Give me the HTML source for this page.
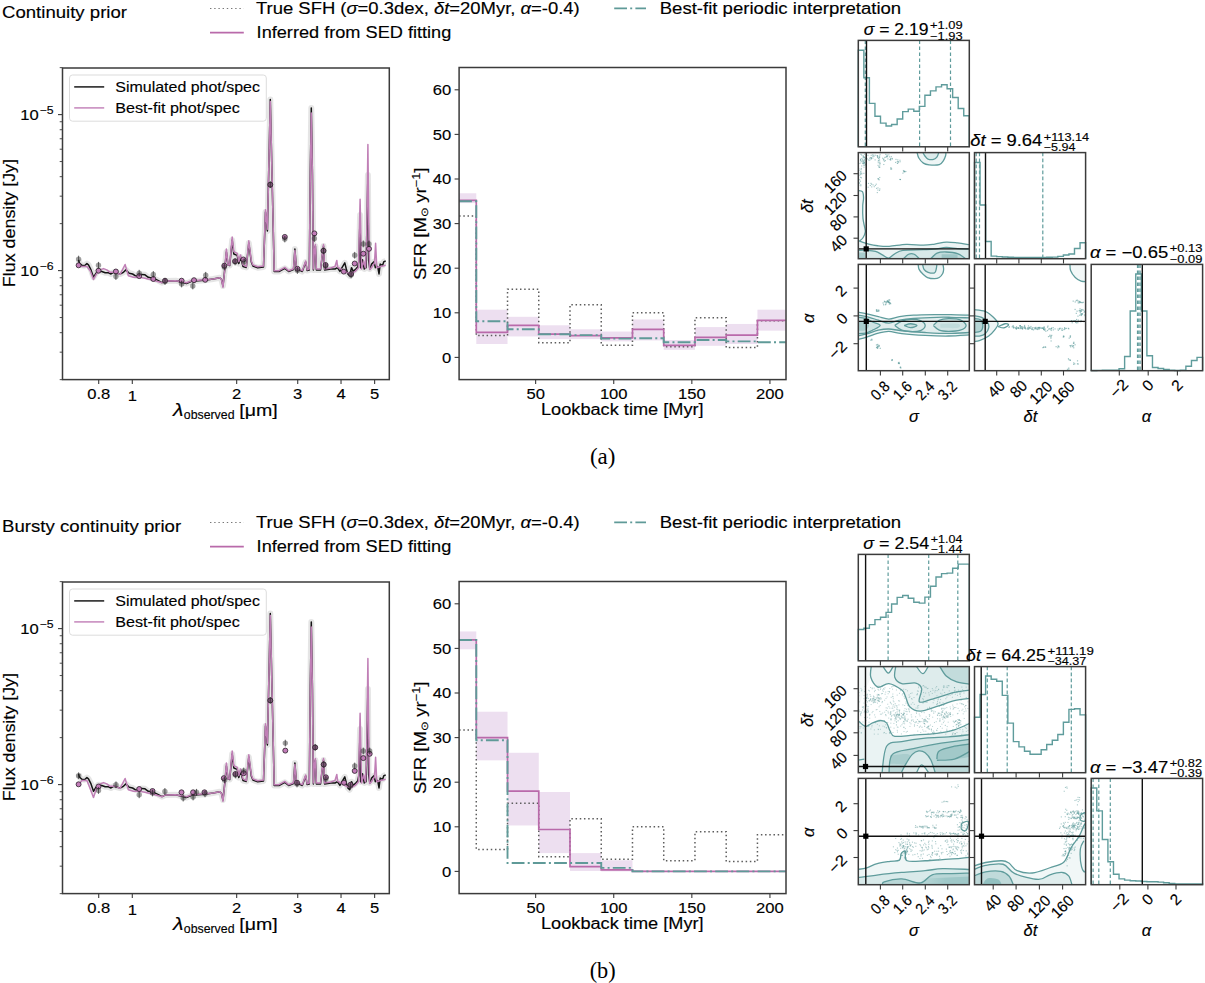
<!DOCTYPE html><html><head><meta charset="utf-8"><style>html,body{margin:0;padding:0;background:#fff}svg{display:block} text{stroke:#000;stroke-width:0.15px;paint-order:stroke}</style></head><body>
<svg width="1205" height="983" viewBox="0 0 1205 983">
<rect width="1205" height="983" fill="#fff"/>
<text x="2" y="17.9" font-size="17.2" font-family='"Liberation Sans", sans-serif' fill="#000" textLength="125" lengthAdjust="spacingAndGlyphs" >Continuity prior</text>
<line x1="210" y1="8.5" x2="243.7" y2="8.5" stroke="#777" stroke-width="1.2" stroke-dasharray="1.4,2.8"/>
<text x="256" y="13.7" font-size="16" font-family='"Liberation Sans", sans-serif' fill="#000" textLength="323.7" lengthAdjust="spacingAndGlyphs" >True SFH (<tspan font-style="italic">σ</tspan>=0.3dex, <tspan font-style="italic">δt</tspan>=20Myr, <tspan font-style="italic">α</tspan>=-0.4)</text>
<line x1="614.2" y1="8.3" x2="646" y2="8.3" stroke="#5f9a98" stroke-width="1.7" stroke-dasharray="12.8,3.2,2,3.2"/>
<text x="659.7" y="13.7" font-size="16" font-family='"Liberation Sans", sans-serif' fill="#000" textLength="241.5" lengthAdjust="spacingAndGlyphs" >Best-fit periodic interpretation</text>
<line x1="210" y1="32.7" x2="243.8" y2="32.7" stroke="#b96aaa" stroke-width="1.7" />
<text x="256.6" y="38.2" font-size="16" font-family='"Liberation Sans", sans-serif' fill="#000" textLength="194.7" lengthAdjust="spacingAndGlyphs" >Inferred from SED fitting</text>
<line x1="98.7" y1="379.6" x2="98.7" y2="384.1" stroke="#3b3b3b" stroke-width="1.1" />
<text x="98.7" y="398.8" font-size="15.0" font-family='"Liberation Sans", sans-serif' fill="#000" text-anchor="middle" textLength="23.06" lengthAdjust="spacingAndGlyphs" >0.8</text>
<line x1="132.3" y1="379.6" x2="132.3" y2="384.1" stroke="#3b3b3b" stroke-width="1.1" />
<text x="132.3" y="400.6" font-size="15.0" font-family='"Liberation Sans", sans-serif' fill="#000" text-anchor="middle" textLength="9.23" lengthAdjust="spacingAndGlyphs" >1</text>
<line x1="236.67" y1="379.6" x2="236.67" y2="384.1" stroke="#3b3b3b" stroke-width="1.1" />
<text x="236.67" y="398.8" font-size="15.0" font-family='"Liberation Sans", sans-serif' fill="#000" text-anchor="middle" textLength="9.23" lengthAdjust="spacingAndGlyphs" >2</text>
<line x1="297.72" y1="379.6" x2="297.72" y2="384.1" stroke="#3b3b3b" stroke-width="1.1" />
<text x="297.72" y="398.8" font-size="15.0" font-family='"Liberation Sans", sans-serif' fill="#000" text-anchor="middle" textLength="9.23" lengthAdjust="spacingAndGlyphs" >3</text>
<line x1="341.03" y1="379.6" x2="341.03" y2="384.1" stroke="#3b3b3b" stroke-width="1.1" />
<text x="341.03" y="398.8" font-size="15.0" font-family='"Liberation Sans", sans-serif' fill="#000" text-anchor="middle" textLength="9.23" lengthAdjust="spacingAndGlyphs" >4</text>
<line x1="374.63" y1="379.6" x2="374.63" y2="384.1" stroke="#3b3b3b" stroke-width="1.1" />
<text x="374.63" y="398.8" font-size="15.0" font-family='"Liberation Sans", sans-serif' fill="#000" text-anchor="middle" textLength="9.23" lengthAdjust="spacingAndGlyphs" >5</text>
<line x1="59.7" y1="379.64" x2="62.5" y2="379.64" stroke="#3b3b3b" stroke-width="0.9" />
<line x1="59.7" y1="352.17" x2="62.5" y2="352.17" stroke="#3b3b3b" stroke-width="0.9" />
<line x1="59.7" y1="332.68" x2="62.5" y2="332.68" stroke="#3b3b3b" stroke-width="0.9" />
<line x1="59.7" y1="317.56" x2="62.5" y2="317.56" stroke="#3b3b3b" stroke-width="0.9" />
<line x1="59.7" y1="305.21" x2="62.5" y2="305.21" stroke="#3b3b3b" stroke-width="0.9" />
<line x1="59.7" y1="294.76" x2="62.5" y2="294.76" stroke="#3b3b3b" stroke-width="0.9" />
<line x1="59.7" y1="285.72" x2="62.5" y2="285.72" stroke="#3b3b3b" stroke-width="0.9" />
<line x1="59.7" y1="277.74" x2="62.5" y2="277.74" stroke="#3b3b3b" stroke-width="0.9" />
<line x1="58" y1="270.6" x2="62.5" y2="270.6" stroke="#3b3b3b" stroke-width="1.1" />
<line x1="59.7" y1="223.64" x2="62.5" y2="223.64" stroke="#3b3b3b" stroke-width="0.9" />
<line x1="59.7" y1="196.17" x2="62.5" y2="196.17" stroke="#3b3b3b" stroke-width="0.9" />
<line x1="59.7" y1="176.68" x2="62.5" y2="176.68" stroke="#3b3b3b" stroke-width="0.9" />
<line x1="59.7" y1="161.56" x2="62.5" y2="161.56" stroke="#3b3b3b" stroke-width="0.9" />
<line x1="59.7" y1="149.21" x2="62.5" y2="149.21" stroke="#3b3b3b" stroke-width="0.9" />
<line x1="59.7" y1="138.76" x2="62.5" y2="138.76" stroke="#3b3b3b" stroke-width="0.9" />
<line x1="59.7" y1="129.72" x2="62.5" y2="129.72" stroke="#3b3b3b" stroke-width="0.9" />
<line x1="59.7" y1="121.74" x2="62.5" y2="121.74" stroke="#3b3b3b" stroke-width="0.9" />
<line x1="58" y1="114.6" x2="62.5" y2="114.6" stroke="#3b3b3b" stroke-width="1.1" />
<line x1="59.7" y1="67.64" x2="62.5" y2="67.64" stroke="#3b3b3b" stroke-width="0.9" />
<text x="38.7" y="119.7" font-size="15.0" font-family='"Liberation Sans", sans-serif' fill="#000" text-anchor="end" textLength="18.45" lengthAdjust="spacingAndGlyphs" >10</text>
<text x="39.7" y="113.6" font-size="11" font-family='"Liberation Sans", sans-serif' fill="#000" textLength="14" lengthAdjust="spacingAndGlyphs" >−5</text>
<text x="38.7" y="275.7" font-size="15.0" font-family='"Liberation Sans", sans-serif' fill="#000" text-anchor="end" textLength="18.45" lengthAdjust="spacingAndGlyphs" >10</text>
<text x="39.7" y="269.6" font-size="11" font-family='"Liberation Sans", sans-serif' fill="#000" textLength="14" lengthAdjust="spacingAndGlyphs" >−6</text>
<text x="172.9" y="415.8" font-size="17.5" font-family='"Liberation Sans", sans-serif' fill="#000" textLength="10.5" lengthAdjust="spacingAndGlyphs" font-style="italic">λ</text>
<text x="183.8" y="418.8" font-size="12.2" font-family='"Liberation Sans", sans-serif' fill="#000" textLength="50.7" lengthAdjust="spacingAndGlyphs" >observed</text>
<text x="239.3" y="415.8" font-size="16" font-family='"Liberation Sans", sans-serif' fill="#000" textLength="38.5" lengthAdjust="spacingAndGlyphs" >[μm]</text>
<text x="15.3" y="223.1" font-size="16" font-family='"Liberation Sans", sans-serif' fill="#000" text-anchor="middle" textLength="128.2" lengthAdjust="spacingAndGlyphs" transform="rotate(-90 15.3 223.1)" >Flux density [Jy]</text>
<rect x="62.5" y="68" width="326.8" height="311.6" fill="none" stroke="#3b3b3b" stroke-width="1.5" />
<line x1="535.64" y1="379.6" x2="535.64" y2="384.1" stroke="#3b3b3b" stroke-width="1.1" />
<text x="535.64" y="398.8" font-size="15.0" font-family='"Liberation Sans", sans-serif' fill="#000" text-anchor="middle" textLength="18.45" lengthAdjust="spacingAndGlyphs" >50</text>
<line x1="613.74" y1="379.6" x2="613.74" y2="384.1" stroke="#3b3b3b" stroke-width="1.1" />
<text x="613.74" y="398.8" font-size="15.0" font-family='"Liberation Sans", sans-serif' fill="#000" text-anchor="middle" textLength="27.68" lengthAdjust="spacingAndGlyphs" >100</text>
<line x1="691.84" y1="379.6" x2="691.84" y2="384.1" stroke="#3b3b3b" stroke-width="1.1" />
<text x="691.84" y="398.8" font-size="15.0" font-family='"Liberation Sans", sans-serif' fill="#000" text-anchor="middle" textLength="27.68" lengthAdjust="spacingAndGlyphs" >150</text>
<line x1="769.94" y1="379.6" x2="769.94" y2="384.1" stroke="#3b3b3b" stroke-width="1.1" />
<text x="769.94" y="398.8" font-size="15.0" font-family='"Liberation Sans", sans-serif' fill="#000" text-anchor="middle" textLength="27.68" lengthAdjust="spacingAndGlyphs" >200</text>
<line x1="454.6" y1="357.4" x2="459.1" y2="357.4" stroke="#3b3b3b" stroke-width="1.1" />
<text x="451.2" y="362.8" font-size="15.0" font-family='"Liberation Sans", sans-serif' fill="#000" text-anchor="end" textLength="9.23" lengthAdjust="spacingAndGlyphs" >0</text>
<line x1="454.6" y1="312.8" x2="459.1" y2="312.8" stroke="#3b3b3b" stroke-width="1.1" />
<text x="451.2" y="318.2" font-size="15.0" font-family='"Liberation Sans", sans-serif' fill="#000" text-anchor="end" textLength="18.45" lengthAdjust="spacingAndGlyphs" >10</text>
<line x1="454.6" y1="268.2" x2="459.1" y2="268.2" stroke="#3b3b3b" stroke-width="1.1" />
<text x="451.2" y="273.6" font-size="15.0" font-family='"Liberation Sans", sans-serif' fill="#000" text-anchor="end" textLength="18.45" lengthAdjust="spacingAndGlyphs" >20</text>
<line x1="454.6" y1="223.6" x2="459.1" y2="223.6" stroke="#3b3b3b" stroke-width="1.1" />
<text x="451.2" y="229" font-size="15.0" font-family='"Liberation Sans", sans-serif' fill="#000" text-anchor="end" textLength="18.45" lengthAdjust="spacingAndGlyphs" >30</text>
<line x1="454.6" y1="179" x2="459.1" y2="179" stroke="#3b3b3b" stroke-width="1.1" />
<text x="451.2" y="184.4" font-size="15.0" font-family='"Liberation Sans", sans-serif' fill="#000" text-anchor="end" textLength="18.45" lengthAdjust="spacingAndGlyphs" >40</text>
<line x1="454.6" y1="134.4" x2="459.1" y2="134.4" stroke="#3b3b3b" stroke-width="1.1" />
<text x="451.2" y="139.8" font-size="15.0" font-family='"Liberation Sans", sans-serif' fill="#000" text-anchor="end" textLength="18.45" lengthAdjust="spacingAndGlyphs" >50</text>
<line x1="454.6" y1="89.8" x2="459.1" y2="89.8" stroke="#3b3b3b" stroke-width="1.1" />
<text x="451.2" y="95.2" font-size="15.0" font-family='"Liberation Sans", sans-serif' fill="#000" text-anchor="end" textLength="18.45" lengthAdjust="spacingAndGlyphs" >60</text>
<text x="622.3" y="415.4" font-size="16" font-family='"Liberation Sans", sans-serif' fill="#000" text-anchor="middle" textLength="162.6" lengthAdjust="spacingAndGlyphs" >Lookback time [Myr]</text>
<text x="426" y="223.8" font-size="16" font-family='"Liberation Sans", sans-serif' fill="#000" text-anchor="middle" textLength="112.4" lengthAdjust="spacingAndGlyphs" transform="rotate(-90 426 223.8)" >SFR [M<tspan font-size="10" dy="2.5">⊙</tspan><tspan dy="-2.5"> yr</tspan><tspan font-size="11" dy="-6">−1</tspan><tspan dy="6">]</tspan></text>
<g clip-path="url(#sfrclip0)">
<clipPath id="sfrclip0"><rect x="459.1" y="67.5" width="326.9" height="312.1"/></clipPath>
<rect x="459.1" y="193.27" width="17.18" height="9.81" fill="#eddff0" stroke="none" stroke-width="1" />
<rect x="476.28" y="309.68" width="31.24" height="34.34" fill="#eddff0" stroke="none" stroke-width="1" />
<rect x="507.52" y="316.81" width="31.24" height="19.62" fill="#eddff0" stroke="none" stroke-width="1" />
<rect x="538.76" y="325.29" width="31.24" height="13.83" fill="#eddff0" stroke="none" stroke-width="1" />
<rect x="570" y="329.3" width="31.24" height="9.81" fill="#eddff0" stroke="none" stroke-width="1" />
<rect x="601.24" y="331.53" width="31.24" height="9.81" fill="#eddff0" stroke="none" stroke-width="1" />
<rect x="632.48" y="319.49" width="31.24" height="20.96" fill="#eddff0" stroke="none" stroke-width="1" />
<rect x="663.72" y="340.01" width="31.24" height="9.81" fill="#eddff0" stroke="none" stroke-width="1" />
<rect x="694.96" y="327.07" width="31.24" height="18.73" fill="#eddff0" stroke="none" stroke-width="1" />
<rect x="726.2" y="323.95" width="31.24" height="20.07" fill="#eddff0" stroke="none" stroke-width="1" />
<rect x="757.44" y="309.68" width="28.12" height="20.96" fill="#eddff0" stroke="none" stroke-width="1" />
<polyline points="459.1,216.02 476.28,216.02 476.28,335.55 507.52,335.55 507.52,289.16 538.76,289.16 538.76,342.68 570,342.68 570,304.77 601.24,304.77 601.24,345.36 632.48,345.36 632.48,312.8 663.72,312.8 663.72,346.7 694.96,346.7 694.96,317.71 726.2,317.71 726.2,347.59 757.44,347.59 757.44,320.83 785.56,320.83" fill="none" stroke="#5c5c5c" stroke-width="1.5" stroke-dasharray="1.5,2.7"/>
<polyline points="459.1,200.41 476.28,200.41 476.28,332.42 507.52,332.42 507.52,325.29 538.76,325.29 538.76,334.21 570,334.21 570,335.55 601.24,335.55 601.24,337.78 632.48,337.78 632.48,329.3 663.72,329.3 663.72,345.36 694.96,345.36 694.96,337.33 726.2,337.33 726.2,335.1 757.44,335.1 757.44,320.38 785.56,320.38" fill="none" stroke="#b96aaa" stroke-width="1.7" />
<polyline points="459.1,201.3 476.28,201.3 476.28,321.27 507.52,321.27 507.52,329.3 538.76,329.3 538.76,334.21 570,334.21 570,335.1 601.24,335.1 601.24,338.67 632.48,338.67 632.48,338.22 663.72,338.22 663.72,342.24 694.96,342.24 694.96,340.01 726.2,340.01 726.2,341.34 757.44,341.34 757.44,342.24 785.56,342.24" fill="none" stroke="#5f9a98" stroke-width="1.9" stroke-dasharray="12.8,3.2,2,3.2"/>
</g>
<rect x="459.1" y="67.5" width="326.9" height="312.1" fill="none" stroke="#3b3b3b" stroke-width="1.5" />
<text x="2" y="531.9" font-size="17.2" font-family='"Liberation Sans", sans-serif' fill="#000" textLength="179.2" lengthAdjust="spacingAndGlyphs" >Bursty continuity prior</text>
<line x1="210" y1="522.5" x2="243.7" y2="522.5" stroke="#777" stroke-width="1.2" stroke-dasharray="1.4,2.8"/>
<text x="256" y="527.7" font-size="16" font-family='"Liberation Sans", sans-serif' fill="#000" textLength="323.7" lengthAdjust="spacingAndGlyphs" >True SFH (<tspan font-style="italic">σ</tspan>=0.3dex, <tspan font-style="italic">δt</tspan>=20Myr, <tspan font-style="italic">α</tspan>=-0.4)</text>
<line x1="614.2" y1="522.3" x2="646" y2="522.3" stroke="#5f9a98" stroke-width="1.7" stroke-dasharray="12.8,3.2,2,3.2"/>
<text x="659.7" y="527.7" font-size="16" font-family='"Liberation Sans", sans-serif' fill="#000" textLength="241.5" lengthAdjust="spacingAndGlyphs" >Best-fit periodic interpretation</text>
<line x1="210" y1="546.7" x2="243.8" y2="546.7" stroke="#b96aaa" stroke-width="1.7" />
<text x="256.6" y="552.2" font-size="16" font-family='"Liberation Sans", sans-serif' fill="#000" textLength="194.7" lengthAdjust="spacingAndGlyphs" >Inferred from SED fitting</text>
<line x1="98.7" y1="893.6" x2="98.7" y2="898.1" stroke="#3b3b3b" stroke-width="1.1" />
<text x="98.7" y="912.8" font-size="15.0" font-family='"Liberation Sans", sans-serif' fill="#000" text-anchor="middle" textLength="23.06" lengthAdjust="spacingAndGlyphs" >0.8</text>
<line x1="132.3" y1="893.6" x2="132.3" y2="898.1" stroke="#3b3b3b" stroke-width="1.1" />
<text x="132.3" y="914.6" font-size="15.0" font-family='"Liberation Sans", sans-serif' fill="#000" text-anchor="middle" textLength="9.23" lengthAdjust="spacingAndGlyphs" >1</text>
<line x1="236.67" y1="893.6" x2="236.67" y2="898.1" stroke="#3b3b3b" stroke-width="1.1" />
<text x="236.67" y="912.8" font-size="15.0" font-family='"Liberation Sans", sans-serif' fill="#000" text-anchor="middle" textLength="9.23" lengthAdjust="spacingAndGlyphs" >2</text>
<line x1="297.72" y1="893.6" x2="297.72" y2="898.1" stroke="#3b3b3b" stroke-width="1.1" />
<text x="297.72" y="912.8" font-size="15.0" font-family='"Liberation Sans", sans-serif' fill="#000" text-anchor="middle" textLength="9.23" lengthAdjust="spacingAndGlyphs" >3</text>
<line x1="341.03" y1="893.6" x2="341.03" y2="898.1" stroke="#3b3b3b" stroke-width="1.1" />
<text x="341.03" y="912.8" font-size="15.0" font-family='"Liberation Sans", sans-serif' fill="#000" text-anchor="middle" textLength="9.23" lengthAdjust="spacingAndGlyphs" >4</text>
<line x1="374.63" y1="893.6" x2="374.63" y2="898.1" stroke="#3b3b3b" stroke-width="1.1" />
<text x="374.63" y="912.8" font-size="15.0" font-family='"Liberation Sans", sans-serif' fill="#000" text-anchor="middle" textLength="9.23" lengthAdjust="spacingAndGlyphs" >5</text>
<line x1="59.7" y1="893.64" x2="62.5" y2="893.64" stroke="#3b3b3b" stroke-width="0.9" />
<line x1="59.7" y1="866.17" x2="62.5" y2="866.17" stroke="#3b3b3b" stroke-width="0.9" />
<line x1="59.7" y1="846.68" x2="62.5" y2="846.68" stroke="#3b3b3b" stroke-width="0.9" />
<line x1="59.7" y1="831.56" x2="62.5" y2="831.56" stroke="#3b3b3b" stroke-width="0.9" />
<line x1="59.7" y1="819.21" x2="62.5" y2="819.21" stroke="#3b3b3b" stroke-width="0.9" />
<line x1="59.7" y1="808.76" x2="62.5" y2="808.76" stroke="#3b3b3b" stroke-width="0.9" />
<line x1="59.7" y1="799.72" x2="62.5" y2="799.72" stroke="#3b3b3b" stroke-width="0.9" />
<line x1="59.7" y1="791.74" x2="62.5" y2="791.74" stroke="#3b3b3b" stroke-width="0.9" />
<line x1="58" y1="784.6" x2="62.5" y2="784.6" stroke="#3b3b3b" stroke-width="1.1" />
<line x1="59.7" y1="737.64" x2="62.5" y2="737.64" stroke="#3b3b3b" stroke-width="0.9" />
<line x1="59.7" y1="710.17" x2="62.5" y2="710.17" stroke="#3b3b3b" stroke-width="0.9" />
<line x1="59.7" y1="690.68" x2="62.5" y2="690.68" stroke="#3b3b3b" stroke-width="0.9" />
<line x1="59.7" y1="675.56" x2="62.5" y2="675.56" stroke="#3b3b3b" stroke-width="0.9" />
<line x1="59.7" y1="663.21" x2="62.5" y2="663.21" stroke="#3b3b3b" stroke-width="0.9" />
<line x1="59.7" y1="652.76" x2="62.5" y2="652.76" stroke="#3b3b3b" stroke-width="0.9" />
<line x1="59.7" y1="643.72" x2="62.5" y2="643.72" stroke="#3b3b3b" stroke-width="0.9" />
<line x1="59.7" y1="635.74" x2="62.5" y2="635.74" stroke="#3b3b3b" stroke-width="0.9" />
<line x1="58" y1="628.6" x2="62.5" y2="628.6" stroke="#3b3b3b" stroke-width="1.1" />
<line x1="59.7" y1="581.64" x2="62.5" y2="581.64" stroke="#3b3b3b" stroke-width="0.9" />
<text x="38.7" y="633.7" font-size="15.0" font-family='"Liberation Sans", sans-serif' fill="#000" text-anchor="end" textLength="18.45" lengthAdjust="spacingAndGlyphs" >10</text>
<text x="39.7" y="627.6" font-size="11" font-family='"Liberation Sans", sans-serif' fill="#000" textLength="14" lengthAdjust="spacingAndGlyphs" >−5</text>
<text x="38.7" y="789.7" font-size="15.0" font-family='"Liberation Sans", sans-serif' fill="#000" text-anchor="end" textLength="18.45" lengthAdjust="spacingAndGlyphs" >10</text>
<text x="39.7" y="783.6" font-size="11" font-family='"Liberation Sans", sans-serif' fill="#000" textLength="14" lengthAdjust="spacingAndGlyphs" >−6</text>
<text x="172.9" y="929.8" font-size="17.5" font-family='"Liberation Sans", sans-serif' fill="#000" textLength="10.5" lengthAdjust="spacingAndGlyphs" font-style="italic">λ</text>
<text x="183.8" y="932.8" font-size="12.2" font-family='"Liberation Sans", sans-serif' fill="#000" textLength="50.7" lengthAdjust="spacingAndGlyphs" >observed</text>
<text x="239.3" y="929.8" font-size="16" font-family='"Liberation Sans", sans-serif' fill="#000" textLength="38.5" lengthAdjust="spacingAndGlyphs" >[μm]</text>
<text x="15.3" y="737.1" font-size="16" font-family='"Liberation Sans", sans-serif' fill="#000" text-anchor="middle" textLength="128.2" lengthAdjust="spacingAndGlyphs" transform="rotate(-90 15.3 737.1)" >Flux density [Jy]</text>
<rect x="62.5" y="582" width="326.8" height="311.6" fill="none" stroke="#3b3b3b" stroke-width="1.5" />
<line x1="535.64" y1="893.6" x2="535.64" y2="898.1" stroke="#3b3b3b" stroke-width="1.1" />
<text x="535.64" y="912.8" font-size="15.0" font-family='"Liberation Sans", sans-serif' fill="#000" text-anchor="middle" textLength="18.45" lengthAdjust="spacingAndGlyphs" >50</text>
<line x1="613.74" y1="893.6" x2="613.74" y2="898.1" stroke="#3b3b3b" stroke-width="1.1" />
<text x="613.74" y="912.8" font-size="15.0" font-family='"Liberation Sans", sans-serif' fill="#000" text-anchor="middle" textLength="27.68" lengthAdjust="spacingAndGlyphs" >100</text>
<line x1="691.84" y1="893.6" x2="691.84" y2="898.1" stroke="#3b3b3b" stroke-width="1.1" />
<text x="691.84" y="912.8" font-size="15.0" font-family='"Liberation Sans", sans-serif' fill="#000" text-anchor="middle" textLength="27.68" lengthAdjust="spacingAndGlyphs" >150</text>
<line x1="769.94" y1="893.6" x2="769.94" y2="898.1" stroke="#3b3b3b" stroke-width="1.1" />
<text x="769.94" y="912.8" font-size="15.0" font-family='"Liberation Sans", sans-serif' fill="#000" text-anchor="middle" textLength="27.68" lengthAdjust="spacingAndGlyphs" >200</text>
<line x1="454.6" y1="871.4" x2="459.1" y2="871.4" stroke="#3b3b3b" stroke-width="1.1" />
<text x="451.2" y="876.8" font-size="15.0" font-family='"Liberation Sans", sans-serif' fill="#000" text-anchor="end" textLength="9.23" lengthAdjust="spacingAndGlyphs" >0</text>
<line x1="454.6" y1="826.8" x2="459.1" y2="826.8" stroke="#3b3b3b" stroke-width="1.1" />
<text x="451.2" y="832.2" font-size="15.0" font-family='"Liberation Sans", sans-serif' fill="#000" text-anchor="end" textLength="18.45" lengthAdjust="spacingAndGlyphs" >10</text>
<line x1="454.6" y1="782.2" x2="459.1" y2="782.2" stroke="#3b3b3b" stroke-width="1.1" />
<text x="451.2" y="787.6" font-size="15.0" font-family='"Liberation Sans", sans-serif' fill="#000" text-anchor="end" textLength="18.45" lengthAdjust="spacingAndGlyphs" >20</text>
<line x1="454.6" y1="737.6" x2="459.1" y2="737.6" stroke="#3b3b3b" stroke-width="1.1" />
<text x="451.2" y="743" font-size="15.0" font-family='"Liberation Sans", sans-serif' fill="#000" text-anchor="end" textLength="18.45" lengthAdjust="spacingAndGlyphs" >30</text>
<line x1="454.6" y1="693" x2="459.1" y2="693" stroke="#3b3b3b" stroke-width="1.1" />
<text x="451.2" y="698.4" font-size="15.0" font-family='"Liberation Sans", sans-serif' fill="#000" text-anchor="end" textLength="18.45" lengthAdjust="spacingAndGlyphs" >40</text>
<line x1="454.6" y1="648.4" x2="459.1" y2="648.4" stroke="#3b3b3b" stroke-width="1.1" />
<text x="451.2" y="653.8" font-size="15.0" font-family='"Liberation Sans", sans-serif' fill="#000" text-anchor="end" textLength="18.45" lengthAdjust="spacingAndGlyphs" >50</text>
<line x1="454.6" y1="603.8" x2="459.1" y2="603.8" stroke="#3b3b3b" stroke-width="1.1" />
<text x="451.2" y="609.2" font-size="15.0" font-family='"Liberation Sans", sans-serif' fill="#000" text-anchor="end" textLength="18.45" lengthAdjust="spacingAndGlyphs" >60</text>
<text x="622.3" y="929.4" font-size="16" font-family='"Liberation Sans", sans-serif' fill="#000" text-anchor="middle" textLength="162.6" lengthAdjust="spacingAndGlyphs" >Lookback time [Myr]</text>
<text x="426" y="737.8" font-size="16" font-family='"Liberation Sans", sans-serif' fill="#000" text-anchor="middle" textLength="112.4" lengthAdjust="spacingAndGlyphs" transform="rotate(-90 426 737.8)" >SFR [M<tspan font-size="10" dy="2.5">⊙</tspan><tspan dy="-2.5"> yr</tspan><tspan font-size="11" dy="-6">−1</tspan><tspan dy="6">]</tspan></text>
<g clip-path="url(#sfrclip514)">
<clipPath id="sfrclip514"><rect x="459.1" y="581.5" width="326.9" height="312.1"/></clipPath>
<rect x="459.1" y="631.45" width="17.18" height="17.84" fill="#eddff0" stroke="none" stroke-width="1" />
<rect x="476.28" y="711.73" width="31.24" height="48.61" fill="#eddff0" stroke="none" stroke-width="1" />
<rect x="507.52" y="752.76" width="31.24" height="72.7" fill="#eddff0" stroke="none" stroke-width="1" />
<rect x="538.76" y="792.01" width="31.24" height="61.1" fill="#eddff0" stroke="none" stroke-width="1" />
<rect x="570" y="853.11" width="31.24" height="17.84" fill="#eddff0" stroke="none" stroke-width="1" />
<rect x="601.24" y="860.25" width="31.24" height="11.15" fill="#eddff0" stroke="none" stroke-width="1" />
<rect x="632.48" y="870.06" width="31.24" height="1.34" fill="#eddff0" stroke="none" stroke-width="1" />
<rect x="663.72" y="870.95" width="31.24" height="0.45" fill="#eddff0" stroke="none" stroke-width="1" />
<rect x="694.96" y="870.95" width="31.24" height="0.45" fill="#eddff0" stroke="none" stroke-width="1" />
<rect x="726.2" y="870.95" width="31.24" height="0.45" fill="#eddff0" stroke="none" stroke-width="1" />
<rect x="757.44" y="870.95" width="28.12" height="0.45" fill="#eddff0" stroke="none" stroke-width="1" />
<polyline points="459.1,730.02 476.28,730.02 476.28,849.55 507.52,849.55 507.52,803.16 538.76,803.16 538.76,856.68 570,856.68 570,818.77 601.24,818.77 601.24,859.36 632.48,859.36 632.48,826.8 663.72,826.8 663.72,860.7 694.96,860.7 694.96,831.71 726.2,831.71 726.2,861.59 757.44,861.59 757.44,834.83 785.56,834.83" fill="none" stroke="#5c5c5c" stroke-width="1.5" stroke-dasharray="1.5,2.7"/>
<polyline points="459.1,639.93 476.28,639.93 476.28,737.6 507.52,737.6 507.52,791.12 538.76,791.12 538.76,829.48 570,829.48 570,866.72 601.24,866.72 601.24,869.79 632.48,869.79 632.48,871.4 663.72,871.4 663.72,871.4 694.96,871.4 694.96,871.4 726.2,871.4 726.2,871.4 757.44,871.4 757.44,871.4 785.56,871.4" fill="none" stroke="#b96aaa" stroke-width="1.7" />
<polyline points="459.1,639.93 476.28,639.93 476.28,740.28 507.52,740.28 507.52,862.93 538.76,862.93 538.76,862.93 570,862.93 570,862.93 601.24,862.93 601.24,867.83 632.48,867.83 632.48,871.4 663.72,871.4 663.72,871.4 694.96,871.4 694.96,871.4 726.2,871.4 726.2,871.4 757.44,871.4 757.44,871.4 785.56,871.4" fill="none" stroke="#5f9a98" stroke-width="1.9" stroke-dasharray="12.8,3.2,2,3.2"/>
</g>
<rect x="459.1" y="581.5" width="326.9" height="312.1" fill="none" stroke="#3b3b3b" stroke-width="1.5" />
<polyline points="858.3,146.8 858.3,50.26 863.85,50.26 863.85,77.72 869.4,77.72 869.4,103.36 874.95,103.36 874.95,116.18 880.5,116.18 880.5,123.13 886.05,123.13 886.05,125.94 891.6,125.94 891.6,124.48 897.15,124.48 897.15,118.98 902.7,118.98 902.7,111.66 908.25,111.66 908.25,109.1 913.8,109.1 913.8,111.29 919.35,111.29 919.35,106.41 924.9,106.41 924.9,95.18 930.45,95.18 930.45,90.91 936,90.91 936,86.88 941.55,86.88 941.55,84.8 947.1,84.8 947.1,88.71 952.65,88.71 952.65,97.5 958.2,97.5 958.2,108.49 963.75,108.49 963.75,115.81 969.3,115.81 969.3,146.8" fill="none" stroke="#5f9c9c" stroke-width="1.4" />
<line x1="865.3" y1="40.4" x2="865.3" y2="146.8" stroke="#5f9c9c" stroke-width="1.2" stroke-dasharray="3.6,2.4"/>
<line x1="919.6" y1="40.4" x2="919.6" y2="146.8" stroke="#5f9c9c" stroke-width="1.2" stroke-dasharray="3.6,2.4"/>
<line x1="950.5" y1="40.4" x2="950.5" y2="146.8" stroke="#5f9c9c" stroke-width="1.2" stroke-dasharray="3.6,2.4"/>
<line x1="866.5" y1="40.4" x2="866.5" y2="146.8" stroke="#111" stroke-width="1.4" />
<polyline points="974.5,258.7 974.5,162.48 980.05,162.48 980.05,205.06 985.61,205.06 985.61,241.56 991.16,241.56 991.16,256.11 996.72,256.11 996.72,256.64 1002.27,256.64 1002.27,257.03 1007.83,257.03 1007.83,257.3 1013.38,257.3 1013.38,257.43 1018.94,257.43 1018.94,257.43 1024.49,257.43 1024.49,257.43 1030.05,257.43 1030.05,257.43 1035.61,257.43 1035.61,257.43 1041.16,257.43 1041.16,257.43 1046.71,257.43 1046.71,257.3 1052.27,257.3 1052.27,257.16 1057.82,257.16 1057.82,256.37 1063.38,256.37 1063.38,255.05 1068.93,255.05 1068.93,253.99 1074.49,253.99 1074.49,248.44 1080.04,248.44 1080.04,242.75 1085.6,242.75 1085.6,258.7" fill="none" stroke="#5f9c9c" stroke-width="1.4" />
<line x1="976.2" y1="152.6" x2="976.2" y2="258.7" stroke="#5f9c9c" stroke-width="1.2" stroke-dasharray="3.6,2.4"/>
<line x1="979.5" y1="152.6" x2="979.5" y2="258.7" stroke="#5f9c9c" stroke-width="1.2" stroke-dasharray="3.6,2.4"/>
<line x1="1042.8" y1="152.6" x2="1042.8" y2="258.7" stroke="#5f9c9c" stroke-width="1.2" stroke-dasharray="3.6,2.4"/>
<line x1="985.5" y1="152.6" x2="985.5" y2="258.7" stroke="#111" stroke-width="1.4" />
<polyline points="1091.2,370.7 1091.2,370.46 1096.77,370.46 1096.77,370.34 1102.34,370.34 1102.34,370.21 1107.91,370.21 1107.91,370.08 1113.48,370.08 1113.48,370.08 1119.05,370.08 1119.05,368.81 1124.62,368.81 1124.62,356.48 1130.19,356.48 1130.19,310.95 1135.76,310.95 1135.76,274.07 1141.33,274.07 1141.33,310.95 1146.9,310.95 1146.9,355.71 1152.47,355.71 1152.47,367.54 1158.04,367.54 1158.04,368.56 1163.61,368.56 1163.61,369.45 1169.18,369.45 1169.18,370.08 1174.75,370.08 1174.75,370.46 1180.32,370.46 1180.32,370.08 1185.89,370.08 1185.89,366.27 1191.46,366.27 1191.46,360.54 1197.03,360.54 1197.03,357.37 1202.6,357.37 1202.6,370.7" fill="none" stroke="#5f9c9c" stroke-width="1.4" />
<line x1="1137.5" y1="264.4" x2="1137.5" y2="370.7" stroke="#5f9c9c" stroke-width="1.2" stroke-dasharray="3.6,2.4"/>
<line x1="1138.8" y1="264.4" x2="1138.8" y2="370.7" stroke="#5f9c9c" stroke-width="1.2" stroke-dasharray="3.6,2.4"/>
<line x1="1140.1" y1="264.4" x2="1140.1" y2="370.7" stroke="#5f9c9c" stroke-width="1.2" stroke-dasharray="3.6,2.4"/>
<line x1="1142.3" y1="264.4" x2="1142.3" y2="370.7" stroke="#111" stroke-width="1.4" />
<clipPath id="ct10"><rect x="858.3" y="152.6" width="111" height="106.1"/></clipPath><g clip-path="url(#ct10)">
<path d="M917.11,152.51 C917.39,153.42 917.77,156.21 918.82,157.98 C919.86,159.74 921.67,161.97 923.38,163.11 C925.09,164.25 926.42,164.57 929.07,164.81 C931.73,165.06 936.96,165.25 939.33,164.59 C941.7,163.92 942.27,162.31 943.32,160.83 C944.36,159.34 945.16,157.08 945.6,155.7 C946.04,154.31 945.88,153.04 945.94,152.51 Z" fill="#eef5f5" />
<path d="M922.81,152.51 C923.19,153.13 924.23,155.17 925.09,156.27 C925.94,157.37 926.51,158.6 927.93,159.12 C929.36,159.63 932.11,159.72 933.63,159.34 C935.15,158.96 936.2,157.98 937.05,156.84 C937.91,155.7 938.48,153.23 938.76,152.51 Z" fill="#dcebeb" />
<path d="M858.19,190.46 C858.89,190.65 861.51,190.36 862.41,191.6 C863.3,192.83 863.49,195.49 863.55,197.86 C863.6,200.24 862.84,202.42 862.75,205.84 C862.65,209.26 862.65,214.77 862.98,218.38 C863.3,221.98 864.31,225.21 864.69,227.49 C865.07,229.77 865.54,230.34 865.26,232.05 C864.97,233.76 863.93,236.23 862.98,237.75 C862.03,239.27 860.13,240.6 859.56,241.17 L858.19,241.17 Z" fill="#f1f7f7" />
<path d="M858.19,240.6 C859.94,241.17 865.41,243.16 868.68,244.02 C871.94,244.87 874.37,245.35 877.79,245.73 C881.21,246.11 884.44,246.52 889.19,246.3 C893.94,246.07 900.58,244.55 906.28,244.36 C911.98,244.17 918.63,245.21 923.38,245.16 C928.12,245.1 930.97,244.53 934.77,244.02 C938.57,243.5 942.37,242.27 946.17,242.08 C949.97,241.89 953.77,242.46 957.56,242.88 C961.36,243.3 967.06,244.3 968.96,244.59 L968.96,259.4 L858.19,259.4 Z" fill="#ecf4f4" />
<path d="M858.19,250.28 C859.75,250.28 864.65,250.09 867.54,250.28 C870.42,250.47 873.04,250.66 875.51,251.42 C877.98,252.18 880.17,253.74 882.35,254.84 C884.53,255.94 886.53,258.22 888.62,258.03 C890.71,257.84 892.51,255 894.89,253.7 C897.26,252.41 898.11,250.95 902.86,250.28 C907.61,249.62 918.06,249.91 923.38,249.72 C928.69,249.53 930.97,249.53 934.77,249.15 C938.57,248.77 942.37,247.53 946.17,247.44 C949.97,247.34 953.77,248.29 957.56,248.58 C961.36,248.86 967.06,249.05 968.96,249.15 L968.96,259.4 L858.19,259.4 Z" fill="#d8e9e9" />
<path d="M902.86,259.4 C903.81,258.55 906.66,255.13 908.56,254.27 C910.46,253.42 912.36,253.42 914.26,254.27 C916.16,255.13 919.01,258.55 919.96,259.4 Z" fill="#c6dfdf" />
<path d="M930.21,259.4 C931.35,258.36 934.39,254.37 937.05,253.13 C939.71,251.9 942.75,251.9 946.17,251.99 C949.59,252.09 954.15,252.47 957.56,253.7 C960.98,254.94 965.16,258.45 966.68,259.4 Z" fill="#c1dcdc" />
<path d="M941.61,254.27 L957.56,254.27 L957.56,258.83 L941.61,258.83 Z" fill="#9ec7c7" />
<path d="M858.19,252.56 L865.26,252.56 L865.26,258.83 L858.19,258.83 Z" fill="#a9cdcd" />
<path d="M917.11,152.51 C917.39,153.42 917.77,156.21 918.82,157.98 C919.86,159.74 921.67,161.97 923.38,163.11 C925.09,164.25 926.42,164.57 929.07,164.81 C931.73,165.06 936.96,165.25 939.33,164.59 C941.7,163.92 942.27,162.31 943.32,160.83 C944.36,159.34 945.16,157.08 945.6,155.7 C946.04,154.31 945.88,153.04 945.94,152.51" fill="none" stroke="#5f9c9c" stroke-width="1.3" />
<path d="M922.81,152.51 C923.19,153.13 924.23,155.17 925.09,156.27 C925.94,157.37 926.51,158.6 927.93,159.12 C929.36,159.63 932.11,159.72 933.63,159.34 C935.15,158.96 936.2,157.98 937.05,156.84 C937.91,155.7 938.48,153.23 938.76,152.51" fill="none" stroke="#5f9c9c" stroke-width="1.3" />
<path d="M858.19,190.46 C858.89,190.65 861.51,190.36 862.41,191.6 C863.3,192.83 863.49,195.49 863.55,197.86 C863.6,200.24 862.84,202.42 862.75,205.84 C862.65,209.26 862.65,214.77 862.98,218.38 C863.3,221.98 864.31,225.21 864.69,227.49 C865.07,229.77 865.54,230.34 865.26,232.05 C864.97,233.76 863.93,236.23 862.98,237.75 C862.03,239.27 860.13,240.6 859.56,241.17" fill="none" stroke="#5f9c9c" stroke-width="1.3" />
<path d="M858.19,240.6 C859.94,241.17 865.41,243.16 868.68,244.02 C871.94,244.87 874.37,245.35 877.79,245.73 C881.21,246.11 884.44,246.52 889.19,246.3 C893.94,246.07 900.58,244.55 906.28,244.36 C911.98,244.17 918.63,245.21 923.38,245.16 C928.12,245.1 930.97,244.53 934.77,244.02 C938.57,243.5 942.37,242.27 946.17,242.08 C949.97,241.89 953.77,242.46 957.56,242.88 C961.36,243.3 967.06,244.3 968.96,244.59" fill="none" stroke="#5f9c9c" stroke-width="1.3" />
<path d="M858.19,250.28 C859.75,250.28 864.65,250.09 867.54,250.28 C870.42,250.47 873.04,250.66 875.51,251.42 C877.98,252.18 880.17,253.74 882.35,254.84 C884.53,255.94 886.53,258.22 888.62,258.03 C890.71,257.84 892.51,255 894.89,253.7 C897.26,252.41 898.11,250.95 902.86,250.28 C907.61,249.62 918.06,249.91 923.38,249.72 C928.69,249.53 930.97,249.53 934.77,249.15 C938.57,248.77 942.37,247.53 946.17,247.44 C949.97,247.34 953.77,248.29 957.56,248.58 C961.36,248.86 967.06,249.05 968.96,249.15" fill="none" stroke="#5f9c9c" stroke-width="1.3" />
<path d="M902.86,259.4 C903.81,258.55 906.66,255.13 908.56,254.27 C910.46,253.42 912.36,253.42 914.26,254.27 C916.16,255.13 919.01,258.55 919.96,259.4" fill="none" stroke="#5f9c9c" stroke-width="1.3" />
<path d="M930.21,259.4 C931.35,258.36 934.39,254.37 937.05,253.13 C939.71,251.9 942.75,251.9 946.17,251.99 C949.59,252.09 954.15,252.47 957.56,253.7 C960.98,254.94 965.16,258.45 966.68,259.4" fill="none" stroke="#5f9c9c" stroke-width="1.3" />
<rect x="860.33" y="161.43" width="1.1" height="1.1" fill="#5f9c9c" opacity="0.6"/>
<rect x="864.13" y="157.37" width="1.1" height="1.1" fill="#5f9c9c" opacity="0.6"/>
<rect x="860.16" y="159.41" width="1.1" height="1.1" fill="#5f9c9c" opacity="0.6"/>
<rect x="863.24" y="164.71" width="1.1" height="1.1" fill="#5f9c9c" opacity="0.6"/>
<rect x="860.35" y="153.81" width="1.1" height="1.1" fill="#5f9c9c" opacity="0.6"/>
<rect x="863.63" y="161.87" width="1.1" height="1.1" fill="#5f9c9c" opacity="0.6"/>
<rect x="865.05" y="164.18" width="1.1" height="1.1" fill="#5f9c9c" opacity="0.6"/>
<rect x="862.25" y="158.46" width="1.1" height="1.1" fill="#5f9c9c" opacity="0.6"/>
<rect x="866.82" y="158.39" width="1.1" height="1.1" fill="#5f9c9c" opacity="0.6"/>
<rect x="861.09" y="154.52" width="1.1" height="1.1" fill="#5f9c9c" opacity="0.6"/>
<rect x="862.59" y="160.37" width="1.1" height="1.1" fill="#5f9c9c" opacity="0.6"/>
<rect x="861.84" y="159.42" width="1.1" height="1.1" fill="#5f9c9c" opacity="0.6"/>
<rect x="862.89" y="162.86" width="1.1" height="1.1" fill="#5f9c9c" opacity="0.6"/>
<rect x="864.3" y="160.66" width="1.1" height="1.1" fill="#5f9c9c" opacity="0.6"/>
<rect x="859.37" y="162.91" width="1.1" height="1.1" fill="#5f9c9c" opacity="0.6"/>
<rect x="860" y="158.93" width="1.1" height="1.1" fill="#5f9c9c" opacity="0.6"/>
<rect x="859.91" y="159.72" width="1.1" height="1.1" fill="#5f9c9c" opacity="0.6"/>
<rect x="861.1" y="160.68" width="1.1" height="1.1" fill="#5f9c9c" opacity="0.6"/>
<rect x="868.07" y="159.48" width="1.1" height="1.1" fill="#5f9c9c" opacity="0.6"/>
<rect x="863.87" y="153.67" width="1.1" height="1.1" fill="#5f9c9c" opacity="0.6"/>
<rect x="861.93" y="162.73" width="1.1" height="1.1" fill="#5f9c9c" opacity="0.6"/>
<rect x="862.27" y="161.39" width="1.1" height="1.1" fill="#5f9c9c" opacity="0.6"/>
<rect x="862.6" y="155.12" width="1.1" height="1.1" fill="#5f9c9c" opacity="0.6"/>
<rect x="863.39" y="156" width="1.1" height="1.1" fill="#5f9c9c" opacity="0.6"/>
<rect x="865.63" y="157.4" width="1.1" height="1.1" fill="#5f9c9c" opacity="0.6"/>
<rect x="863.6" y="159.72" width="1.1" height="1.1" fill="#5f9c9c" opacity="0.6"/>
<rect x="864.06" y="156.96" width="1.1" height="1.1" fill="#5f9c9c" opacity="0.6"/>
<rect x="864.13" y="159.14" width="1.1" height="1.1" fill="#5f9c9c" opacity="0.6"/>
<rect x="864.59" y="162.55" width="1.1" height="1.1" fill="#5f9c9c" opacity="0.6"/>
<rect x="862.67" y="156.15" width="1.1" height="1.1" fill="#5f9c9c" opacity="0.6"/>
<rect x="863.74" y="161.84" width="1.1" height="1.1" fill="#5f9c9c" opacity="0.6"/>
<rect x="865.23" y="157.99" width="1.1" height="1.1" fill="#5f9c9c" opacity="0.6"/>
<rect x="863.38" y="162.02" width="1.1" height="1.1" fill="#5f9c9c" opacity="0.6"/>
<rect x="862.91" y="160.66" width="1.1" height="1.1" fill="#5f9c9c" opacity="0.6"/>
<rect x="862.74" y="156.98" width="1.1" height="1.1" fill="#5f9c9c" opacity="0.6"/>
<rect x="860.69" y="157.9" width="1.1" height="1.1" fill="#5f9c9c" opacity="0.6"/>
<rect x="863.44" y="166.6" width="1.1" height="1.1" fill="#5f9c9c" opacity="0.6"/>
<rect x="864.1" y="164.51" width="1.1" height="1.1" fill="#5f9c9c" opacity="0.6"/>
<rect x="863.76" y="162.89" width="1.1" height="1.1" fill="#5f9c9c" opacity="0.6"/>
<rect x="862.74" y="163.22" width="1.1" height="1.1" fill="#5f9c9c" opacity="0.6"/>
<rect x="873.44" y="155.73" width="1.1" height="1.1" fill="#5f9c9c" opacity="0.6"/>
<rect x="869.22" y="159.64" width="1.1" height="1.1" fill="#5f9c9c" opacity="0.6"/>
<rect x="870.82" y="157.95" width="1.1" height="1.1" fill="#5f9c9c" opacity="0.6"/>
<rect x="871.9" y="154.35" width="1.1" height="1.1" fill="#5f9c9c" opacity="0.6"/>
<rect x="874.56" y="159.32" width="1.1" height="1.1" fill="#5f9c9c" opacity="0.6"/>
<rect x="870.71" y="157.57" width="1.1" height="1.1" fill="#5f9c9c" opacity="0.6"/>
<rect x="870.62" y="154.78" width="1.1" height="1.1" fill="#5f9c9c" opacity="0.6"/>
<rect x="870.21" y="156.93" width="1.1" height="1.1" fill="#5f9c9c" opacity="0.6"/>
<rect x="872.31" y="157.5" width="1.1" height="1.1" fill="#5f9c9c" opacity="0.6"/>
<rect x="870.51" y="158.6" width="1.1" height="1.1" fill="#5f9c9c" opacity="0.6"/>
<rect x="869.1" y="157.64" width="1.1" height="1.1" fill="#5f9c9c" opacity="0.6"/>
<rect x="872.31" y="155.79" width="1.1" height="1.1" fill="#5f9c9c" opacity="0.6"/>
<rect x="867.34" y="154.74" width="1.1" height="1.1" fill="#5f9c9c" opacity="0.6"/>
<rect x="870.81" y="157.19" width="1.1" height="1.1" fill="#5f9c9c" opacity="0.6"/>
<rect x="873.05" y="154.57" width="1.1" height="1.1" fill="#5f9c9c" opacity="0.6"/>
<rect x="877.82" y="157.77" width="1.1" height="1.1" fill="#5f9c9c" opacity="0.6"/>
<rect x="877.54" y="150.89" width="1.1" height="1.1" fill="#5f9c9c" opacity="0.6"/>
<rect x="879.19" y="161.56" width="1.1" height="1.1" fill="#5f9c9c" opacity="0.6"/>
<rect x="879.53" y="154.2" width="1.1" height="1.1" fill="#5f9c9c" opacity="0.6"/>
<rect x="877.11" y="156.79" width="1.1" height="1.1" fill="#5f9c9c" opacity="0.6"/>
<rect x="882.07" y="157.69" width="1.1" height="1.1" fill="#5f9c9c" opacity="0.6"/>
<rect x="878.01" y="159.84" width="1.1" height="1.1" fill="#5f9c9c" opacity="0.6"/>
<rect x="877.67" y="160.53" width="1.1" height="1.1" fill="#5f9c9c" opacity="0.6"/>
<rect x="876.64" y="155.21" width="1.1" height="1.1" fill="#5f9c9c" opacity="0.6"/>
<rect x="879.04" y="159.53" width="1.1" height="1.1" fill="#5f9c9c" opacity="0.6"/>
<rect x="878.93" y="156.97" width="1.1" height="1.1" fill="#5f9c9c" opacity="0.6"/>
<rect x="874.7" y="154.66" width="1.1" height="1.1" fill="#5f9c9c" opacity="0.6"/>
<rect x="876.77" y="155.07" width="1.1" height="1.1" fill="#5f9c9c" opacity="0.6"/>
<rect x="878.81" y="155.52" width="1.1" height="1.1" fill="#5f9c9c" opacity="0.6"/>
<rect x="879.16" y="156.48" width="1.1" height="1.1" fill="#5f9c9c" opacity="0.6"/>
<rect x="877.24" y="156.56" width="1.1" height="1.1" fill="#5f9c9c" opacity="0.6"/>
<rect x="878.54" y="158.24" width="1.1" height="1.1" fill="#5f9c9c" opacity="0.6"/>
<rect x="877" y="155.76" width="1.1" height="1.1" fill="#5f9c9c" opacity="0.6"/>
<rect x="883.82" y="160.74" width="1.1" height="1.1" fill="#5f9c9c" opacity="0.6"/>
<rect x="890.24" y="157.69" width="1.1" height="1.1" fill="#5f9c9c" opacity="0.6"/>
<rect x="885.84" y="155.88" width="1.1" height="1.1" fill="#5f9c9c" opacity="0.6"/>
<rect x="887.32" y="158.35" width="1.1" height="1.1" fill="#5f9c9c" opacity="0.6"/>
<rect x="891.9" y="158.42" width="1.1" height="1.1" fill="#5f9c9c" opacity="0.6"/>
<rect x="885.16" y="153.82" width="1.1" height="1.1" fill="#5f9c9c" opacity="0.6"/>
<rect x="890.14" y="158.32" width="1.1" height="1.1" fill="#5f9c9c" opacity="0.6"/>
<rect x="883.26" y="158.31" width="1.1" height="1.1" fill="#5f9c9c" opacity="0.6"/>
<rect x="883.26" y="163.95" width="1.1" height="1.1" fill="#5f9c9c" opacity="0.6"/>
<rect x="889.48" y="158.98" width="1.1" height="1.1" fill="#5f9c9c" opacity="0.6"/>
<rect x="886.53" y="154.34" width="1.1" height="1.1" fill="#5f9c9c" opacity="0.6"/>
<rect x="886.64" y="155.34" width="1.1" height="1.1" fill="#5f9c9c" opacity="0.6"/>
<rect x="888.29" y="154.34" width="1.1" height="1.1" fill="#5f9c9c" opacity="0.6"/>
<rect x="884.86" y="160.08" width="1.1" height="1.1" fill="#5f9c9c" opacity="0.6"/>
<rect x="890.68" y="155.98" width="1.1" height="1.1" fill="#5f9c9c" opacity="0.6"/>
<rect x="883.43" y="159.5" width="1.1" height="1.1" fill="#5f9c9c" opacity="0.6"/>
<rect x="888.87" y="156.31" width="1.1" height="1.1" fill="#5f9c9c" opacity="0.6"/>
<rect x="885.35" y="156.81" width="1.1" height="1.1" fill="#5f9c9c" opacity="0.6"/>
<rect x="884.22" y="156.83" width="1.1" height="1.1" fill="#5f9c9c" opacity="0.6"/>
<rect x="889.78" y="159.18" width="1.1" height="1.1" fill="#5f9c9c" opacity="0.6"/>
<rect x="891.62" y="157.85" width="1.1" height="1.1" fill="#5f9c9c" opacity="0.6"/>
<rect x="886.62" y="156.32" width="1.1" height="1.1" fill="#5f9c9c" opacity="0.6"/>
<rect x="886.65" y="155.75" width="1.1" height="1.1" fill="#5f9c9c" opacity="0.6"/>
<rect x="882.88" y="159.19" width="1.1" height="1.1" fill="#5f9c9c" opacity="0.6"/>
<rect x="890.21" y="159.43" width="1.1" height="1.1" fill="#5f9c9c" opacity="0.6"/>
<rect x="899.58" y="161.19" width="1.1" height="1.1" fill="#5f9c9c" opacity="0.6"/>
<rect x="896.77" y="160.96" width="1.1" height="1.1" fill="#5f9c9c" opacity="0.6"/>
<rect x="897.24" y="159.33" width="1.1" height="1.1" fill="#5f9c9c" opacity="0.6"/>
<rect x="895.44" y="158.82" width="1.1" height="1.1" fill="#5f9c9c" opacity="0.6"/>
<rect x="897.75" y="161.05" width="1.1" height="1.1" fill="#5f9c9c" opacity="0.6"/>
<rect x="897.11" y="162.8" width="1.1" height="1.1" fill="#5f9c9c" opacity="0.6"/>
<rect x="898" y="161.64" width="1.1" height="1.1" fill="#5f9c9c" opacity="0.6"/>
<rect x="899.42" y="159.72" width="1.1" height="1.1" fill="#5f9c9c" opacity="0.6"/>
<rect x="895.06" y="161.87" width="1.1" height="1.1" fill="#5f9c9c" opacity="0.6"/>
<rect x="896.81" y="162.64" width="1.1" height="1.1" fill="#5f9c9c" opacity="0.6"/>
<rect x="878.77" y="166.78" width="1.1" height="1.1" fill="#5f9c9c" opacity="0.6"/>
<rect x="879.25" y="162.56" width="1.1" height="1.1" fill="#5f9c9c" opacity="0.6"/>
<rect x="879.2" y="164.48" width="1.1" height="1.1" fill="#5f9c9c" opacity="0.6"/>
<rect x="877.52" y="164.81" width="1.1" height="1.1" fill="#5f9c9c" opacity="0.6"/>
<rect x="879.26" y="166.61" width="1.1" height="1.1" fill="#5f9c9c" opacity="0.6"/>
<rect x="879.53" y="163.13" width="1.1" height="1.1" fill="#5f9c9c" opacity="0.6"/>
<rect x="877.71" y="162.16" width="1.1" height="1.1" fill="#5f9c9c" opacity="0.6"/>
<rect x="878.27" y="166.23" width="1.1" height="1.1" fill="#5f9c9c" opacity="0.6"/>
<rect x="890.39" y="167.85" width="1.1" height="1.1" fill="#5f9c9c" opacity="0.6"/>
<rect x="891.08" y="168.37" width="1.1" height="1.1" fill="#5f9c9c" opacity="0.6"/>
<rect x="890.36" y="167.12" width="1.1" height="1.1" fill="#5f9c9c" opacity="0.6"/>
<rect x="890.4" y="168.88" width="1.1" height="1.1" fill="#5f9c9c" opacity="0.6"/>
<rect x="905.32" y="170.99" width="1.1" height="1.1" fill="#5f9c9c" opacity="0.6"/>
<rect x="903.84" y="171.21" width="1.1" height="1.1" fill="#5f9c9c" opacity="0.6"/>
<rect x="903.8" y="170.91" width="1.1" height="1.1" fill="#5f9c9c" opacity="0.6"/>
<rect x="902.88" y="169.96" width="1.1" height="1.1" fill="#5f9c9c" opacity="0.6"/>
<rect x="902.36" y="172.61" width="1.1" height="1.1" fill="#5f9c9c" opacity="0.6"/>
<rect x="904.37" y="171.16" width="1.1" height="1.1" fill="#5f9c9c" opacity="0.6"/>
<rect x="903.09" y="171.16" width="1.1" height="1.1" fill="#5f9c9c" opacity="0.6"/>
<rect x="904.06" y="170.51" width="1.1" height="1.1" fill="#5f9c9c" opacity="0.6"/>
<rect x="878.56" y="179.3" width="1.1" height="1.1" fill="#5f9c9c" opacity="0.6"/>
<rect x="877.7" y="178.36" width="1.1" height="1.1" fill="#5f9c9c" opacity="0.6"/>
<rect x="877.47" y="178.11" width="1.1" height="1.1" fill="#5f9c9c" opacity="0.6"/>
<rect x="879.19" y="176.93" width="1.1" height="1.1" fill="#5f9c9c" opacity="0.6"/>
<rect x="878.14" y="178.52" width="1.1" height="1.1" fill="#5f9c9c" opacity="0.6"/>
<rect x="869.78" y="184.94" width="1.1" height="1.1" fill="#5f9c9c" opacity="0.6"/>
<rect x="874.76" y="184.91" width="1.1" height="1.1" fill="#5f9c9c" opacity="0.6"/>
<rect x="871.14" y="183.73" width="1.1" height="1.1" fill="#5f9c9c" opacity="0.6"/>
<rect x="871.18" y="186.34" width="1.1" height="1.1" fill="#5f9c9c" opacity="0.6"/>
<rect x="870.42" y="182.82" width="1.1" height="1.1" fill="#5f9c9c" opacity="0.6"/>
<rect x="867.94" y="182.89" width="1.1" height="1.1" fill="#5f9c9c" opacity="0.6"/>
<rect x="867.58" y="186.66" width="1.1" height="1.1" fill="#5f9c9c" opacity="0.6"/>
<rect x="872.56" y="184.37" width="1.1" height="1.1" fill="#5f9c9c" opacity="0.6"/>
<rect x="875.7" y="183.65" width="1.1" height="1.1" fill="#5f9c9c" opacity="0.6"/>
<rect x="873.69" y="186.15" width="1.1" height="1.1" fill="#5f9c9c" opacity="0.6"/>
<rect x="876.05" y="187.81" width="1.1" height="1.1" fill="#5f9c9c" opacity="0.6"/>
<rect x="876.75" y="192.03" width="1.1" height="1.1" fill="#5f9c9c" opacity="0.6"/>
<rect x="879.29" y="188.38" width="1.1" height="1.1" fill="#5f9c9c" opacity="0.6"/>
<rect x="879.01" y="189.82" width="1.1" height="1.1" fill="#5f9c9c" opacity="0.6"/>
<rect x="877.36" y="189.53" width="1.1" height="1.1" fill="#5f9c9c" opacity="0.6"/>
<rect x="877.44" y="187.37" width="1.1" height="1.1" fill="#5f9c9c" opacity="0.6"/>
<rect x="858.21" y="168.18" width="1.1" height="1.1" fill="#5f9c9c" opacity="0.6"/>
<rect x="860.25" y="185.23" width="1.1" height="1.1" fill="#5f9c9c" opacity="0.6"/>
<rect x="863.31" y="172.8" width="1.1" height="1.1" fill="#5f9c9c" opacity="0.6"/>
<rect x="857.22" y="172.43" width="1.1" height="1.1" fill="#5f9c9c" opacity="0.6"/>
<rect x="858.29" y="184.69" width="1.1" height="1.1" fill="#5f9c9c" opacity="0.6"/>
<rect x="860.36" y="170.78" width="1.1" height="1.1" fill="#5f9c9c" opacity="0.6"/>
<rect x="860.86" y="177.27" width="1.1" height="1.1" fill="#5f9c9c" opacity="0.6"/>
<rect x="857.36" y="171.8" width="1.1" height="1.1" fill="#5f9c9c" opacity="0.6"/>
<rect x="859.25" y="174.62" width="1.1" height="1.1" fill="#5f9c9c" opacity="0.6"/>
<rect x="859.76" y="172.78" width="1.1" height="1.1" fill="#5f9c9c" opacity="0.6"/>
<rect x="859.84" y="171.52" width="1.1" height="1.1" fill="#5f9c9c" opacity="0.6"/>
<rect x="858.35" y="182.29" width="1.1" height="1.1" fill="#5f9c9c" opacity="0.6"/>
<rect x="860.07" y="176.77" width="1.1" height="1.1" fill="#5f9c9c" opacity="0.6"/>
<rect x="857.4" y="173.67" width="1.1" height="1.1" fill="#5f9c9c" opacity="0.6"/>
<rect x="860.7" y="167.9" width="1.1" height="1.1" fill="#5f9c9c" opacity="0.6"/>
<rect x="861.08" y="172.52" width="1.1" height="1.1" fill="#5f9c9c" opacity="0.6"/>
<rect x="860.13" y="173.84" width="1.1" height="1.1" fill="#5f9c9c" opacity="0.6"/>
<rect x="859.88" y="180.69" width="1.1" height="1.1" fill="#5f9c9c" opacity="0.6"/>
<rect x="859.03" y="182.54" width="1.1" height="1.1" fill="#5f9c9c" opacity="0.6"/>
<rect x="858.51" y="169.74" width="1.1" height="1.1" fill="#5f9c9c" opacity="0.6"/>
<rect x="860.55" y="169.05" width="1.1" height="1.1" fill="#5f9c9c" opacity="0.6"/>
<rect x="859.07" y="179.17" width="1.1" height="1.1" fill="#5f9c9c" opacity="0.6"/>
<rect x="861.23" y="165.42" width="1.1" height="1.1" fill="#5f9c9c" opacity="0.6"/>
<rect x="860.27" y="184.18" width="1.1" height="1.1" fill="#5f9c9c" opacity="0.6"/>
<rect x="861.21" y="173.29" width="1.1" height="1.1" fill="#5f9c9c" opacity="0.6"/>
<rect x="899.69" y="178.91" width="1.1" height="1.1" fill="#5f9c9c" opacity="0.6"/>
<rect x="899.38" y="178.93" width="1.1" height="1.1" fill="#5f9c9c" opacity="0.6"/>
<rect x="899.93" y="179" width="1.1" height="1.1" fill="#5f9c9c" opacity="0.6"/>
</g>
<line x1="866.2" y1="152.6" x2="866.2" y2="258.7" stroke="#111" stroke-width="1.4" />
<line x1="858.3" y1="248.9" x2="969.3" y2="248.9" stroke="#111" stroke-width="1.4" />
<rect x="863.6" y="246.3" width="5.2" height="5.2" fill="#000" stroke="none" stroke-width="1" />
<clipPath id="ct20"><rect x="858.3" y="264.4" width="111" height="106.3"/></clipPath><g clip-path="url(#ct20)">
<path d="M918.16,264.44 C918.31,265.26 918.31,267.76 919.09,269.36 C919.87,270.96 921.43,272.67 922.84,274.04 C924.24,275.4 925.57,276.76 927.51,277.54 C929.46,278.32 932.58,278.71 934.53,278.71 C936.48,278.71 937.85,278.42 939.21,277.54 C940.58,276.67 941.98,274.81 942.72,273.45 C943.46,272.09 943.62,270.86 943.65,269.36 C943.69,267.86 943.07,265.26 942.95,264.44 Z" fill="#eef5f5" />
<path d="M922.6,264.44 C922.84,265.26 923.09,268.05 924.01,269.36 C924.92,270.66 926.35,271.7 928.1,272.28 C929.85,272.87 933.17,273.45 934.53,272.87 C935.9,272.28 935.9,270.18 936.29,268.77 C936.68,267.37 936.77,265.17 936.87,264.44 Z" fill="#dcebeb" />
<path d="M857.34,312.05 C858.9,312.34 863.19,313.02 866.7,313.8 C870.2,314.58 874.69,315.85 878.39,316.73 C882.1,317.6 885.41,319.06 888.92,319.06 C892.43,319.06 895.35,317.37 899.44,316.73 C903.54,316.08 907.24,315.56 913.48,315.2 C919.72,314.85 930.63,314.72 936.87,314.62 C943.11,314.52 945.45,314.52 950.91,314.62 C956.36,314.72 966.5,311.83 969.62,315.2 C972.74,318.58 973.13,331.38 969.62,334.85 C966.11,338.32 955.97,335.93 948.57,336.02 C941.16,336.12 932.97,335.83 925.18,335.44 C917.38,335.05 907.83,334.37 901.78,333.68 C895.74,333 892.82,331.44 888.92,331.35 C885.02,331.25 882.1,332.12 878.39,333.1 C874.69,334.07 870.2,336.12 866.7,337.19 C863.19,338.27 858.9,339.14 857.34,339.53 Z" fill="#f0f6f6" />
<path d="M857.34,314.97 C859.29,315.36 865.53,316.43 869.04,317.31 C872.54,318.19 875.08,319.26 878.39,320.23 C881.71,321.21 885.41,323.16 888.92,323.16 C892.43,323.16 895.35,321.01 899.44,320.23 C903.54,319.45 907.24,318.97 913.48,318.48 C919.72,317.99 930.63,317.5 936.87,317.31 C943.11,317.12 945.45,317.21 950.91,317.31 C956.36,317.41 966.5,315.36 969.62,317.89 C972.74,320.43 973.13,329.92 969.62,332.51 C966.11,335.11 955.97,333.45 948.57,333.45 C941.16,333.45 932.97,332.96 925.18,332.51 C917.38,332.07 907.83,331.35 901.78,330.76 C895.74,330.18 892.82,329.1 888.92,329.01 C885.02,328.91 882.1,329.36 878.39,330.18 C874.69,330.99 870.2,332.94 866.7,333.92 C863.19,334.89 858.9,335.67 857.34,336.02 Z" fill="#e2eeee" />
<path d="M857.34,317.31 C858.7,317.5 862.99,317.7 865.53,318.48 C868.06,319.26 870.11,320.82 872.54,321.99 C874.98,323.16 880.15,324.13 880.15,325.5 C880.15,326.86 874.98,328.91 872.54,330.18 C870.11,331.44 868.06,332.51 865.53,333.1 C862.99,333.68 858.7,333.59 857.34,333.68 Z" fill="#cfe3e3" />
<path d="M894.77,325.5 C895.94,324.76 899.05,322.07 901.78,321.05 C904.51,320.04 908.02,319.49 911.14,319.42 C914.26,319.34 918.16,319.57 920.5,320.58 C922.84,321.6 925.18,323.84 925.18,325.5 C925.18,327.15 922.84,329.51 920.5,330.53 C918.16,331.54 914.26,331.64 911.14,331.58 C908.02,331.52 904.51,331.19 901.78,330.18 C899.05,329.16 895.94,326.28 894.77,325.5 Z" fill="#dcebeb" />
<path d="M933.36,325.5 C934.34,324.62 936.68,321.36 939.21,320.23 C941.74,319.1 945.06,318.77 948.57,318.71 C952.08,318.65 957.34,318.75 960.26,319.88 C963.19,321.01 966.11,323.78 966.11,325.5 C966.11,327.21 963.19,329.2 960.26,330.18 C957.34,331.15 952.08,331.35 948.57,331.35 C945.06,331.35 941.74,331.15 939.21,330.18 C936.68,329.2 934.34,326.28 933.36,325.5 Z" fill="#d2e5e5" />
<path d="M904.12,325.5 C905.19,325.2 908.41,323.74 910.56,323.74 C912.7,323.74 916.99,324.85 916.99,325.5 C916.99,326.14 912.7,327.6 910.56,327.6 C908.41,327.6 905.19,325.85 904.12,325.5 Z" fill="#c9e0e0" />
<path d="M857.34,320.82 C858.7,321.01 863.58,321.21 865.53,321.99 C867.48,322.77 869.04,324.13 869.04,325.5 C869.04,326.86 867.48,329.3 865.53,330.18 C863.58,331.05 858.7,330.66 857.34,330.76 Z" fill="#a9cdcd" />
<path d="M940.38,323.74 C943.3,323.74 955,323.06 957.92,323.74 C960.85,324.42 960.85,327.15 957.92,327.84 C955,328.52 943.3,327.84 940.38,327.84 Z" fill="#c1dcdc" />
<path d="M918.16,264.44 C918.31,265.26 918.31,267.76 919.09,269.36 C919.87,270.96 921.43,272.67 922.84,274.04 C924.24,275.4 925.57,276.76 927.51,277.54 C929.46,278.32 932.58,278.71 934.53,278.71 C936.48,278.71 937.85,278.42 939.21,277.54 C940.58,276.67 941.98,274.81 942.72,273.45 C943.46,272.09 943.62,270.86 943.65,269.36 C943.69,267.86 943.07,265.26 942.95,264.44" fill="none" stroke="#5f9c9c" stroke-width="1.3" />
<path d="M922.6,264.44 C922.84,265.26 923.09,268.05 924.01,269.36 C924.92,270.66 926.35,271.7 928.1,272.28 C929.85,272.87 933.17,273.45 934.53,272.87 C935.9,272.28 935.9,270.18 936.29,268.77 C936.68,267.37 936.77,265.17 936.87,264.44" fill="none" stroke="#5f9c9c" stroke-width="1.3" />
<path d="M857.34,312.05 C858.9,312.34 863.19,313.02 866.7,313.8 C870.2,314.58 874.69,315.85 878.39,316.73 C882.1,317.6 885.41,319.06 888.92,319.06 C892.43,319.06 895.35,317.37 899.44,316.73 C903.54,316.08 907.24,315.56 913.48,315.2 C919.72,314.85 930.63,314.72 936.87,314.62 C943.11,314.52 945.45,314.52 950.91,314.62 C956.36,314.72 966.5,315.11 969.62,315.2" fill="none" stroke="#5f9c9c" stroke-width="1.3" />
<path d="M857.34,339.53 C858.9,339.14 863.19,338.27 866.7,337.19 C870.2,336.12 874.69,334.07 878.39,333.1 C882.1,332.12 885.02,331.25 888.92,331.35 C892.82,331.44 895.74,333 901.78,333.68 C907.83,334.37 917.38,335.05 925.18,335.44 C932.97,335.83 941.16,336.12 948.57,336.02 C955.97,335.93 966.11,335.05 969.62,334.85" fill="none" stroke="#5f9c9c" stroke-width="1.3" />
<path d="M857.34,314.97 C859.29,315.36 865.53,316.43 869.04,317.31 C872.54,318.19 875.08,319.26 878.39,320.23 C881.71,321.21 885.41,323.16 888.92,323.16 C892.43,323.16 895.35,321.01 899.44,320.23 C903.54,319.45 907.24,318.97 913.48,318.48 C919.72,317.99 930.63,317.5 936.87,317.31 C943.11,317.12 945.45,317.21 950.91,317.31 C956.36,317.41 966.5,317.8 969.62,317.89" fill="none" stroke="#5f9c9c" stroke-width="1.3" />
<path d="M857.34,336.02 C858.9,335.67 863.19,334.89 866.7,333.92 C870.2,332.94 874.69,330.99 878.39,330.18 C882.1,329.36 885.02,328.91 888.92,329.01 C892.82,329.1 895.74,330.18 901.78,330.76 C907.83,331.35 917.38,332.07 925.18,332.51 C932.97,332.96 941.16,333.45 948.57,333.45 C955.97,333.45 966.11,332.67 969.62,332.51" fill="none" stroke="#5f9c9c" stroke-width="1.3" />
<path d="M857.34,317.31 C858.7,317.5 862.99,317.7 865.53,318.48 C868.06,319.26 870.11,320.82 872.54,321.99 C874.98,323.16 880.15,324.13 880.15,325.5 C880.15,326.86 874.98,328.91 872.54,330.18 C870.11,331.44 868.06,332.51 865.53,333.1 C862.99,333.68 858.7,333.59 857.34,333.68" fill="none" stroke="#5f9c9c" stroke-width="1.3" />
<path d="M894.77,325.5 C895.94,324.76 899.05,322.07 901.78,321.05 C904.51,320.04 908.02,319.49 911.14,319.42 C914.26,319.34 918.16,319.57 920.5,320.58 C922.84,321.6 925.18,323.84 925.18,325.5 C925.18,327.15 922.84,329.51 920.5,330.53 C918.16,331.54 914.26,331.64 911.14,331.58 C908.02,331.52 904.51,331.19 901.78,330.18 C899.05,329.16 895.94,326.28 894.77,325.5" fill="none" stroke="#5f9c9c" stroke-width="1.3" />
<path d="M933.36,325.5 C934.34,324.62 936.68,321.36 939.21,320.23 C941.74,319.1 945.06,318.77 948.57,318.71 C952.08,318.65 957.34,318.75 960.26,319.88 C963.19,321.01 966.11,323.78 966.11,325.5 C966.11,327.21 963.19,329.2 960.26,330.18 C957.34,331.15 952.08,331.35 948.57,331.35 C945.06,331.35 941.74,331.15 939.21,330.18 C936.68,329.2 934.34,326.28 933.36,325.5" fill="none" stroke="#5f9c9c" stroke-width="1.3" />
<path d="M904.12,325.5 C905.19,325.2 908.41,323.74 910.56,323.74 C912.7,323.74 916.99,324.85 916.99,325.5 C916.99,326.14 912.7,327.6 910.56,327.6 C908.41,327.6 905.19,325.85 904.12,325.5" fill="none" stroke="#5f9c9c" stroke-width="1.3" />
<rect x="884.63" y="301.45" width="1.2" height="1.2" fill="#5f9c9c" opacity="0.65"/>
<rect x="888.27" y="301.5" width="1.2" height="1.2" fill="#5f9c9c" opacity="0.65"/>
<rect x="887.37" y="299.92" width="1.2" height="1.2" fill="#5f9c9c" opacity="0.65"/>
<rect x="886.79" y="301.26" width="1.2" height="1.2" fill="#5f9c9c" opacity="0.65"/>
<rect x="888.51" y="301.93" width="1.2" height="1.2" fill="#5f9c9c" opacity="0.65"/>
<rect x="887.12" y="300.85" width="1.2" height="1.2" fill="#5f9c9c" opacity="0.65"/>
<rect x="885.92" y="301.73" width="1.2" height="1.2" fill="#5f9c9c" opacity="0.65"/>
<rect x="889.07" y="299.42" width="1.2" height="1.2" fill="#5f9c9c" opacity="0.65"/>
<rect x="883.04" y="304.18" width="1.2" height="1.2" fill="#5f9c9c" opacity="0.65"/>
<rect x="889.52" y="302.55" width="1.2" height="1.2" fill="#5f9c9c" opacity="0.65"/>
<rect x="887.72" y="301.27" width="1.2" height="1.2" fill="#5f9c9c" opacity="0.65"/>
<rect x="886.65" y="300.3" width="1.2" height="1.2" fill="#5f9c9c" opacity="0.65"/>
<rect x="888.07" y="301.52" width="1.2" height="1.2" fill="#5f9c9c" opacity="0.65"/>
<rect x="884.34" y="301.14" width="1.2" height="1.2" fill="#5f9c9c" opacity="0.65"/>
<rect x="886.37" y="300.97" width="1.2" height="1.2" fill="#5f9c9c" opacity="0.65"/>
<rect x="890.05" y="303.1" width="1.2" height="1.2" fill="#5f9c9c" opacity="0.65"/>
<rect x="882.51" y="302.37" width="1.2" height="1.2" fill="#5f9c9c" opacity="0.65"/>
<rect x="888.76" y="303.4" width="1.2" height="1.2" fill="#5f9c9c" opacity="0.65"/>
<rect x="888.37" y="299.32" width="1.2" height="1.2" fill="#5f9c9c" opacity="0.65"/>
<rect x="888.49" y="301.87" width="1.2" height="1.2" fill="#5f9c9c" opacity="0.65"/>
<rect x="889.37" y="302.36" width="1.2" height="1.2" fill="#5f9c9c" opacity="0.65"/>
<rect x="884.98" y="304.08" width="1.2" height="1.2" fill="#5f9c9c" opacity="0.65"/>
<rect x="885.44" y="303.17" width="1.2" height="1.2" fill="#5f9c9c" opacity="0.65"/>
<rect x="887.85" y="301.1" width="1.2" height="1.2" fill="#5f9c9c" opacity="0.65"/>
<rect x="883.84" y="300.71" width="1.2" height="1.2" fill="#5f9c9c" opacity="0.65"/>
<rect x="876.12" y="309.6" width="1.2" height="1.2" fill="#5f9c9c" opacity="0.65"/>
<rect x="876.99" y="310.71" width="1.2" height="1.2" fill="#5f9c9c" opacity="0.65"/>
<rect x="877.77" y="310.44" width="1.2" height="1.2" fill="#5f9c9c" opacity="0.65"/>
<rect x="875.81" y="309.44" width="1.2" height="1.2" fill="#5f9c9c" opacity="0.65"/>
<rect x="878.38" y="310.32" width="1.2" height="1.2" fill="#5f9c9c" opacity="0.65"/>
<rect x="878.09" y="309.44" width="1.2" height="1.2" fill="#5f9c9c" opacity="0.65"/>
<rect x="875.94" y="310.81" width="1.2" height="1.2" fill="#5f9c9c" opacity="0.65"/>
<rect x="876.38" y="309.47" width="1.2" height="1.2" fill="#5f9c9c" opacity="0.65"/>
<rect x="878.77" y="345.54" width="1.2" height="1.2" fill="#5f9c9c" opacity="0.65"/>
<rect x="876.6" y="346.97" width="1.2" height="1.2" fill="#5f9c9c" opacity="0.65"/>
<rect x="877.02" y="347.82" width="1.2" height="1.2" fill="#5f9c9c" opacity="0.65"/>
<rect x="877.1" y="343.87" width="1.2" height="1.2" fill="#5f9c9c" opacity="0.65"/>
<rect x="879.66" y="347.71" width="1.2" height="1.2" fill="#5f9c9c" opacity="0.65"/>
<rect x="877.37" y="345.17" width="1.2" height="1.2" fill="#5f9c9c" opacity="0.65"/>
<rect x="875.9" y="344.32" width="1.2" height="1.2" fill="#5f9c9c" opacity="0.65"/>
<rect x="875.96" y="346.99" width="1.2" height="1.2" fill="#5f9c9c" opacity="0.65"/>
<rect x="878.42" y="344.78" width="1.2" height="1.2" fill="#5f9c9c" opacity="0.65"/>
<rect x="876.73" y="346.09" width="1.2" height="1.2" fill="#5f9c9c" opacity="0.65"/>
<rect x="877.2" y="346.37" width="1.2" height="1.2" fill="#5f9c9c" opacity="0.65"/>
<rect x="877.7" y="346.14" width="1.2" height="1.2" fill="#5f9c9c" opacity="0.65"/>
<rect x="891.56" y="359.5" width="1.2" height="1.2" fill="#5f9c9c" opacity="0.65"/>
<rect x="891.6" y="358.99" width="1.2" height="1.2" fill="#5f9c9c" opacity="0.65"/>
<rect x="891.3" y="359.85" width="1.2" height="1.2" fill="#5f9c9c" opacity="0.65"/>
<rect x="898.54" y="362.79" width="1.2" height="1.2" fill="#5f9c9c" opacity="0.65"/>
<rect x="898.44" y="361.8" width="1.2" height="1.2" fill="#5f9c9c" opacity="0.65"/>
<rect x="897.87" y="362.41" width="1.2" height="1.2" fill="#5f9c9c" opacity="0.65"/>
<rect x="898.52" y="363.02" width="1.2" height="1.2" fill="#5f9c9c" opacity="0.65"/>
<rect x="897.92" y="362.58" width="1.2" height="1.2" fill="#5f9c9c" opacity="0.65"/>
<rect x="899.65" y="366.93" width="1.2" height="1.2" fill="#5f9c9c" opacity="0.65"/>
<rect x="900.22" y="367.34" width="1.2" height="1.2" fill="#5f9c9c" opacity="0.65"/>
<rect x="899.93" y="366.47" width="1.2" height="1.2" fill="#5f9c9c" opacity="0.65"/>
<rect x="871.31" y="339.44" width="1.2" height="1.2" fill="#5f9c9c" opacity="0.65"/>
<rect x="871.15" y="338.65" width="1.2" height="1.2" fill="#5f9c9c" opacity="0.65"/>
<rect x="870.22" y="339.55" width="1.2" height="1.2" fill="#5f9c9c" opacity="0.65"/>
</g>
<line x1="866.3" y1="264.4" x2="866.3" y2="370.7" stroke="#111" stroke-width="1.4" />
<line x1="858.3" y1="321.4" x2="969.3" y2="321.4" stroke="#111" stroke-width="1.4" />
<rect x="863.7" y="318.8" width="5.2" height="5.2" fill="#000" stroke="none" stroke-width="1" />
<clipPath id="ct21"><rect x="974.5" y="264.4" width="111.1" height="106.3"/></clipPath><g clip-path="url(#ct21)">
<path d="M973.51,309.71 C975.46,310 981.89,310.19 985.2,311.46 C988.52,312.73 991.25,315.26 993.39,317.31 C995.54,319.36 997.88,321.6 998.07,323.74 C998.27,325.89 996.12,328.13 994.56,330.18 C993,332.22 991.25,334.27 988.71,336.02 C986.18,337.78 981.89,339.82 979.36,340.7 C976.82,341.58 974.48,341.19 973.51,341.29 Z" fill="#eef5f5" />
<path d="M973.51,315.56 C974.87,315.85 979.36,316.24 981.7,317.31 C984.04,318.38 986.37,320.23 987.54,321.99 C988.71,323.74 989.1,325.89 988.71,327.84 C988.32,329.79 986.76,332.32 985.2,333.68 C983.65,335.05 981.31,335.63 979.36,336.02 C977.41,336.41 974.48,336.02 973.51,336.02 Z" fill="#d9eaea" />
<path d="M973.51,318.48 C974.68,318.67 978.97,318.48 980.53,319.65 C982.09,320.82 982.87,323.55 982.87,325.5 C982.87,327.45 982.09,330.18 980.53,331.35 C978.97,332.51 974.68,332.32 973.51,332.51 Z" fill="#b5d4d4" />
<path d="M1070,263.51 C1070.1,264.68 1069.71,268.19 1070.58,270.53 C1071.46,272.87 1073.51,275.79 1075.26,277.54 C1077.02,279.3 1079.16,280.37 1081.11,281.05 C1083.06,281.73 1085.98,281.54 1086.96,281.64 L1086.96,263.51 Z" fill="#f3f8f8" />
<path d="M973.51,309.71 C975.46,310 981.89,310.19 985.2,311.46 C988.52,312.73 991.25,315.26 993.39,317.31 C995.54,319.36 997.88,321.6 998.07,323.74 C998.27,325.89 996.12,328.13 994.56,330.18 C993,332.22 991.25,334.27 988.71,336.02 C986.18,337.78 981.89,339.82 979.36,340.7 C976.82,341.58 974.48,341.19 973.51,341.29" fill="none" stroke="#5f9c9c" stroke-width="1.3" />
<path d="M973.51,315.56 C974.87,315.85 979.36,316.24 981.7,317.31 C984.04,318.38 986.37,320.23 987.54,321.99 C988.71,323.74 989.1,325.89 988.71,327.84 C988.32,329.79 986.76,332.32 985.2,333.68 C983.65,335.05 981.31,335.63 979.36,336.02 C977.41,336.41 974.48,336.02 973.51,336.02" fill="none" stroke="#5f9c9c" stroke-width="1.3" />
<path d="M973.51,318.48 C974.68,318.67 978.97,318.48 980.53,319.65 C982.09,320.82 982.87,323.55 982.87,325.5 C982.87,327.45 982.09,330.18 980.53,331.35 C978.97,332.51 974.68,332.32 973.51,332.51" fill="none" stroke="#5f9c9c" stroke-width="1.3" />
<path d="M998.07,326.67 C999.24,326.18 1003.33,324.04 1005.09,323.74 C1006.84,323.45 1008.79,324.23 1008.6,324.91 C1008.4,325.59 1005.67,327.54 1003.92,327.84 C1002.16,328.13 999.04,326.86 998.07,326.67" fill="none" stroke="#5f9c9c" stroke-width="1.3" />
<path d="M1070,263.51 C1070.1,264.68 1069.71,268.19 1070.58,270.53 C1071.46,272.87 1073.51,275.79 1075.26,277.54 C1077.02,279.3 1079.16,280.37 1081.11,281.05 C1083.06,281.73 1085.98,281.54 1086.96,281.64" fill="none" stroke="#5f9c9c" stroke-width="1.3" />
<rect x="1015.78" y="328.07" width="1.2" height="1.2" fill="#5f9c9c" opacity="0.6"/>
<rect x="1012.52" y="324.98" width="1.2" height="1.2" fill="#5f9c9c" opacity="0.6"/>
<rect x="1017.51" y="327.27" width="1.2" height="1.2" fill="#5f9c9c" opacity="0.6"/>
<rect x="1018.2" y="327.19" width="1.2" height="1.2" fill="#5f9c9c" opacity="0.6"/>
<rect x="1015.94" y="326.16" width="1.2" height="1.2" fill="#5f9c9c" opacity="0.6"/>
<rect x="1013" y="326.52" width="1.2" height="1.2" fill="#5f9c9c" opacity="0.6"/>
<rect x="1014.81" y="327.61" width="1.2" height="1.2" fill="#5f9c9c" opacity="0.6"/>
<rect x="1019.54" y="325.56" width="1.2" height="1.2" fill="#5f9c9c" opacity="0.6"/>
<rect x="1019.93" y="326.72" width="1.2" height="1.2" fill="#5f9c9c" opacity="0.6"/>
<rect x="1021.91" y="328.16" width="1.2" height="1.2" fill="#5f9c9c" opacity="0.6"/>
<rect x="1019.29" y="325.07" width="1.2" height="1.2" fill="#5f9c9c" opacity="0.6"/>
<rect x="1019.75" y="325.28" width="1.2" height="1.2" fill="#5f9c9c" opacity="0.6"/>
<rect x="1024.08" y="326.13" width="1.2" height="1.2" fill="#5f9c9c" opacity="0.6"/>
<rect x="1015.8" y="328.47" width="1.2" height="1.2" fill="#5f9c9c" opacity="0.6"/>
<rect x="1008.36" y="326.78" width="1.2" height="1.2" fill="#5f9c9c" opacity="0.6"/>
<rect x="1011.62" y="326.26" width="1.2" height="1.2" fill="#5f9c9c" opacity="0.6"/>
<rect x="1012.92" y="327.4" width="1.2" height="1.2" fill="#5f9c9c" opacity="0.6"/>
<rect x="1015.27" y="327.08" width="1.2" height="1.2" fill="#5f9c9c" opacity="0.6"/>
<rect x="1019.73" y="325.14" width="1.2" height="1.2" fill="#5f9c9c" opacity="0.6"/>
<rect x="1023.32" y="326.52" width="1.2" height="1.2" fill="#5f9c9c" opacity="0.6"/>
<rect x="1008.86" y="326.13" width="1.2" height="1.2" fill="#5f9c9c" opacity="0.6"/>
<rect x="1020.84" y="327.71" width="1.2" height="1.2" fill="#5f9c9c" opacity="0.6"/>
<rect x="1013.45" y="326.85" width="1.2" height="1.2" fill="#5f9c9c" opacity="0.6"/>
<rect x="1017.85" y="327.74" width="1.2" height="1.2" fill="#5f9c9c" opacity="0.6"/>
<rect x="1016.08" y="327.69" width="1.2" height="1.2" fill="#5f9c9c" opacity="0.6"/>
<rect x="1012.48" y="326.07" width="1.2" height="1.2" fill="#5f9c9c" opacity="0.6"/>
<rect x="1019.89" y="327.45" width="1.2" height="1.2" fill="#5f9c9c" opacity="0.6"/>
<rect x="1016.5" y="327.33" width="1.2" height="1.2" fill="#5f9c9c" opacity="0.6"/>
<rect x="1017.71" y="327.49" width="1.2" height="1.2" fill="#5f9c9c" opacity="0.6"/>
<rect x="1022.27" y="327.25" width="1.2" height="1.2" fill="#5f9c9c" opacity="0.6"/>
<rect x="1028.88" y="326.74" width="1.2" height="1.2" fill="#5f9c9c" opacity="0.6"/>
<rect x="1023.96" y="324.87" width="1.2" height="1.2" fill="#5f9c9c" opacity="0.6"/>
<rect x="1027.41" y="327.14" width="1.2" height="1.2" fill="#5f9c9c" opacity="0.6"/>
<rect x="1027.85" y="325.33" width="1.2" height="1.2" fill="#5f9c9c" opacity="0.6"/>
<rect x="1024.21" y="326.58" width="1.2" height="1.2" fill="#5f9c9c" opacity="0.6"/>
<rect x="1019.49" y="327.98" width="1.2" height="1.2" fill="#5f9c9c" opacity="0.6"/>
<rect x="1030.32" y="325.9" width="1.2" height="1.2" fill="#5f9c9c" opacity="0.6"/>
<rect x="1027.54" y="328.76" width="1.2" height="1.2" fill="#5f9c9c" opacity="0.6"/>
<rect x="1021.61" y="328.05" width="1.2" height="1.2" fill="#5f9c9c" opacity="0.6"/>
<rect x="1031.64" y="328.89" width="1.2" height="1.2" fill="#5f9c9c" opacity="0.6"/>
<rect x="1021.07" y="326.1" width="1.2" height="1.2" fill="#5f9c9c" opacity="0.6"/>
<rect x="1026.7" y="328.26" width="1.2" height="1.2" fill="#5f9c9c" opacity="0.6"/>
<rect x="1021.44" y="326.39" width="1.2" height="1.2" fill="#5f9c9c" opacity="0.6"/>
<rect x="1021.95" y="328.17" width="1.2" height="1.2" fill="#5f9c9c" opacity="0.6"/>
<rect x="1023.95" y="327.66" width="1.2" height="1.2" fill="#5f9c9c" opacity="0.6"/>
<rect x="1028.27" y="328.22" width="1.2" height="1.2" fill="#5f9c9c" opacity="0.6"/>
<rect x="1027.45" y="327.44" width="1.2" height="1.2" fill="#5f9c9c" opacity="0.6"/>
<rect x="1030.11" y="327.57" width="1.2" height="1.2" fill="#5f9c9c" opacity="0.6"/>
<rect x="1021.42" y="326.6" width="1.2" height="1.2" fill="#5f9c9c" opacity="0.6"/>
<rect x="1029.2" y="327.25" width="1.2" height="1.2" fill="#5f9c9c" opacity="0.6"/>
<rect x="1024.69" y="327.35" width="1.2" height="1.2" fill="#5f9c9c" opacity="0.6"/>
<rect x="1037.87" y="327.06" width="1.2" height="1.2" fill="#5f9c9c" opacity="0.6"/>
<rect x="1027.69" y="327.55" width="1.2" height="1.2" fill="#5f9c9c" opacity="0.6"/>
<rect x="1024.98" y="328.26" width="1.2" height="1.2" fill="#5f9c9c" opacity="0.6"/>
<rect x="1029.03" y="327.5" width="1.2" height="1.2" fill="#5f9c9c" opacity="0.6"/>
<rect x="1031.3" y="328.79" width="1.2" height="1.2" fill="#5f9c9c" opacity="0.6"/>
<rect x="1041.46" y="327.5" width="1.2" height="1.2" fill="#5f9c9c" opacity="0.6"/>
<rect x="1024.86" y="327.52" width="1.2" height="1.2" fill="#5f9c9c" opacity="0.6"/>
<rect x="1031.96" y="327.36" width="1.2" height="1.2" fill="#5f9c9c" opacity="0.6"/>
<rect x="1035.34" y="326.78" width="1.2" height="1.2" fill="#5f9c9c" opacity="0.6"/>
<rect x="1042.65" y="327.69" width="1.2" height="1.2" fill="#5f9c9c" opacity="0.6"/>
<rect x="1043.72" y="326.65" width="1.2" height="1.2" fill="#5f9c9c" opacity="0.6"/>
<rect x="1036.87" y="328.89" width="1.2" height="1.2" fill="#5f9c9c" opacity="0.6"/>
<rect x="1039.35" y="326.88" width="1.2" height="1.2" fill="#5f9c9c" opacity="0.6"/>
<rect x="1033.5" y="327.01" width="1.2" height="1.2" fill="#5f9c9c" opacity="0.6"/>
<rect x="1037.38" y="328.24" width="1.2" height="1.2" fill="#5f9c9c" opacity="0.6"/>
<rect x="1038.48" y="328.3" width="1.2" height="1.2" fill="#5f9c9c" opacity="0.6"/>
<rect x="1041.81" y="327.69" width="1.2" height="1.2" fill="#5f9c9c" opacity="0.6"/>
<rect x="1043.98" y="328.29" width="1.2" height="1.2" fill="#5f9c9c" opacity="0.6"/>
<rect x="1036.89" y="327.42" width="1.2" height="1.2" fill="#5f9c9c" opacity="0.6"/>
<rect x="1037.69" y="326.87" width="1.2" height="1.2" fill="#5f9c9c" opacity="0.6"/>
<rect x="1031.33" y="327.61" width="1.2" height="1.2" fill="#5f9c9c" opacity="0.6"/>
<rect x="1035.31" y="328.14" width="1.2" height="1.2" fill="#5f9c9c" opacity="0.6"/>
<rect x="1034.91" y="327.67" width="1.2" height="1.2" fill="#5f9c9c" opacity="0.6"/>
<rect x="1038.73" y="327.13" width="1.2" height="1.2" fill="#5f9c9c" opacity="0.6"/>
<rect x="1038.7" y="326.88" width="1.2" height="1.2" fill="#5f9c9c" opacity="0.6"/>
<rect x="1035.71" y="328.35" width="1.2" height="1.2" fill="#5f9c9c" opacity="0.6"/>
<rect x="1039.63" y="327.57" width="1.2" height="1.2" fill="#5f9c9c" opacity="0.6"/>
<rect x="1033.99" y="328.24" width="1.2" height="1.2" fill="#5f9c9c" opacity="0.6"/>
<rect x="1047.35" y="325.48" width="1.2" height="1.2" fill="#5f9c9c" opacity="0.6"/>
<rect x="1042.81" y="327.78" width="1.2" height="1.2" fill="#5f9c9c" opacity="0.6"/>
<rect x="1043.04" y="328.7" width="1.2" height="1.2" fill="#5f9c9c" opacity="0.6"/>
<rect x="1032.87" y="329.25" width="1.2" height="1.2" fill="#5f9c9c" opacity="0.6"/>
<rect x="1034.91" y="327.33" width="1.2" height="1.2" fill="#5f9c9c" opacity="0.6"/>
<rect x="1040.77" y="327.49" width="1.2" height="1.2" fill="#5f9c9c" opacity="0.6"/>
<rect x="1050.73" y="328.01" width="1.2" height="1.2" fill="#5f9c9c" opacity="0.6"/>
<rect x="1044.46" y="328.52" width="1.2" height="1.2" fill="#5f9c9c" opacity="0.6"/>
<rect x="1044.2" y="329.8" width="1.2" height="1.2" fill="#5f9c9c" opacity="0.6"/>
<rect x="1050.61" y="329.86" width="1.2" height="1.2" fill="#5f9c9c" opacity="0.6"/>
<rect x="1043.45" y="326.51" width="1.2" height="1.2" fill="#5f9c9c" opacity="0.6"/>
<rect x="1038.49" y="328.14" width="1.2" height="1.2" fill="#5f9c9c" opacity="0.6"/>
<rect x="1043.25" y="328.85" width="1.2" height="1.2" fill="#5f9c9c" opacity="0.6"/>
<rect x="1042.43" y="327.18" width="1.2" height="1.2" fill="#5f9c9c" opacity="0.6"/>
<rect x="1050.79" y="328.13" width="1.2" height="1.2" fill="#5f9c9c" opacity="0.6"/>
<rect x="1052.7" y="329.28" width="1.2" height="1.2" fill="#5f9c9c" opacity="0.6"/>
<rect x="1051.14" y="327.34" width="1.2" height="1.2" fill="#5f9c9c" opacity="0.6"/>
<rect x="1045.27" y="330.68" width="1.2" height="1.2" fill="#5f9c9c" opacity="0.6"/>
<rect x="1048.34" y="328.79" width="1.2" height="1.2" fill="#5f9c9c" opacity="0.6"/>
<rect x="1050.03" y="328.48" width="1.2" height="1.2" fill="#5f9c9c" opacity="0.6"/>
<rect x="1048.61" y="327.97" width="1.2" height="1.2" fill="#5f9c9c" opacity="0.6"/>
<rect x="1046.95" y="326.57" width="1.2" height="1.2" fill="#5f9c9c" opacity="0.6"/>
<rect x="1057.45" y="328.4" width="1.2" height="1.2" fill="#5f9c9c" opacity="0.6"/>
<rect x="1043.13" y="329" width="1.2" height="1.2" fill="#5f9c9c" opacity="0.6"/>
<rect x="1052.64" y="327.12" width="1.2" height="1.2" fill="#5f9c9c" opacity="0.6"/>
<rect x="1046.94" y="329.94" width="1.2" height="1.2" fill="#5f9c9c" opacity="0.6"/>
<rect x="1064.13" y="328.33" width="1.2" height="1.2" fill="#5f9c9c" opacity="0.6"/>
<rect x="1065.76" y="327.8" width="1.2" height="1.2" fill="#5f9c9c" opacity="0.6"/>
<rect x="1061.11" y="329.45" width="1.2" height="1.2" fill="#5f9c9c" opacity="0.6"/>
<rect x="1061.51" y="327.85" width="1.2" height="1.2" fill="#5f9c9c" opacity="0.6"/>
<rect x="1064.47" y="327.95" width="1.2" height="1.2" fill="#5f9c9c" opacity="0.6"/>
<rect x="1057.73" y="329.74" width="1.2" height="1.2" fill="#5f9c9c" opacity="0.6"/>
<rect x="1061.91" y="329.64" width="1.2" height="1.2" fill="#5f9c9c" opacity="0.6"/>
<rect x="1064" y="327.05" width="1.2" height="1.2" fill="#5f9c9c" opacity="0.6"/>
<rect x="1067.74" y="327.75" width="1.2" height="1.2" fill="#5f9c9c" opacity="0.6"/>
<rect x="1059.08" y="327.89" width="1.2" height="1.2" fill="#5f9c9c" opacity="0.6"/>
<rect x="1054.46" y="328.31" width="1.2" height="1.2" fill="#5f9c9c" opacity="0.6"/>
<rect x="1059.55" y="327.68" width="1.2" height="1.2" fill="#5f9c9c" opacity="0.6"/>
<rect x="1058.97" y="328.57" width="1.2" height="1.2" fill="#5f9c9c" opacity="0.6"/>
<rect x="1063.46" y="328.96" width="1.2" height="1.2" fill="#5f9c9c" opacity="0.6"/>
<rect x="1068.16" y="328.19" width="1.2" height="1.2" fill="#5f9c9c" opacity="0.6"/>
<rect x="1050.34" y="337.58" width="1.2" height="1.2" fill="#5f9c9c" opacity="0.6"/>
<rect x="1049.25" y="335.53" width="1.2" height="1.2" fill="#5f9c9c" opacity="0.6"/>
<rect x="1051.13" y="334.78" width="1.2" height="1.2" fill="#5f9c9c" opacity="0.6"/>
<rect x="1047.9" y="336" width="1.2" height="1.2" fill="#5f9c9c" opacity="0.6"/>
<rect x="1050.53" y="340.37" width="1.2" height="1.2" fill="#5f9c9c" opacity="0.6"/>
<rect x="1049.37" y="334.6" width="1.2" height="1.2" fill="#5f9c9c" opacity="0.6"/>
<rect x="1050.34" y="336.47" width="1.2" height="1.2" fill="#5f9c9c" opacity="0.6"/>
<rect x="1050.52" y="335.6" width="1.2" height="1.2" fill="#5f9c9c" opacity="0.6"/>
<rect x="1057.48" y="345.49" width="1.2" height="1.2" fill="#5f9c9c" opacity="0.6"/>
<rect x="1058.42" y="346.31" width="1.2" height="1.2" fill="#5f9c9c" opacity="0.6"/>
<rect x="1057.93" y="345.63" width="1.2" height="1.2" fill="#5f9c9c" opacity="0.6"/>
<rect x="1055.52" y="346.06" width="1.2" height="1.2" fill="#5f9c9c" opacity="0.6"/>
<rect x="1057.18" y="347.1" width="1.2" height="1.2" fill="#5f9c9c" opacity="0.6"/>
<rect x="1071.9" y="346.01" width="1.2" height="1.2" fill="#5f9c9c" opacity="0.6"/>
<rect x="1070.08" y="345.1" width="1.2" height="1.2" fill="#5f9c9c" opacity="0.6"/>
<rect x="1070.09" y="346.25" width="1.2" height="1.2" fill="#5f9c9c" opacity="0.6"/>
<rect x="1069.42" y="345.01" width="1.2" height="1.2" fill="#5f9c9c" opacity="0.6"/>
<rect x="1072.46" y="345.16" width="1.2" height="1.2" fill="#5f9c9c" opacity="0.6"/>
<rect x="1073.12" y="347.17" width="1.2" height="1.2" fill="#5f9c9c" opacity="0.6"/>
<rect x="1072.93" y="345.23" width="1.2" height="1.2" fill="#5f9c9c" opacity="0.6"/>
<rect x="1071.28" y="344.72" width="1.2" height="1.2" fill="#5f9c9c" opacity="0.6"/>
<rect x="1073.24" y="341.66" width="1.2" height="1.2" fill="#5f9c9c" opacity="0.6"/>
<rect x="1072.89" y="342.64" width="1.2" height="1.2" fill="#5f9c9c" opacity="0.6"/>
<rect x="1074.5" y="344.15" width="1.2" height="1.2" fill="#5f9c9c" opacity="0.6"/>
<rect x="1073.23" y="342.84" width="1.2" height="1.2" fill="#5f9c9c" opacity="0.6"/>
<rect x="1043.24" y="346.37" width="1.2" height="1.2" fill="#5f9c9c" opacity="0.6"/>
<rect x="1042.24" y="347.03" width="1.2" height="1.2" fill="#5f9c9c" opacity="0.6"/>
<rect x="1045.07" y="346.64" width="1.2" height="1.2" fill="#5f9c9c" opacity="0.6"/>
<rect x="1044.8" y="346.36" width="1.2" height="1.2" fill="#5f9c9c" opacity="0.6"/>
<rect x="1043.17" y="346.8" width="1.2" height="1.2" fill="#5f9c9c" opacity="0.6"/>
<rect x="1069.74" y="359.57" width="1.2" height="1.2" fill="#5f9c9c" opacity="0.6"/>
<rect x="1069.63" y="359.73" width="1.2" height="1.2" fill="#5f9c9c" opacity="0.6"/>
<rect x="1067.85" y="358.16" width="1.2" height="1.2" fill="#5f9c9c" opacity="0.6"/>
<rect x="1068.45" y="359.15" width="1.2" height="1.2" fill="#5f9c9c" opacity="0.6"/>
<rect x="1077.6" y="363.41" width="1.2" height="1.2" fill="#5f9c9c" opacity="0.6"/>
<rect x="1073.07" y="363.79" width="1.2" height="1.2" fill="#5f9c9c" opacity="0.6"/>
<rect x="1076.93" y="360.23" width="1.2" height="1.2" fill="#5f9c9c" opacity="0.6"/>
<rect x="1074.13" y="363.22" width="1.2" height="1.2" fill="#5f9c9c" opacity="0.6"/>
<rect x="1073.15" y="362.3" width="1.2" height="1.2" fill="#5f9c9c" opacity="0.6"/>
<rect x="1076.9" y="363.22" width="1.2" height="1.2" fill="#5f9c9c" opacity="0.6"/>
<rect x="1068.15" y="367.5" width="1.2" height="1.2" fill="#5f9c9c" opacity="0.6"/>
<rect x="1066.89" y="368.76" width="1.2" height="1.2" fill="#5f9c9c" opacity="0.6"/>
<rect x="1068.22" y="368.58" width="1.2" height="1.2" fill="#5f9c9c" opacity="0.6"/>
<rect x="1077.63" y="302.26" width="1.2" height="1.2" fill="#5f9c9c" opacity="0.6"/>
<rect x="1079.42" y="301.42" width="1.2" height="1.2" fill="#5f9c9c" opacity="0.6"/>
<rect x="1079.34" y="301.9" width="1.2" height="1.2" fill="#5f9c9c" opacity="0.6"/>
<rect x="1080.81" y="301.98" width="1.2" height="1.2" fill="#5f9c9c" opacity="0.6"/>
<rect x="1078.57" y="302.17" width="1.2" height="1.2" fill="#5f9c9c" opacity="0.6"/>
<rect x="1082.68" y="301.68" width="1.2" height="1.2" fill="#5f9c9c" opacity="0.6"/>
<rect x="1080.19" y="301.76" width="1.2" height="1.2" fill="#5f9c9c" opacity="0.6"/>
<rect x="1072.61" y="300.54" width="1.2" height="1.2" fill="#5f9c9c" opacity="0.6"/>
<rect x="1075.7" y="299.96" width="1.2" height="1.2" fill="#5f9c9c" opacity="0.6"/>
<rect x="1076.58" y="299.52" width="1.2" height="1.2" fill="#5f9c9c" opacity="0.6"/>
<rect x="1079.2" y="300.96" width="1.2" height="1.2" fill="#5f9c9c" opacity="0.6"/>
<rect x="1082.01" y="302.05" width="1.2" height="1.2" fill="#5f9c9c" opacity="0.6"/>
<rect x="1074.65" y="301.34" width="1.2" height="1.2" fill="#5f9c9c" opacity="0.6"/>
<rect x="1078.53" y="300.8" width="1.2" height="1.2" fill="#5f9c9c" opacity="0.6"/>
<rect x="1077.33" y="300.32" width="1.2" height="1.2" fill="#5f9c9c" opacity="0.6"/>
<rect x="1078.58" y="310.11" width="1.2" height="1.2" fill="#5f9c9c" opacity="0.6"/>
<rect x="1079.75" y="311.2" width="1.2" height="1.2" fill="#5f9c9c" opacity="0.6"/>
<rect x="1074.5" y="308.84" width="1.2" height="1.2" fill="#5f9c9c" opacity="0.6"/>
<rect x="1079.64" y="311.51" width="1.2" height="1.2" fill="#5f9c9c" opacity="0.6"/>
<rect x="1084" y="310.66" width="1.2" height="1.2" fill="#5f9c9c" opacity="0.6"/>
<rect x="1083.58" y="311.65" width="1.2" height="1.2" fill="#5f9c9c" opacity="0.6"/>
<rect x="1082.7" y="309.5" width="1.2" height="1.2" fill="#5f9c9c" opacity="0.6"/>
<rect x="1081.25" y="308.92" width="1.2" height="1.2" fill="#5f9c9c" opacity="0.6"/>
<rect x="1080.05" y="310.21" width="1.2" height="1.2" fill="#5f9c9c" opacity="0.6"/>
<rect x="1079.23" y="309.89" width="1.2" height="1.2" fill="#5f9c9c" opacity="0.6"/>
<rect x="1079.43" y="308.22" width="1.2" height="1.2" fill="#5f9c9c" opacity="0.6"/>
<rect x="1076.48" y="310.58" width="1.2" height="1.2" fill="#5f9c9c" opacity="0.6"/>
<rect x="1080.79" y="310.74" width="1.2" height="1.2" fill="#5f9c9c" opacity="0.6"/>
<rect x="1080.39" y="309.75" width="1.2" height="1.2" fill="#5f9c9c" opacity="0.6"/>
<rect x="1081.46" y="309.36" width="1.2" height="1.2" fill="#5f9c9c" opacity="0.6"/>
<rect x="1084.72" y="315.36" width="1.2" height="1.2" fill="#5f9c9c" opacity="0.6"/>
<rect x="1081.84" y="313.44" width="1.2" height="1.2" fill="#5f9c9c" opacity="0.6"/>
<rect x="1079.1" y="314.61" width="1.2" height="1.2" fill="#5f9c9c" opacity="0.6"/>
<rect x="1084.06" y="314.38" width="1.2" height="1.2" fill="#5f9c9c" opacity="0.6"/>
<rect x="1080.58" y="314.91" width="1.2" height="1.2" fill="#5f9c9c" opacity="0.6"/>
<rect x="1080.99" y="314.27" width="1.2" height="1.2" fill="#5f9c9c" opacity="0.6"/>
<rect x="1077.35" y="315.56" width="1.2" height="1.2" fill="#5f9c9c" opacity="0.6"/>
<rect x="1080.48" y="313.93" width="1.2" height="1.2" fill="#5f9c9c" opacity="0.6"/>
<rect x="1080.32" y="313.17" width="1.2" height="1.2" fill="#5f9c9c" opacity="0.6"/>
<rect x="1075.71" y="312.74" width="1.2" height="1.2" fill="#5f9c9c" opacity="0.6"/>
<rect x="1081.7" y="313.16" width="1.2" height="1.2" fill="#5f9c9c" opacity="0.6"/>
<rect x="1080.93" y="313.29" width="1.2" height="1.2" fill="#5f9c9c" opacity="0.6"/>
<rect x="1070.87" y="320.12" width="1.2" height="1.2" fill="#5f9c9c" opacity="0.6"/>
<rect x="1074.51" y="320.03" width="1.2" height="1.2" fill="#5f9c9c" opacity="0.6"/>
<rect x="1083.15" y="321.07" width="1.2" height="1.2" fill="#5f9c9c" opacity="0.6"/>
<rect x="1075.01" y="321.85" width="1.2" height="1.2" fill="#5f9c9c" opacity="0.6"/>
<rect x="1075.96" y="322.25" width="1.2" height="1.2" fill="#5f9c9c" opacity="0.6"/>
<rect x="1071.6" y="322.1" width="1.2" height="1.2" fill="#5f9c9c" opacity="0.6"/>
<rect x="1073.28" y="319.97" width="1.2" height="1.2" fill="#5f9c9c" opacity="0.6"/>
<rect x="1077.78" y="319.57" width="1.2" height="1.2" fill="#5f9c9c" opacity="0.6"/>
<rect x="1071.31" y="320.36" width="1.2" height="1.2" fill="#5f9c9c" opacity="0.6"/>
<rect x="1076.01" y="318.9" width="1.2" height="1.2" fill="#5f9c9c" opacity="0.6"/>
<rect x="1080.47" y="319.86" width="1.2" height="1.2" fill="#5f9c9c" opacity="0.6"/>
<rect x="1074.87" y="320.55" width="1.2" height="1.2" fill="#5f9c9c" opacity="0.6"/>
<rect x="1077.21" y="322.05" width="1.2" height="1.2" fill="#5f9c9c" opacity="0.6"/>
<rect x="1069.48" y="320.82" width="1.2" height="1.2" fill="#5f9c9c" opacity="0.6"/>
<rect x="1080.14" y="321.09" width="1.2" height="1.2" fill="#5f9c9c" opacity="0.6"/>
<rect x="1062.9" y="335.56" width="1.2" height="1.2" fill="#5f9c9c" opacity="0.6"/>
<rect x="1063.29" y="336.14" width="1.2" height="1.2" fill="#5f9c9c" opacity="0.6"/>
<rect x="1063.1" y="335.61" width="1.2" height="1.2" fill="#5f9c9c" opacity="0.6"/>
<rect x="1062.68" y="336.46" width="1.2" height="1.2" fill="#5f9c9c" opacity="0.6"/>
<rect x="1068.6" y="337.56" width="1.2" height="1.2" fill="#5f9c9c" opacity="0.6"/>
<rect x="1069.87" y="335.39" width="1.2" height="1.2" fill="#5f9c9c" opacity="0.6"/>
<rect x="1069.75" y="336.72" width="1.2" height="1.2" fill="#5f9c9c" opacity="0.6"/>
<rect x="1069.67" y="335.63" width="1.2" height="1.2" fill="#5f9c9c" opacity="0.6"/>
</g>
<line x1="985.2" y1="264.4" x2="985.2" y2="370.7" stroke="#111" stroke-width="1.4" />
<line x1="974.5" y1="321.4" x2="1085.6" y2="321.4" stroke="#111" stroke-width="1.4" />
<rect x="982.6" y="318.8" width="5.2" height="5.2" fill="#000" stroke="none" stroke-width="1" />
<rect x="858.3" y="40.4" width="111" height="106.4" fill="none" stroke="#3b3b3b" stroke-width="1.5" />
<rect x="858.3" y="152.6" width="111" height="106.1" fill="none" stroke="#3b3b3b" stroke-width="1.5" />
<rect x="974.5" y="152.6" width="111.1" height="106.1" fill="none" stroke="#3b3b3b" stroke-width="1.5" />
<rect x="858.3" y="264.4" width="111" height="106.3" fill="none" stroke="#3b3b3b" stroke-width="1.5" />
<rect x="974.5" y="264.4" width="111.1" height="106.3" fill="none" stroke="#3b3b3b" stroke-width="1.5" />
<rect x="1091.2" y="264.4" width="111.4" height="106.3" fill="none" stroke="#3b3b3b" stroke-width="1.5" />
<line x1="880.4" y1="146.8" x2="880.4" y2="151.6" stroke="#3b3b3b" stroke-width="1.1" />
<line x1="902.7" y1="146.8" x2="902.7" y2="151.6" stroke="#3b3b3b" stroke-width="1.1" />
<line x1="925.3" y1="146.8" x2="925.3" y2="151.6" stroke="#3b3b3b" stroke-width="1.1" />
<line x1="947.7" y1="146.8" x2="947.7" y2="151.6" stroke="#3b3b3b" stroke-width="1.1" />
<line x1="880.4" y1="258.7" x2="880.4" y2="263.5" stroke="#3b3b3b" stroke-width="1.1" />
<line x1="902.7" y1="258.7" x2="902.7" y2="263.5" stroke="#3b3b3b" stroke-width="1.1" />
<line x1="925.3" y1="258.7" x2="925.3" y2="263.5" stroke="#3b3b3b" stroke-width="1.1" />
<line x1="947.7" y1="258.7" x2="947.7" y2="263.5" stroke="#3b3b3b" stroke-width="1.1" />
<line x1="996.7" y1="258.7" x2="996.7" y2="263.5" stroke="#3b3b3b" stroke-width="1.1" />
<line x1="1018.9" y1="258.7" x2="1018.9" y2="263.5" stroke="#3b3b3b" stroke-width="1.1" />
<line x1="1041.3" y1="258.7" x2="1041.3" y2="263.5" stroke="#3b3b3b" stroke-width="1.1" />
<line x1="1063.5" y1="258.7" x2="1063.5" y2="263.5" stroke="#3b3b3b" stroke-width="1.1" />
<line x1="880.4" y1="370.7" x2="880.4" y2="375.5" stroke="#3b3b3b" stroke-width="1.1" />
<line x1="902.7" y1="370.7" x2="902.7" y2="375.5" stroke="#3b3b3b" stroke-width="1.1" />
<line x1="925.3" y1="370.7" x2="925.3" y2="375.5" stroke="#3b3b3b" stroke-width="1.1" />
<line x1="947.7" y1="370.7" x2="947.7" y2="375.5" stroke="#3b3b3b" stroke-width="1.1" />
<line x1="996.7" y1="370.7" x2="996.7" y2="375.5" stroke="#3b3b3b" stroke-width="1.1" />
<line x1="1018.9" y1="370.7" x2="1018.9" y2="375.5" stroke="#3b3b3b" stroke-width="1.1" />
<line x1="1041.3" y1="370.7" x2="1041.3" y2="375.5" stroke="#3b3b3b" stroke-width="1.1" />
<line x1="1063.5" y1="370.7" x2="1063.5" y2="375.5" stroke="#3b3b3b" stroke-width="1.1" />
<line x1="1119.3" y1="370.7" x2="1119.3" y2="375.5" stroke="#3b3b3b" stroke-width="1.1" />
<line x1="1148.2" y1="370.7" x2="1148.2" y2="375.5" stroke="#3b3b3b" stroke-width="1.1" />
<line x1="1177.4" y1="370.7" x2="1177.4" y2="375.5" stroke="#3b3b3b" stroke-width="1.1" />
<line x1="853.5" y1="173.7" x2="858.3" y2="173.7" stroke="#3b3b3b" stroke-width="1.1" />
<line x1="853.5" y1="195.5" x2="858.3" y2="195.5" stroke="#3b3b3b" stroke-width="1.1" />
<line x1="853.5" y1="216.9" x2="858.3" y2="216.9" stroke="#3b3b3b" stroke-width="1.1" />
<line x1="853.5" y1="238.2" x2="858.3" y2="238.2" stroke="#3b3b3b" stroke-width="1.1" />
<line x1="853.5" y1="288.1" x2="858.3" y2="288.1" stroke="#3b3b3b" stroke-width="1.1" />
<line x1="969.7" y1="288.1" x2="974.5" y2="288.1" stroke="#3b3b3b" stroke-width="1.1" />
<line x1="853.5" y1="315.9" x2="858.3" y2="315.9" stroke="#3b3b3b" stroke-width="1.1" />
<line x1="969.7" y1="315.9" x2="974.5" y2="315.9" stroke="#3b3b3b" stroke-width="1.1" />
<line x1="853.5" y1="343.7" x2="858.3" y2="343.7" stroke="#3b3b3b" stroke-width="1.1" />
<line x1="969.7" y1="343.7" x2="974.5" y2="343.7" stroke="#3b3b3b" stroke-width="1.1" />
<text x="879.9" y="390.5" font-size="15.5" font-family='"Liberation Sans", sans-serif' text-anchor="middle" dominant-baseline="central" transform="rotate(-45 879.9 390.5)" textLength="19.5" lengthAdjust="spacingAndGlyphs">0.8</text>
<text x="902.2" y="390.5" font-size="15.5" font-family='"Liberation Sans", sans-serif' text-anchor="middle" dominant-baseline="central" transform="rotate(-45 902.2 390.5)" textLength="19.5" lengthAdjust="spacingAndGlyphs">1.6</text>
<text x="924.8" y="390.5" font-size="15.5" font-family='"Liberation Sans", sans-serif' text-anchor="middle" dominant-baseline="central" transform="rotate(-45 924.8 390.5)" textLength="19.5" lengthAdjust="spacingAndGlyphs">2.4</text>
<text x="947.2" y="390.5" font-size="15.5" font-family='"Liberation Sans", sans-serif' text-anchor="middle" dominant-baseline="central" transform="rotate(-45 947.2 390.5)" textLength="19.5" lengthAdjust="spacingAndGlyphs">3.2</text>
<text x="996.2" y="388.8" font-size="15.5" font-family='"Liberation Sans", sans-serif' text-anchor="middle" dominant-baseline="central" transform="rotate(-45 996.2 388.8)" textLength="17" lengthAdjust="spacingAndGlyphs">40</text>
<text x="1018.4" y="388.8" font-size="15.5" font-family='"Liberation Sans", sans-serif' text-anchor="middle" dominant-baseline="central" transform="rotate(-45 1018.4 388.8)" textLength="17" lengthAdjust="spacingAndGlyphs">80</text>
<text x="1040.8" y="392.6" font-size="15.5" font-family='"Liberation Sans", sans-serif' text-anchor="middle" dominant-baseline="central" transform="rotate(-45 1040.8 392.6)" textLength="25" lengthAdjust="spacingAndGlyphs">120</text>
<text x="1063" y="392.6" font-size="15.5" font-family='"Liberation Sans", sans-serif' text-anchor="middle" dominant-baseline="central" transform="rotate(-45 1063 392.6)" textLength="25" lengthAdjust="spacingAndGlyphs">160</text>
<text x="1118.8" y="388.3" font-size="15.5" font-family='"Liberation Sans", sans-serif' text-anchor="middle" dominant-baseline="central" transform="rotate(-45 1118.8 388.3)" textLength="19" lengthAdjust="spacingAndGlyphs">−2</text>
<text x="1147.7" y="385.2" font-size="15.5" font-family='"Liberation Sans", sans-serif' text-anchor="middle" dominant-baseline="central" transform="rotate(-45 1147.7 385.2)">0</text>
<text x="1176.9" y="385.2" font-size="15.5" font-family='"Liberation Sans", sans-serif' text-anchor="middle" dominant-baseline="central" transform="rotate(-45 1176.9 385.2)">2</text>
<text x="835.2" y="181.5" font-size="15.5" font-family='"Liberation Sans", sans-serif' text-anchor="middle" dominant-baseline="central" transform="rotate(-45 835.2 181.5)" textLength="25" lengthAdjust="spacingAndGlyphs">160</text>
<text x="835.2" y="203.3" font-size="15.5" font-family='"Liberation Sans", sans-serif' text-anchor="middle" dominant-baseline="central" transform="rotate(-45 835.2 203.3)" textLength="25" lengthAdjust="spacingAndGlyphs">120</text>
<text x="838.4" y="222.1" font-size="15.5" font-family='"Liberation Sans", sans-serif' text-anchor="middle" dominant-baseline="central" transform="rotate(-45 838.4 222.1)" textLength="17" lengthAdjust="spacingAndGlyphs">80</text>
<text x="838.4" y="243.4" font-size="15.5" font-family='"Liberation Sans", sans-serif' text-anchor="middle" dominant-baseline="central" transform="rotate(-45 838.4 243.4)" textLength="17" lengthAdjust="spacingAndGlyphs">40</text>
<text x="840.7" y="290.7" font-size="15.5" font-family='"Liberation Sans", sans-serif' text-anchor="middle" dominant-baseline="central" transform="rotate(-45 840.7 290.7)">2</text>
<text x="842" y="318.5" font-size="15.5" font-family='"Liberation Sans", sans-serif' text-anchor="middle" dominant-baseline="central" transform="rotate(-45 842 318.5)">0</text>
<text x="837.5" y="350" font-size="15.5" font-family='"Liberation Sans", sans-serif' text-anchor="middle" dominant-baseline="central" transform="rotate(-45 837.5 350)" textLength="19" lengthAdjust="spacingAndGlyphs">−2</text>
<text x="913.9" y="421.8" font-size="16.5" font-family='"Liberation Sans", sans-serif' fill="#000" text-anchor="middle" ><tspan font-style="italic">σ</tspan></text>
<text x="1030.5" y="421.5" font-size="16.5" font-family='"Liberation Sans", sans-serif' fill="#000" text-anchor="middle" ><tspan font-style="italic">δt</tspan></text>
<text x="1146.5" y="421.8" font-size="16.5" font-family='"Liberation Sans", sans-serif' fill="#000" text-anchor="middle" ><tspan font-style="italic">α</tspan></text>
<text x="813.5" y="206.2" font-size="16.5" font-family='"Liberation Sans", sans-serif' fill="#000" text-anchor="middle" transform="rotate(-90 813.5 206.2)" ><tspan font-style="italic">δt</tspan></text>
<text x="814" y="318.3" font-size="16.5" font-family='"Liberation Sans", sans-serif' fill="#000" text-anchor="middle" transform="rotate(-90 814 318.3)" ><tspan font-style="italic">α</tspan></text>
<text x="863.8" y="34.9" font-size="15.6" font-family='"Liberation Sans", sans-serif' fill="#000" textLength="64.7" lengthAdjust="spacingAndGlyphs" ><tspan font-style="italic">σ</tspan> = 2.19</text>
<text x="930" y="29" font-size="11.2" font-family='"Liberation Sans", sans-serif' fill="#000" textLength="32.6" lengthAdjust="spacingAndGlyphs" >+1.09</text>
<text x="930" y="39.5" font-size="11.2" font-family='"Liberation Sans", sans-serif' fill="#000" textLength="32.6" lengthAdjust="spacingAndGlyphs" >−1.93</text>
<text x="970.2" y="146.4" font-size="15.6" font-family='"Liberation Sans", sans-serif' fill="#000" textLength="72.1" lengthAdjust="spacingAndGlyphs" ><tspan font-style="italic">δt</tspan> = 9.64</text>
<text x="1043.8" y="140.9" font-size="11.2" font-family='"Liberation Sans", sans-serif' fill="#000" textLength="45.3" lengthAdjust="spacingAndGlyphs" >+113.14</text>
<text x="1043.8" y="151" font-size="11.2" font-family='"Liberation Sans", sans-serif' fill="#000" textLength="31.7" lengthAdjust="spacingAndGlyphs" >−5.94</text>
<text x="1089.9" y="258.3" font-size="15.6" font-family='"Liberation Sans", sans-serif' fill="#000" textLength="78.3" lengthAdjust="spacingAndGlyphs" ><tspan font-style="italic">α</tspan> = −0.65</text>
<text x="1169.7" y="252.1" font-size="11.2" font-family='"Liberation Sans", sans-serif' fill="#000" textLength="32.7" lengthAdjust="spacingAndGlyphs" >+0.13</text>
<text x="1169.7" y="262.5" font-size="11.2" font-family='"Liberation Sans", sans-serif' fill="#000" textLength="32.7" lengthAdjust="spacingAndGlyphs" >−0.09</text>
<polyline points="858.3,660.8 858.3,629.55 863.85,629.55 863.85,628.23 869.4,628.23 869.4,624.66 874.95,624.66 874.95,619.63 880.5,619.63 880.5,617.25 886.05,617.25 886.05,612.36 891.6,612.36 891.6,604.03 897.15,604.03 897.15,597.42 902.7,597.42 902.7,595.57 908.25,595.57 908.25,598.21 913.8,598.21 913.8,602.18 919.35,602.18 919.35,603.1 924.9,603.1 924.9,597.15 930.45,597.15 930.45,586.31 936,586.31 936,577.05 941.55,577.05 941.55,573.61 947.1,573.61 947.1,573.09 952.65,573.09 952.65,568.32 958.2,568.32 958.2,564.09 963.75,564.09 963.75,564.09 969.3,564.09 969.3,660.8" fill="none" stroke="#5f9c9c" stroke-width="1.4" />
<line x1="888.1" y1="554.4" x2="888.1" y2="660.8" stroke="#5f9c9c" stroke-width="1.2" stroke-dasharray="3.6,2.4"/>
<line x1="928.7" y1="554.4" x2="928.7" y2="660.8" stroke="#5f9c9c" stroke-width="1.2" stroke-dasharray="3.6,2.4"/>
<line x1="957.8" y1="554.4" x2="957.8" y2="660.8" stroke="#5f9c9c" stroke-width="1.2" stroke-dasharray="3.6,2.4"/>
<line x1="865.6" y1="554.4" x2="865.6" y2="660.8" stroke="#111" stroke-width="1.4" />
<polyline points="974.5,772.7 974.5,717.24 980.05,717.24 980.05,694.54 985.61,694.54 985.61,676.04 991.16,676.04 991.16,679.32 996.72,679.32 996.72,681.31 1002.27,681.31 1002.27,695.36 1007.83,695.36 1007.83,723.1 1013.38,723.1 1013.38,741.59 1018.94,741.59 1018.94,746.85 1024.49,746.85 1024.49,751.19 1030.05,751.19 1030.05,754.23 1035.61,754.23 1035.61,754.23 1041.16,754.23 1041.16,749.78 1046.71,749.78 1046.71,744.51 1052.27,744.51 1052.27,740.18 1057.82,740.18 1057.82,734.57 1063.38,734.57 1063.38,722.28 1068.93,722.28 1068.93,709.4 1074.49,709.4 1074.49,708.82 1080.04,708.82 1080.04,714.9 1085.6,714.9 1085.6,772.7" fill="none" stroke="#5f9c9c" stroke-width="1.4" />
<line x1="987.3" y1="666.6" x2="987.3" y2="772.7" stroke="#5f9c9c" stroke-width="1.2" stroke-dasharray="3.6,2.4"/>
<line x1="1007.2" y1="666.6" x2="1007.2" y2="772.7" stroke="#5f9c9c" stroke-width="1.2" stroke-dasharray="3.6,2.4"/>
<line x1="1071.3" y1="666.6" x2="1071.3" y2="772.7" stroke="#5f9c9c" stroke-width="1.2" stroke-dasharray="3.6,2.4"/>
<line x1="981.2" y1="666.6" x2="981.2" y2="772.7" stroke="#111" stroke-width="1.4" />
<polyline points="1091.2,884.7 1091.2,787.98 1096.77,787.98 1096.77,810.86 1102.34,810.86 1102.34,839.48 1107.91,839.48 1107.91,861.73 1113.48,861.73 1113.48,874.19 1119.05,874.19 1119.05,878.9 1124.62,878.9 1124.62,880.17 1130.19,880.17 1130.19,880.8 1135.76,880.8 1135.76,881.06 1141.33,881.06 1141.33,881.44 1146.9,881.44 1146.9,881.69 1152.47,881.69 1152.47,881.82 1158.04,881.82 1158.04,882.08 1163.61,882.08 1163.61,882.71 1169.18,882.71 1169.18,883.35 1174.75,883.35 1174.75,883.98 1180.32,883.98 1180.32,883.98 1185.89,883.98 1185.89,883.98 1191.46,883.98 1191.46,883.98 1197.03,883.98 1197.03,883.98 1202.6,883.98 1202.6,884.7" fill="none" stroke="#5f9c9c" stroke-width="1.4" />
<line x1="1093.1" y1="778.4" x2="1093.1" y2="884.7" stroke="#5f9c9c" stroke-width="1.2" stroke-dasharray="3.6,2.4"/>
<line x1="1098.8" y1="778.4" x2="1098.8" y2="884.7" stroke="#5f9c9c" stroke-width="1.2" stroke-dasharray="3.6,2.4"/>
<line x1="1110.3" y1="778.4" x2="1110.3" y2="884.7" stroke="#5f9c9c" stroke-width="1.2" stroke-dasharray="3.6,2.4"/>
<line x1="1142.3" y1="778.4" x2="1142.3" y2="884.7" stroke="#111" stroke-width="1.4" />
<clipPath id="cb10"><rect x="858.3" y="666.6" width="111" height="106.1"/></clipPath><g clip-path="url(#cb10)">
<path d="M857.34,665.51 C859.68,665.51 869.13,663.56 871.37,665.51 C873.62,667.46 872.35,671.94 870.79,677.21 C869.23,682.47 864.26,690.27 862.02,697.1 C859.78,703.92 858.12,714.64 857.34,718.15 Z" fill="#f5f9f9" />
<path d="M871.37,665.51 C871.28,667.46 869.72,673.6 870.79,677.21 C871.86,680.82 874.79,686.08 877.81,687.15 C880.83,688.22 884.92,683.16 888.92,683.64 C892.91,684.13 899.05,688.03 901.78,690.08 C904.51,692.12 903.93,693.1 905.29,695.93 C906.66,698.75 907.44,704.51 909.97,707.04 C912.5,709.57 916.01,711.23 920.5,711.13 C924.98,711.04 931.22,708.21 936.87,706.45 C942.52,704.7 948.76,701.97 954.42,700.61 C960.07,699.24 968.06,698.66 970.79,698.27 L970.79,665.51 Z" fill="#ebf3f3" />
<path d="M895.94,665.51 C895.74,667.46 893.79,674.19 894.77,677.21 C895.74,680.23 898.27,682.67 901.78,683.64 C905.29,684.62 912.5,682.18 915.82,683.06 C919.13,683.93 921.08,685.79 921.67,688.91 C922.25,692.03 917.77,700.02 919.33,701.78 C920.89,703.53 925.18,701 931.02,699.44 C936.87,697.88 947.79,693.98 954.42,692.42 C961.04,690.86 968.06,690.47 970.79,690.08 L970.79,665.51 Z" fill="#deecec" />
<path d="M939.21,665.51 C940.38,667.26 943.3,673.31 946.23,676.04 C949.15,678.77 952.66,680.52 956.75,681.89 C960.85,683.25 968.45,683.84 970.79,684.23 L970.79,665.51 Z" fill="#c3dcdc" />
<path d="M882.49,665.51 C883.46,666.78 886.48,673.11 888.33,673.11 C890.19,673.11 892.72,666.78 893.6,665.51 Z" fill="#f4f8f8" />
<path d="M915.82,665.51 C916.99,666.87 920.69,673.7 922.84,673.7 C924.98,673.7 927.71,666.87 928.68,665.51 Z" fill="#f4f8f8" />
<path d="M857.34,719.91 C858.7,720.98 862.99,725.86 865.53,726.34 C868.06,726.83 870.01,723.81 872.54,722.83 C875.08,721.86 878.39,720.49 880.73,720.49 C883.07,720.49 885.02,721.08 886.58,722.83 C888.14,724.59 888.72,728.78 890.09,731.02 C891.45,733.26 890.87,735.6 894.77,736.29 C898.66,736.97 906.46,735.6 913.48,735.12 C920.5,734.63 930.05,734.24 936.87,733.36 C943.69,732.48 948.76,731.61 954.42,729.85 C960.07,728.1 968.06,724 970.79,722.83 L970.79,774.31 L857.34,774.31 Z" fill="#eaf3f3" />
<path d="M881.9,774.31 C882.68,769.63 883.27,751.69 886.58,746.23 C889.89,740.77 895.35,742.92 901.78,741.55 C908.22,740.19 917.38,738.82 925.18,738.04 C932.97,737.26 940.96,737.46 948.57,736.87 C956.17,736.29 967.09,734.92 970.79,734.53 L970.79,774.31 Z" fill="#d8e9e9" />
<path d="M888.92,774.31 C889.5,770.99 888.33,758.71 892.43,754.42 C896.52,750.13 906.07,750.32 913.48,748.57 C920.89,746.82 927.32,745.45 936.87,743.89 C946.42,742.33 965.14,739.99 970.79,739.21 L970.79,774.31 Z" fill="#bcd9d9" />
<path d="M936.87,759.1 C937.26,757.73 936.29,753.05 939.21,750.91 C942.13,748.76 949.15,747.4 954.42,746.23 C959.68,745.06 968.06,742.33 970.79,743.89 C973.52,745.45 973.52,753.05 970.79,755.59 C968.06,758.12 957.14,758.51 954.42,759.1 Z" fill="#a2c9c9" />
<path d="M890.09,755.59 C893.21,755.39 905.49,753.05 908.8,754.42 C912.12,755.78 913.09,762.22 909.97,763.78 C906.85,765.34 893.4,763.78 890.09,763.78 Z" fill="#a9cdcd" />
<path d="M900.61,774.31 C901.39,772.75 903.34,768.26 905.29,764.95 C907.24,761.63 910.07,756.76 912.31,754.42 C914.55,752.08 916.6,751.2 918.74,750.91 C920.89,750.62 923.13,751.1 925.18,752.66 C927.22,754.22 929.27,756.66 931.02,760.27 C932.78,763.88 934.92,771.97 935.7,774.31 Z" fill="#dcebeb" />
<path d="M915.82,774.31 C916.79,772.75 919.33,764.95 921.67,764.95 C924.01,764.95 928.49,772.75 929.85,774.31 Z" fill="#f1f7f7" />
<path d="M857.34,719.91 C858.7,720.98 862.99,725.86 865.53,726.34 C868.06,726.83 870.01,723.81 872.54,722.83 C875.08,721.86 878.39,720.49 880.73,720.49 C883.07,720.49 885.02,721.08 886.58,722.83 C888.14,724.59 888.72,728.78 890.09,731.02 C891.45,733.26 890.87,735.6 894.77,736.29 C898.66,736.97 906.46,735.6 913.48,735.12 C920.5,734.63 930.05,734.24 936.87,733.36 C943.69,732.48 948.76,731.61 954.42,729.85 C960.07,728.1 968.06,724 970.79,722.83" fill="none" stroke="#5f9c9c" stroke-width="1.3" />
<path d="M871.37,665.51 C871.28,667.46 869.72,673.6 870.79,677.21 C871.86,680.82 874.79,686.08 877.81,687.15 C880.83,688.22 884.92,683.16 888.92,683.64 C892.91,684.13 899.05,688.03 901.78,690.08 C904.51,692.12 903.93,693.1 905.29,695.93 C906.66,698.75 907.44,704.51 909.97,707.04 C912.5,709.57 916.01,711.23 920.5,711.13 C924.98,711.04 931.22,708.21 936.87,706.45 C942.52,704.7 948.76,701.97 954.42,700.61 C960.07,699.24 968.06,698.66 970.79,698.27" fill="none" stroke="#5f9c9c" stroke-width="1.3" />
<path d="M895.94,665.51 C895.74,667.46 893.79,674.19 894.77,677.21 C895.74,680.23 898.27,682.67 901.78,683.64 C905.29,684.62 912.5,682.18 915.82,683.06 C919.13,683.93 921.08,685.79 921.67,688.91 C922.25,692.03 917.77,700.02 919.33,701.78 C920.89,703.53 925.18,701 931.02,699.44 C936.87,697.88 947.79,693.98 954.42,692.42 C961.04,690.86 968.06,690.47 970.79,690.08" fill="none" stroke="#5f9c9c" stroke-width="1.3" />
<path d="M939.21,665.51 C940.38,667.26 943.3,673.31 946.23,676.04 C949.15,678.77 952.66,680.52 956.75,681.89 C960.85,683.25 968.45,683.84 970.79,684.23" fill="none" stroke="#5f9c9c" stroke-width="1.3" />
<path d="M882.49,665.51 C883.46,666.78 886.48,673.11 888.33,673.11 C890.19,673.11 892.72,666.78 893.6,665.51" fill="none" stroke="#5f9c9c" stroke-width="1.3" />
<path d="M915.82,665.51 C916.99,666.87 920.69,673.7 922.84,673.7 C924.98,673.7 927.71,666.87 928.68,665.51" fill="none" stroke="#5f9c9c" stroke-width="1.3" />
<path d="M881.9,774.31 C882.68,769.63 883.27,751.69 886.58,746.23 C889.89,740.77 895.35,742.92 901.78,741.55 C908.22,740.19 917.38,738.82 925.18,738.04 C932.97,737.26 940.96,737.46 948.57,736.87 C956.17,736.29 967.09,734.92 970.79,734.53" fill="none" stroke="#5f9c9c" stroke-width="1.3" />
<path d="M888.92,774.31 C889.5,770.99 888.33,758.71 892.43,754.42 C896.52,750.13 906.07,750.32 913.48,748.57 C920.89,746.82 927.32,745.45 936.87,743.89 C946.42,742.33 965.14,739.99 970.79,739.21" fill="none" stroke="#5f9c9c" stroke-width="1.3" />
<path d="M900.61,774.31 C901.39,772.75 903.34,768.26 905.29,764.95 C907.24,761.63 910.07,756.76 912.31,754.42 C914.55,752.08 916.6,751.2 918.74,750.91 C920.89,750.62 923.13,751.1 925.18,752.66 C927.22,754.22 929.27,756.66 931.02,760.27 C932.78,763.88 934.92,771.97 935.7,774.31" fill="none" stroke="#5f9c9c" stroke-width="1.3" />
<path d="M915.82,774.31 C916.79,772.75 919.33,764.95 921.67,764.95 C924.01,764.95 928.49,772.75 929.85,774.31" fill="none" stroke="#5f9c9c" stroke-width="1.3" />
<path d="M936.87,760.27 C939.8,760.07 948.76,760.66 954.42,759.1 C960.07,757.54 968.06,752.27 970.79,750.91" fill="none" stroke="#5f9c9c" stroke-width="1.3" />
<path d="M936.87,759.1 C937.26,757.73 936.29,753.05 939.21,750.91 C942.13,748.76 949.15,747.4 954.42,746.23 C959.68,745.06 968.06,744.28 970.79,743.89" fill="none" stroke="#5f9c9c" stroke-width="1.3" />
<path d="M857.34,760.27 L864.36,759.1" fill="none" stroke="#5f9c9c" stroke-width="1.3" />
<rect x="884.17" y="711.64" width="1" height="1" fill="#5f9c9c" opacity="0.45"/>
<rect x="898.68" y="714.57" width="1" height="1" fill="#5f9c9c" opacity="0.45"/>
<rect x="926.8" y="688.12" width="1" height="1" fill="#5f9c9c" opacity="0.45"/>
<rect x="859.46" y="726.05" width="1" height="1" fill="#5f9c9c" opacity="0.45"/>
<rect x="886.52" y="696.41" width="1" height="1" fill="#5f9c9c" opacity="0.45"/>
<rect x="967.47" y="708" width="1" height="1" fill="#5f9c9c" opacity="0.45"/>
<rect x="949.97" y="708.3" width="1" height="1" fill="#5f9c9c" opacity="0.45"/>
<rect x="928.27" y="692.3" width="1" height="1" fill="#5f9c9c" opacity="0.45"/>
<rect x="927.81" y="727.55" width="1" height="1" fill="#5f9c9c" opacity="0.45"/>
<rect x="915.53" y="721.32" width="1" height="1" fill="#5f9c9c" opacity="0.45"/>
<rect x="931.82" y="688.04" width="1" height="1" fill="#5f9c9c" opacity="0.45"/>
<rect x="941.37" y="713.94" width="1" height="1" fill="#5f9c9c" opacity="0.45"/>
<rect x="891.13" y="686.42" width="1" height="1" fill="#5f9c9c" opacity="0.45"/>
<rect x="953.17" y="708.13" width="1" height="1" fill="#5f9c9c" opacity="0.45"/>
<rect x="937.04" y="728.08" width="1" height="1" fill="#5f9c9c" opacity="0.45"/>
<rect x="936.52" y="730.15" width="1" height="1" fill="#5f9c9c" opacity="0.45"/>
<rect x="901.43" y="724.25" width="1" height="1" fill="#5f9c9c" opacity="0.45"/>
<rect x="906.89" y="730.87" width="1" height="1" fill="#5f9c9c" opacity="0.45"/>
<rect x="954.63" y="689.69" width="1" height="1" fill="#5f9c9c" opacity="0.45"/>
<rect x="872.96" y="695.56" width="1" height="1" fill="#5f9c9c" opacity="0.45"/>
<rect x="964.16" y="706.33" width="1" height="1" fill="#5f9c9c" opacity="0.45"/>
<rect x="926.9" y="699.69" width="1" height="1" fill="#5f9c9c" opacity="0.45"/>
<rect x="913.78" y="703.86" width="1" height="1" fill="#5f9c9c" opacity="0.45"/>
<rect x="896.59" y="713.64" width="1" height="1" fill="#5f9c9c" opacity="0.45"/>
<rect x="922.24" y="729.32" width="1" height="1" fill="#5f9c9c" opacity="0.45"/>
<rect x="932.99" y="730.54" width="1" height="1" fill="#5f9c9c" opacity="0.45"/>
<rect x="952.16" y="733.59" width="1" height="1" fill="#5f9c9c" opacity="0.45"/>
<rect x="931.81" y="692.91" width="1" height="1" fill="#5f9c9c" opacity="0.45"/>
<rect x="952.63" y="732.29" width="1" height="1" fill="#5f9c9c" opacity="0.45"/>
<rect x="957.47" y="712.86" width="1" height="1" fill="#5f9c9c" opacity="0.45"/>
<rect x="936.49" y="695.27" width="1" height="1" fill="#5f9c9c" opacity="0.45"/>
<rect x="949.44" y="713.08" width="1" height="1" fill="#5f9c9c" opacity="0.45"/>
<rect x="889.34" y="688.02" width="1" height="1" fill="#5f9c9c" opacity="0.45"/>
<rect x="951.89" y="733.53" width="1" height="1" fill="#5f9c9c" opacity="0.45"/>
<rect x="867.74" y="724.23" width="1" height="1" fill="#5f9c9c" opacity="0.45"/>
<rect x="903.14" y="692.31" width="1" height="1" fill="#5f9c9c" opacity="0.45"/>
<rect x="890.32" y="722.67" width="1" height="1" fill="#5f9c9c" opacity="0.45"/>
<rect x="953.96" y="687.07" width="1" height="1" fill="#5f9c9c" opacity="0.45"/>
<rect x="925.57" y="687.11" width="1" height="1" fill="#5f9c9c" opacity="0.45"/>
<rect x="937" y="701.16" width="1" height="1" fill="#5f9c9c" opacity="0.45"/>
<rect x="954.86" y="733.08" width="1" height="1" fill="#5f9c9c" opacity="0.45"/>
<rect x="913.58" y="733.96" width="1" height="1" fill="#5f9c9c" opacity="0.45"/>
<rect x="892.05" y="688.68" width="1" height="1" fill="#5f9c9c" opacity="0.45"/>
<rect x="923.95" y="686.44" width="1" height="1" fill="#5f9c9c" opacity="0.45"/>
<rect x="879.71" y="704.94" width="1" height="1" fill="#5f9c9c" opacity="0.45"/>
<rect x="925.12" y="692.57" width="1" height="1" fill="#5f9c9c" opacity="0.45"/>
<rect x="862.67" y="727.54" width="1" height="1" fill="#5f9c9c" opacity="0.45"/>
<rect x="892.51" y="732" width="1" height="1" fill="#5f9c9c" opacity="0.45"/>
<rect x="956.59" y="703.46" width="1" height="1" fill="#5f9c9c" opacity="0.45"/>
<rect x="908.63" y="710.45" width="1" height="1" fill="#5f9c9c" opacity="0.45"/>
<rect x="928.8" y="714.16" width="1" height="1" fill="#5f9c9c" opacity="0.45"/>
<rect x="919.49" y="715.37" width="1" height="1" fill="#5f9c9c" opacity="0.45"/>
<rect x="961.42" y="709.81" width="1" height="1" fill="#5f9c9c" opacity="0.45"/>
<rect x="905.41" y="720.29" width="1" height="1" fill="#5f9c9c" opacity="0.45"/>
<rect x="884.13" y="699.69" width="1" height="1" fill="#5f9c9c" opacity="0.45"/>
<rect x="965.51" y="710.5" width="1" height="1" fill="#5f9c9c" opacity="0.45"/>
<rect x="918.3" y="685.46" width="1" height="1" fill="#5f9c9c" opacity="0.45"/>
<rect x="903.66" y="713.39" width="1" height="1" fill="#5f9c9c" opacity="0.45"/>
<rect x="860.21" y="715.15" width="1" height="1" fill="#5f9c9c" opacity="0.45"/>
<rect x="927.51" y="687.85" width="1" height="1" fill="#5f9c9c" opacity="0.45"/>
<rect x="926.98" y="707.81" width="1" height="1" fill="#5f9c9c" opacity="0.45"/>
<rect x="932.69" y="702.22" width="1" height="1" fill="#5f9c9c" opacity="0.45"/>
<rect x="935.73" y="721.16" width="1" height="1" fill="#5f9c9c" opacity="0.45"/>
<rect x="860.45" y="687.87" width="1" height="1" fill="#5f9c9c" opacity="0.45"/>
<rect x="932.33" y="732.23" width="1" height="1" fill="#5f9c9c" opacity="0.45"/>
<rect x="885.62" y="707.32" width="1" height="1" fill="#5f9c9c" opacity="0.45"/>
<rect x="923.17" y="700.62" width="1" height="1" fill="#5f9c9c" opacity="0.45"/>
<rect x="898.02" y="700.26" width="1" height="1" fill="#5f9c9c" opacity="0.45"/>
<rect x="898.59" y="714.16" width="1" height="1" fill="#5f9c9c" opacity="0.45"/>
<rect x="891.04" y="703.43" width="1" height="1" fill="#5f9c9c" opacity="0.45"/>
<rect x="942.91" y="686.22" width="1" height="1" fill="#5f9c9c" opacity="0.45"/>
<rect x="920.59" y="721.02" width="1" height="1" fill="#5f9c9c" opacity="0.45"/>
<rect x="892.09" y="695.83" width="1" height="1" fill="#5f9c9c" opacity="0.45"/>
<rect x="946.38" y="696.63" width="1" height="1" fill="#5f9c9c" opacity="0.45"/>
<rect x="878.61" y="706.28" width="1" height="1" fill="#5f9c9c" opacity="0.45"/>
<rect x="934.76" y="689.9" width="1" height="1" fill="#5f9c9c" opacity="0.45"/>
<rect x="893.41" y="701.3" width="1" height="1" fill="#5f9c9c" opacity="0.45"/>
<rect x="949.65" y="706.44" width="1" height="1" fill="#5f9c9c" opacity="0.45"/>
<rect x="952.07" y="693.21" width="1" height="1" fill="#5f9c9c" opacity="0.45"/>
<rect x="895.03" y="716.85" width="1" height="1" fill="#5f9c9c" opacity="0.45"/>
<rect x="955.3" y="707.06" width="1" height="1" fill="#5f9c9c" opacity="0.45"/>
<rect x="882.75" y="690.84" width="1" height="1" fill="#5f9c9c" opacity="0.45"/>
<rect x="916.24" y="694.27" width="1" height="1" fill="#5f9c9c" opacity="0.45"/>
<rect x="946.71" y="726.1" width="1" height="1" fill="#5f9c9c" opacity="0.45"/>
<rect x="878.19" y="698.59" width="1" height="1" fill="#5f9c9c" opacity="0.45"/>
<rect x="946.76" y="716.44" width="1" height="1" fill="#5f9c9c" opacity="0.45"/>
<rect x="946.65" y="701.86" width="1" height="1" fill="#5f9c9c" opacity="0.45"/>
<rect x="872.27" y="699.24" width="1" height="1" fill="#5f9c9c" opacity="0.45"/>
<rect x="945.29" y="698.22" width="1" height="1" fill="#5f9c9c" opacity="0.45"/>
<rect x="896.09" y="705.38" width="1" height="1" fill="#5f9c9c" opacity="0.45"/>
<rect x="904.16" y="705.02" width="1" height="1" fill="#5f9c9c" opacity="0.45"/>
<rect x="959.22" y="692.56" width="1" height="1" fill="#5f9c9c" opacity="0.45"/>
<rect x="858.52" y="731.24" width="1" height="1" fill="#5f9c9c" opacity="0.45"/>
<rect x="954.75" y="733.39" width="1" height="1" fill="#5f9c9c" opacity="0.45"/>
<rect x="905.76" y="731.58" width="1" height="1" fill="#5f9c9c" opacity="0.45"/>
<rect x="959.97" y="695.81" width="1" height="1" fill="#5f9c9c" opacity="0.45"/>
<rect x="939.97" y="726.01" width="1" height="1" fill="#5f9c9c" opacity="0.45"/>
<rect x="930.9" y="710.4" width="1" height="1" fill="#5f9c9c" opacity="0.45"/>
<rect x="889.79" y="701.66" width="1" height="1" fill="#5f9c9c" opacity="0.45"/>
<rect x="883.02" y="688.24" width="1" height="1" fill="#5f9c9c" opacity="0.45"/>
<rect x="922.73" y="699" width="1" height="1" fill="#5f9c9c" opacity="0.45"/>
<rect x="947.08" y="687.11" width="1" height="1" fill="#5f9c9c" opacity="0.45"/>
<rect x="957.35" y="718.98" width="1" height="1" fill="#5f9c9c" opacity="0.45"/>
<rect x="959.58" y="728.95" width="1" height="1" fill="#5f9c9c" opacity="0.45"/>
<rect x="956.92" y="713.25" width="1" height="1" fill="#5f9c9c" opacity="0.45"/>
<rect x="859.45" y="721.52" width="1" height="1" fill="#5f9c9c" opacity="0.45"/>
<rect x="876.9" y="699.63" width="1" height="1" fill="#5f9c9c" opacity="0.45"/>
<rect x="930.89" y="710.69" width="1" height="1" fill="#5f9c9c" opacity="0.45"/>
<rect x="903.5" y="731.04" width="1" height="1" fill="#5f9c9c" opacity="0.45"/>
<rect x="925.31" y="701.67" width="1" height="1" fill="#5f9c9c" opacity="0.45"/>
<rect x="885.77" y="727.23" width="1" height="1" fill="#5f9c9c" opacity="0.45"/>
<rect x="910.47" y="723.34" width="1" height="1" fill="#5f9c9c" opacity="0.45"/>
<rect x="896.69" y="694.59" width="1" height="1" fill="#5f9c9c" opacity="0.45"/>
<rect x="916.79" y="725.03" width="1" height="1" fill="#5f9c9c" opacity="0.45"/>
<rect x="876.84" y="723.8" width="1" height="1" fill="#5f9c9c" opacity="0.45"/>
<rect x="959.35" y="724.5" width="1" height="1" fill="#5f9c9c" opacity="0.45"/>
<rect x="948.55" y="685.27" width="1" height="1" fill="#5f9c9c" opacity="0.45"/>
<rect x="927.12" y="727.28" width="1" height="1" fill="#5f9c9c" opacity="0.45"/>
<rect x="863.5" y="698.23" width="1" height="1" fill="#5f9c9c" opacity="0.45"/>
<rect x="887.54" y="710.8" width="1" height="1" fill="#5f9c9c" opacity="0.45"/>
<rect x="904.51" y="708.13" width="1" height="1" fill="#5f9c9c" opacity="0.45"/>
<rect x="943.38" y="684.99" width="1" height="1" fill="#5f9c9c" opacity="0.45"/>
<rect x="864.04" y="691.13" width="1" height="1" fill="#5f9c9c" opacity="0.45"/>
<rect x="871.71" y="688.26" width="1" height="1" fill="#5f9c9c" opacity="0.45"/>
<rect x="965.17" y="726.88" width="1" height="1" fill="#5f9c9c" opacity="0.45"/>
<rect x="867.48" y="709.57" width="1" height="1" fill="#5f9c9c" opacity="0.45"/>
<rect x="892.74" y="700.35" width="1" height="1" fill="#5f9c9c" opacity="0.45"/>
<rect x="896.63" y="716.68" width="1" height="1" fill="#5f9c9c" opacity="0.45"/>
<rect x="922.5" y="702.63" width="1" height="1" fill="#5f9c9c" opacity="0.45"/>
<rect x="879.02" y="701.05" width="1" height="1" fill="#5f9c9c" opacity="0.45"/>
<rect x="871.61" y="712.19" width="1" height="1" fill="#5f9c9c" opacity="0.45"/>
<rect x="936.73" y="703.58" width="1" height="1" fill="#5f9c9c" opacity="0.45"/>
<rect x="866.79" y="693.67" width="1" height="1" fill="#5f9c9c" opacity="0.45"/>
<rect x="899.05" y="714.6" width="1" height="1" fill="#5f9c9c" opacity="0.45"/>
<rect x="944.05" y="703.58" width="1" height="1" fill="#5f9c9c" opacity="0.45"/>
<rect x="946.09" y="715.5" width="1" height="1" fill="#5f9c9c" opacity="0.45"/>
<rect x="905.46" y="703.2" width="1" height="1" fill="#5f9c9c" opacity="0.45"/>
<rect x="912.56" y="719.43" width="1" height="1" fill="#5f9c9c" opacity="0.45"/>
<rect x="904.24" y="719" width="1" height="1" fill="#5f9c9c" opacity="0.45"/>
<rect x="908.67" y="696.94" width="1" height="1" fill="#5f9c9c" opacity="0.45"/>
<rect x="916.92" y="719.05" width="1" height="1" fill="#5f9c9c" opacity="0.45"/>
<rect x="865.88" y="705.77" width="1" height="1" fill="#5f9c9c" opacity="0.45"/>
<rect x="904.83" y="728.12" width="1" height="1" fill="#5f9c9c" opacity="0.45"/>
<rect x="960.97" y="703.29" width="1" height="1" fill="#5f9c9c" opacity="0.45"/>
<rect x="956.72" y="723.76" width="1" height="1" fill="#5f9c9c" opacity="0.45"/>
<rect x="886.83" y="707.7" width="1" height="1" fill="#5f9c9c" opacity="0.45"/>
<rect x="871.55" y="724.85" width="1" height="1" fill="#5f9c9c" opacity="0.45"/>
<rect x="930.82" y="728.5" width="1" height="1" fill="#5f9c9c" opacity="0.45"/>
<rect x="945.13" y="717.7" width="1" height="1" fill="#5f9c9c" opacity="0.45"/>
<rect x="938.68" y="712.6" width="1" height="1" fill="#5f9c9c" opacity="0.45"/>
<rect x="869.35" y="713.78" width="1" height="1" fill="#5f9c9c" opacity="0.45"/>
<rect x="858.55" y="691.95" width="1" height="1" fill="#5f9c9c" opacity="0.45"/>
<rect x="943.14" y="687.07" width="1" height="1" fill="#5f9c9c" opacity="0.45"/>
<rect x="868.1" y="689.78" width="1" height="1" fill="#5f9c9c" opacity="0.45"/>
<rect x="954.81" y="693.7" width="1" height="1" fill="#5f9c9c" opacity="0.45"/>
<rect x="860.59" y="726.25" width="1" height="1" fill="#5f9c9c" opacity="0.45"/>
<rect x="871.34" y="726.36" width="1" height="1" fill="#5f9c9c" opacity="0.45"/>
<rect x="932.06" y="725.98" width="1" height="1" fill="#5f9c9c" opacity="0.45"/>
<rect x="962.72" y="713.35" width="1" height="1" fill="#5f9c9c" opacity="0.45"/>
<rect x="945.82" y="686.68" width="1" height="1" fill="#5f9c9c" opacity="0.45"/>
<rect x="942.38" y="710.02" width="1" height="1" fill="#5f9c9c" opacity="0.45"/>
<rect x="936.63" y="690.14" width="1" height="1" fill="#5f9c9c" opacity="0.45"/>
<rect x="940.35" y="730.82" width="1" height="1" fill="#5f9c9c" opacity="0.45"/>
<rect x="864.73" y="700.83" width="1" height="1" fill="#5f9c9c" opacity="0.45"/>
<rect x="920.01" y="725.58" width="1" height="1" fill="#5f9c9c" opacity="0.45"/>
<rect x="884.63" y="693.73" width="1" height="1" fill="#5f9c9c" opacity="0.45"/>
<rect x="885.49" y="715.16" width="1" height="1" fill="#5f9c9c" opacity="0.45"/>
<rect x="940.85" y="704.24" width="1" height="1" fill="#5f9c9c" opacity="0.45"/>
<rect x="898.41" y="704.39" width="1" height="1" fill="#5f9c9c" opacity="0.45"/>
<rect x="896.52" y="705.45" width="1" height="1" fill="#5f9c9c" opacity="0.45"/>
<rect x="867.16" y="709.48" width="1" height="1" fill="#5f9c9c" opacity="0.45"/>
<rect x="964.99" y="705.18" width="1" height="1" fill="#5f9c9c" opacity="0.45"/>
<rect x="940.18" y="692.79" width="1" height="1" fill="#5f9c9c" opacity="0.45"/>
<rect x="933.96" y="722.05" width="1" height="1" fill="#5f9c9c" opacity="0.45"/>
<rect x="932.09" y="710.3" width="1" height="1" fill="#5f9c9c" opacity="0.45"/>
<rect x="911.19" y="716.49" width="1" height="1" fill="#5f9c9c" opacity="0.45"/>
<rect x="956.67" y="692.23" width="1" height="1" fill="#5f9c9c" opacity="0.45"/>
<rect x="868.55" y="721.66" width="1" height="1" fill="#5f9c9c" opacity="0.45"/>
<rect x="958.78" y="710.31" width="1" height="1" fill="#5f9c9c" opacity="0.45"/>
<rect x="906.72" y="720.22" width="1" height="1" fill="#5f9c9c" opacity="0.45"/>
<rect x="878.47" y="698.03" width="1" height="1" fill="#5f9c9c" opacity="0.45"/>
<rect x="879.91" y="713.67" width="1" height="1" fill="#5f9c9c" opacity="0.45"/>
<rect x="892.62" y="696.31" width="1" height="1" fill="#5f9c9c" opacity="0.45"/>
<rect x="933.99" y="731.74" width="1" height="1" fill="#5f9c9c" opacity="0.45"/>
<rect x="890.54" y="719.55" width="1" height="1" fill="#5f9c9c" opacity="0.45"/>
<rect x="903.44" y="726.84" width="1" height="1" fill="#5f9c9c" opacity="0.45"/>
<rect x="922.29" y="698.02" width="1" height="1" fill="#5f9c9c" opacity="0.45"/>
<rect x="881.93" y="686.03" width="1" height="1" fill="#5f9c9c" opacity="0.45"/>
<rect x="910.72" y="703.7" width="1" height="1" fill="#5f9c9c" opacity="0.45"/>
<rect x="876.95" y="702.61" width="1" height="1" fill="#5f9c9c" opacity="0.45"/>
<rect x="893.41" y="722.94" width="1" height="1" fill="#5f9c9c" opacity="0.45"/>
<rect x="873.8" y="733.6" width="1" height="1" fill="#5f9c9c" opacity="0.45"/>
<rect x="910.74" y="714.33" width="1" height="1" fill="#5f9c9c" opacity="0.45"/>
<rect x="909.47" y="725.91" width="1" height="1" fill="#5f9c9c" opacity="0.45"/>
<rect x="948.34" y="712.27" width="1" height="1" fill="#5f9c9c" opacity="0.45"/>
<rect x="910.92" y="720.31" width="1" height="1" fill="#5f9c9c" opacity="0.45"/>
<rect x="952.19" y="704.56" width="1" height="1" fill="#5f9c9c" opacity="0.45"/>
<rect x="938.66" y="732.08" width="1" height="1" fill="#5f9c9c" opacity="0.45"/>
<rect x="909.39" y="696.18" width="1" height="1" fill="#5f9c9c" opacity="0.45"/>
<rect x="883.82" y="720.16" width="1" height="1" fill="#5f9c9c" opacity="0.45"/>
<rect x="932.26" y="732" width="1" height="1" fill="#5f9c9c" opacity="0.45"/>
<rect x="951.89" y="696.79" width="1" height="1" fill="#5f9c9c" opacity="0.45"/>
<rect x="878.86" y="697.6" width="1" height="1" fill="#5f9c9c" opacity="0.45"/>
<rect x="878.59" y="719.52" width="1" height="1" fill="#5f9c9c" opacity="0.45"/>
<rect x="952.4" y="729.11" width="1" height="1" fill="#5f9c9c" opacity="0.45"/>
<rect x="886.04" y="727.4" width="1" height="1" fill="#5f9c9c" opacity="0.45"/>
<rect x="892.47" y="705.7" width="1" height="1" fill="#5f9c9c" opacity="0.45"/>
<rect x="938.15" y="689.12" width="1" height="1" fill="#5f9c9c" opacity="0.45"/>
<rect x="868.19" y="725.87" width="1" height="1" fill="#5f9c9c" opacity="0.45"/>
<rect x="890.09" y="702.42" width="1" height="1" fill="#5f9c9c" opacity="0.45"/>
<rect x="921.81" y="718.09" width="1" height="1" fill="#5f9c9c" opacity="0.45"/>
<rect x="858.77" y="701.35" width="1" height="1" fill="#5f9c9c" opacity="0.45"/>
<rect x="905.97" y="708.77" width="1" height="1" fill="#5f9c9c" opacity="0.45"/>
<rect x="881.11" y="713.65" width="1" height="1" fill="#5f9c9c" opacity="0.45"/>
<rect x="963.04" y="704.1" width="1" height="1" fill="#5f9c9c" opacity="0.45"/>
<rect x="917.86" y="690.75" width="1" height="1" fill="#5f9c9c" opacity="0.45"/>
<rect x="888.22" y="717.59" width="1" height="1" fill="#5f9c9c" opacity="0.45"/>
<rect x="870.38" y="728.49" width="1" height="1" fill="#5f9c9c" opacity="0.45"/>
<rect x="957.92" y="689.66" width="1" height="1" fill="#5f9c9c" opacity="0.45"/>
<rect x="961.5" y="703.28" width="1" height="1" fill="#5f9c9c" opacity="0.45"/>
<rect x="942.93" y="722.11" width="1" height="1" fill="#5f9c9c" opacity="0.45"/>
<rect x="890.5" y="718.11" width="1" height="1" fill="#5f9c9c" opacity="0.45"/>
<rect x="929.92" y="724.5" width="1" height="1" fill="#5f9c9c" opacity="0.45"/>
<rect x="887.21" y="721.95" width="1" height="1" fill="#5f9c9c" opacity="0.45"/>
<rect x="963.7" y="717.96" width="1" height="1" fill="#5f9c9c" opacity="0.45"/>
<rect x="916.96" y="690.46" width="1" height="1" fill="#5f9c9c" opacity="0.45"/>
<rect x="912.31" y="702.2" width="1" height="1" fill="#5f9c9c" opacity="0.45"/>
<rect x="936.96" y="718.24" width="1" height="1" fill="#5f9c9c" opacity="0.45"/>
<rect x="920.28" y="693.84" width="1" height="1" fill="#5f9c9c" opacity="0.45"/>
<rect x="928.99" y="715.9" width="1" height="1" fill="#5f9c9c" opacity="0.45"/>
<rect x="877.7" y="728.62" width="1" height="1" fill="#5f9c9c" opacity="0.45"/>
<rect x="930.06" y="690.95" width="1" height="1" fill="#5f9c9c" opacity="0.45"/>
<rect x="960.46" y="691.84" width="1" height="1" fill="#5f9c9c" opacity="0.45"/>
<rect x="894.46" y="720.3" width="1" height="1" fill="#5f9c9c" opacity="0.45"/>
<rect x="923.69" y="712.16" width="1" height="1" fill="#5f9c9c" opacity="0.45"/>
<rect x="929.19" y="707.39" width="1" height="1" fill="#5f9c9c" opacity="0.45"/>
<rect x="892.36" y="693.56" width="1" height="1" fill="#5f9c9c" opacity="0.45"/>
<rect x="865.55" y="720.07" width="1" height="1" fill="#5f9c9c" opacity="0.45"/>
<rect x="940.96" y="711.58" width="1" height="1" fill="#5f9c9c" opacity="0.45"/>
<rect x="939.33" y="702.55" width="1" height="1" fill="#5f9c9c" opacity="0.45"/>
<rect x="887.24" y="703.73" width="1" height="1" fill="#5f9c9c" opacity="0.45"/>
<rect x="953.94" y="686.97" width="1" height="1" fill="#5f9c9c" opacity="0.45"/>
<rect x="913.5" y="697.04" width="1" height="1" fill="#5f9c9c" opacity="0.45"/>
<rect x="942.54" y="702.3" width="1" height="1" fill="#5f9c9c" opacity="0.45"/>
<rect x="894.6" y="704.72" width="1" height="1" fill="#5f9c9c" opacity="0.45"/>
<rect x="917.54" y="722.81" width="1" height="1" fill="#5f9c9c" opacity="0.45"/>
<rect x="896.81" y="726.51" width="1" height="1" fill="#5f9c9c" opacity="0.45"/>
<rect x="870.34" y="698.19" width="1" height="1" fill="#5f9c9c" opacity="0.45"/>
<rect x="868.96" y="690.43" width="1" height="1" fill="#5f9c9c" opacity="0.45"/>
<rect x="943.65" y="720.63" width="1" height="1" fill="#5f9c9c" opacity="0.45"/>
<rect x="878.33" y="694.19" width="1" height="1" fill="#5f9c9c" opacity="0.45"/>
<rect x="903.82" y="721.42" width="1" height="1" fill="#5f9c9c" opacity="0.45"/>
<rect x="947.69" y="721.68" width="1" height="1" fill="#5f9c9c" opacity="0.45"/>
<rect x="923.08" y="692.09" width="1" height="1" fill="#5f9c9c" opacity="0.45"/>
<rect x="901.81" y="694.41" width="1" height="1" fill="#5f9c9c" opacity="0.45"/>
<rect x="916.01" y="712.82" width="1" height="1" fill="#5f9c9c" opacity="0.45"/>
<rect x="880.23" y="697.19" width="1" height="1" fill="#5f9c9c" opacity="0.45"/>
<rect x="943.95" y="686.38" width="1" height="1" fill="#5f9c9c" opacity="0.45"/>
<rect x="946.31" y="728.69" width="1" height="1" fill="#5f9c9c" opacity="0.45"/>
<rect x="962.38" y="703.72" width="1" height="1" fill="#5f9c9c" opacity="0.45"/>
<rect x="918.76" y="713.55" width="1" height="1" fill="#5f9c9c" opacity="0.45"/>
<rect x="927.67" y="732.9" width="1" height="1" fill="#5f9c9c" opacity="0.45"/>
<rect x="933.5" y="699.61" width="1" height="1" fill="#5f9c9c" opacity="0.45"/>
<rect x="952.56" y="708.68" width="1" height="1" fill="#5f9c9c" opacity="0.45"/>
<rect x="924.12" y="720.61" width="1" height="1" fill="#5f9c9c" opacity="0.45"/>
<rect x="858.27" y="722.75" width="1" height="1" fill="#5f9c9c" opacity="0.45"/>
<rect x="930.78" y="709.07" width="1" height="1" fill="#5f9c9c" opacity="0.45"/>
<rect x="915.58" y="707.53" width="1" height="1" fill="#5f9c9c" opacity="0.45"/>
<rect x="879.28" y="710.92" width="1" height="1" fill="#5f9c9c" opacity="0.45"/>
<rect x="862.08" y="709.49" width="1" height="1" fill="#5f9c9c" opacity="0.45"/>
<rect x="929.03" y="706.72" width="1" height="1" fill="#5f9c9c" opacity="0.45"/>
<rect x="920.24" y="732.02" width="1" height="1" fill="#5f9c9c" opacity="0.45"/>
<rect x="956.08" y="691.56" width="1" height="1" fill="#5f9c9c" opacity="0.45"/>
<rect x="945.12" y="715.52" width="1" height="1" fill="#5f9c9c" opacity="0.45"/>
<rect x="863.57" y="702.58" width="1" height="1" fill="#5f9c9c" opacity="0.45"/>
<rect x="883.67" y="688.72" width="1" height="1" fill="#5f9c9c" opacity="0.45"/>
<rect x="917.25" y="730.58" width="1" height="1" fill="#5f9c9c" opacity="0.45"/>
<rect x="893.53" y="727.67" width="1" height="1" fill="#5f9c9c" opacity="0.45"/>
<rect x="934.38" y="691.5" width="1" height="1" fill="#5f9c9c" opacity="0.45"/>
<rect x="952.37" y="714.43" width="1" height="1" fill="#5f9c9c" opacity="0.45"/>
<rect x="959.92" y="720.08" width="1" height="1" fill="#5f9c9c" opacity="0.45"/>
<rect x="939.33" y="701.78" width="1" height="1" fill="#5f9c9c" opacity="0.45"/>
<rect x="946.7" y="730.68" width="1" height="1" fill="#5f9c9c" opacity="0.45"/>
<rect x="952.72" y="706.37" width="1" height="1" fill="#5f9c9c" opacity="0.45"/>
<rect x="941.22" y="708.73" width="1" height="1" fill="#5f9c9c" opacity="0.45"/>
<rect x="870.01" y="687" width="1" height="1" fill="#5f9c9c" opacity="0.45"/>
<rect x="866.58" y="694.74" width="1" height="1" fill="#5f9c9c" opacity="0.45"/>
<rect x="875.69" y="709.32" width="1" height="1" fill="#5f9c9c" opacity="0.45"/>
<rect x="934.89" y="711.3" width="1" height="1" fill="#5f9c9c" opacity="0.45"/>
<rect x="904.42" y="716.8" width="1" height="1" fill="#5f9c9c" opacity="0.45"/>
<rect x="891.5" y="707.72" width="1" height="1" fill="#5f9c9c" opacity="0.45"/>
<rect x="941.25" y="704.62" width="1" height="1" fill="#5f9c9c" opacity="0.45"/>
<rect x="877.86" y="729.09" width="1" height="1" fill="#5f9c9c" opacity="0.45"/>
<rect x="937.13" y="702.93" width="1" height="1" fill="#5f9c9c" opacity="0.45"/>
<rect x="898.79" y="710.91" width="1" height="1" fill="#5f9c9c" opacity="0.45"/>
<rect x="923.59" y="695.9" width="1" height="1" fill="#5f9c9c" opacity="0.45"/>
<rect x="858.31" y="695.17" width="1" height="1" fill="#5f9c9c" opacity="0.45"/>
<rect x="944.11" y="691.95" width="1" height="1" fill="#5f9c9c" opacity="0.45"/>
<rect x="908.58" y="694.49" width="1" height="1" fill="#5f9c9c" opacity="0.45"/>
<rect x="881.02" y="693.29" width="1" height="1" fill="#5f9c9c" opacity="0.45"/>
<rect x="902.4" y="693.17" width="1" height="1" fill="#5f9c9c" opacity="0.45"/>
<rect x="861.03" y="690.31" width="1" height="1" fill="#5f9c9c" opacity="0.45"/>
<rect x="876.5" y="708.99" width="1" height="1" fill="#5f9c9c" opacity="0.45"/>
<rect x="864.57" y="686" width="1" height="1" fill="#5f9c9c" opacity="0.45"/>
<rect x="907.27" y="704.93" width="1" height="1" fill="#5f9c9c" opacity="0.45"/>
<rect x="935.35" y="687.41" width="1" height="1" fill="#5f9c9c" opacity="0.45"/>
<rect x="902.35" y="704.38" width="1" height="1" fill="#5f9c9c" opacity="0.45"/>
<rect x="860.94" y="732.34" width="1" height="1" fill="#5f9c9c" opacity="0.45"/>
<rect x="882.08" y="689.53" width="1" height="1" fill="#5f9c9c" opacity="0.45"/>
<rect x="910.19" y="692.99" width="1" height="1" fill="#5f9c9c" opacity="0.45"/>
<rect x="926.44" y="701.92" width="1" height="1" fill="#5f9c9c" opacity="0.45"/>
<rect x="871.64" y="687.45" width="1" height="1" fill="#5f9c9c" opacity="0.45"/>
<rect x="938.01" y="698.41" width="1" height="1" fill="#5f9c9c" opacity="0.45"/>
<rect x="944.63" y="707.76" width="1" height="1" fill="#5f9c9c" opacity="0.45"/>
<rect x="960.58" y="699.66" width="1" height="1" fill="#5f9c9c" opacity="0.45"/>
<rect x="885.49" y="697.96" width="1" height="1" fill="#5f9c9c" opacity="0.45"/>
<rect x="947.57" y="715.81" width="1" height="1" fill="#5f9c9c" opacity="0.45"/>
<rect x="895.91" y="689.5" width="1" height="1" fill="#5f9c9c" opacity="0.45"/>
<rect x="933.03" y="732.52" width="1" height="1" fill="#5f9c9c" opacity="0.45"/>
<rect x="923.12" y="685.08" width="1" height="1" fill="#5f9c9c" opacity="0.45"/>
<rect x="861.34" y="689.35" width="1" height="1" fill="#5f9c9c" opacity="0.45"/>
<rect x="876.74" y="686.7" width="1" height="1" fill="#5f9c9c" opacity="0.45"/>
<rect x="863.94" y="717.05" width="1" height="1" fill="#5f9c9c" opacity="0.45"/>
<rect x="956.99" y="694.76" width="1" height="1" fill="#5f9c9c" opacity="0.45"/>
<rect x="965.08" y="708.33" width="1" height="1" fill="#5f9c9c" opacity="0.45"/>
<rect x="946.36" y="729.97" width="1" height="1" fill="#5f9c9c" opacity="0.45"/>
<rect x="961.36" y="686.58" width="1" height="1" fill="#5f9c9c" opacity="0.45"/>
<rect x="891.51" y="714.72" width="1" height="1" fill="#5f9c9c" opacity="0.45"/>
<rect x="962.07" y="689.21" width="1" height="1" fill="#5f9c9c" opacity="0.45"/>
<rect x="890.27" y="726.66" width="1" height="1" fill="#5f9c9c" opacity="0.45"/>
<rect x="870.62" y="704.05" width="1" height="1" fill="#5f9c9c" opacity="0.45"/>
<rect x="894.75" y="718.31" width="1" height="1" fill="#5f9c9c" opacity="0.45"/>
<rect x="960.09" y="693.48" width="1" height="1" fill="#5f9c9c" opacity="0.45"/>
<rect x="939.34" y="720.96" width="1" height="1" fill="#5f9c9c" opacity="0.45"/>
<rect x="949.88" y="712.09" width="1" height="1" fill="#5f9c9c" opacity="0.45"/>
<rect x="959.54" y="702.72" width="1" height="1" fill="#5f9c9c" opacity="0.45"/>
<rect x="903.6" y="696.17" width="1" height="1" fill="#5f9c9c" opacity="0.45"/>
<rect x="943.7" y="708.51" width="1" height="1" fill="#5f9c9c" opacity="0.45"/>
<rect x="887.63" y="693.24" width="1" height="1" fill="#5f9c9c" opacity="0.45"/>
<rect x="937.24" y="714.66" width="1" height="1" fill="#5f9c9c" opacity="0.45"/>
<rect x="936.14" y="703.9" width="1" height="1" fill="#5f9c9c" opacity="0.45"/>
<rect x="911.56" y="692.46" width="1" height="1" fill="#5f9c9c" opacity="0.45"/>
<rect x="936.14" y="686.03" width="1" height="1" fill="#5f9c9c" opacity="0.45"/>
<rect x="909.34" y="722.16" width="1" height="1" fill="#5f9c9c" opacity="0.45"/>
<rect x="932.48" y="689.67" width="1" height="1" fill="#5f9c9c" opacity="0.45"/>
<rect x="884.08" y="726.35" width="1" height="1" fill="#5f9c9c" opacity="0.45"/>
<rect x="928.63" y="728.06" width="1" height="1" fill="#5f9c9c" opacity="0.45"/>
<rect x="953.91" y="707" width="1" height="1" fill="#5f9c9c" opacity="0.45"/>
<rect x="956.61" y="720.91" width="1" height="1" fill="#5f9c9c" opacity="0.45"/>
<rect x="894.7" y="703.08" width="1" height="1" fill="#5f9c9c" opacity="0.45"/>
<rect x="865.93" y="704.52" width="1" height="1" fill="#5f9c9c" opacity="0.45"/>
<rect x="963.08" y="690.06" width="1" height="1" fill="#5f9c9c" opacity="0.45"/>
<rect x="920.55" y="690.31" width="1" height="1" fill="#5f9c9c" opacity="0.45"/>
<rect x="866.9" y="716.79" width="1" height="1" fill="#5f9c9c" opacity="0.45"/>
<rect x="884.47" y="687.3" width="1" height="1" fill="#5f9c9c" opacity="0.45"/>
<rect x="874.79" y="716.57" width="1" height="1" fill="#5f9c9c" opacity="0.45"/>
<rect x="922.39" y="685.47" width="1" height="1" fill="#5f9c9c" opacity="0.45"/>
<rect x="883.29" y="732.42" width="1" height="1" fill="#5f9c9c" opacity="0.45"/>
<rect x="882.2" y="712.53" width="1" height="1" fill="#5f9c9c" opacity="0.45"/>
<rect x="904.14" y="723.28" width="1" height="1" fill="#5f9c9c" opacity="0.45"/>
<rect x="924.45" y="723.65" width="1" height="1" fill="#5f9c9c" opacity="0.45"/>
<rect x="916.85" y="694.14" width="1" height="1" fill="#5f9c9c" opacity="0.45"/>
<rect x="877.54" y="688.79" width="1" height="1" fill="#5f9c9c" opacity="0.45"/>
<rect x="948.77" y="690.43" width="1" height="1" fill="#5f9c9c" opacity="0.45"/>
<rect x="860.65" y="732.38" width="1" height="1" fill="#5f9c9c" opacity="0.45"/>
<rect x="879.92" y="728.79" width="1" height="1" fill="#5f9c9c" opacity="0.45"/>
<rect x="867.44" y="707.76" width="1" height="1" fill="#5f9c9c" opacity="0.45"/>
<rect x="882.5" y="725.65" width="1" height="1" fill="#5f9c9c" opacity="0.45"/>
<rect x="925.67" y="716.43" width="1" height="1" fill="#5f9c9c" opacity="0.45"/>
<rect x="941.72" y="727.73" width="1" height="1" fill="#5f9c9c" opacity="0.45"/>
<rect x="896.05" y="714.53" width="1" height="1" fill="#5f9c9c" opacity="0.45"/>
<rect x="907" y="690.35" width="1" height="1" fill="#5f9c9c" opacity="0.45"/>
<rect x="949.85" y="714.1" width="1" height="1" fill="#5f9c9c" opacity="0.45"/>
<rect x="947.59" y="695.02" width="1" height="1" fill="#5f9c9c" opacity="0.45"/>
<rect x="917.29" y="707.7" width="1" height="1" fill="#5f9c9c" opacity="0.45"/>
<rect x="938.05" y="688.69" width="1" height="1" fill="#5f9c9c" opacity="0.45"/>
<rect x="896.06" y="708.7" width="1" height="1" fill="#5f9c9c" opacity="0.45"/>
<rect x="865.87" y="712.05" width="1" height="1" fill="#5f9c9c" opacity="0.45"/>
<rect x="938.85" y="705.67" width="1" height="1" fill="#5f9c9c" opacity="0.45"/>
<rect x="929.3" y="714.67" width="1" height="1" fill="#5f9c9c" opacity="0.45"/>
<rect x="881.55" y="702.12" width="1" height="1" fill="#5f9c9c" opacity="0.45"/>
<rect x="967.48" y="701.37" width="1" height="1" fill="#5f9c9c" opacity="0.45"/>
<rect x="905.37" y="689.03" width="1" height="1" fill="#5f9c9c" opacity="0.45"/>
<rect x="881.96" y="693.02" width="1" height="1" fill="#5f9c9c" opacity="0.45"/>
<rect x="960.36" y="720.59" width="1" height="1" fill="#5f9c9c" opacity="0.45"/>
<rect x="954.18" y="733.37" width="1" height="1" fill="#5f9c9c" opacity="0.45"/>
<rect x="925.31" y="730.66" width="1" height="1" fill="#5f9c9c" opacity="0.45"/>
<rect x="916.91" y="705.47" width="1" height="1" fill="#5f9c9c" opacity="0.45"/>
<rect x="962.24" y="729.27" width="1" height="1" fill="#5f9c9c" opacity="0.45"/>
<rect x="962.41" y="708.69" width="1" height="1" fill="#5f9c9c" opacity="0.45"/>
<rect x="943.04" y="704.89" width="1" height="1" fill="#5f9c9c" opacity="0.45"/>
<rect x="967.65" y="730.12" width="1" height="1" fill="#5f9c9c" opacity="0.45"/>
<rect x="890.12" y="730.8" width="1" height="1" fill="#5f9c9c" opacity="0.45"/>
<rect x="878.3" y="689.61" width="1" height="1" fill="#5f9c9c" opacity="0.45"/>
<rect x="937.43" y="699.36" width="1" height="1" fill="#5f9c9c" opacity="0.45"/>
<rect x="915.12" y="716.31" width="1" height="1" fill="#5f9c9c" opacity="0.45"/>
<rect x="862.47" y="721.51" width="1" height="1" fill="#5f9c9c" opacity="0.45"/>
<rect x="888.35" y="706.14" width="1" height="1" fill="#5f9c9c" opacity="0.45"/>
<rect x="895.92" y="721.36" width="1" height="1" fill="#5f9c9c" opacity="0.45"/>
<rect x="940.11" y="699.01" width="1" height="1" fill="#5f9c9c" opacity="0.45"/>
<rect x="869.37" y="699.6" width="1" height="1" fill="#5f9c9c" opacity="0.45"/>
<rect x="903.2" y="688.71" width="1" height="1" fill="#5f9c9c" opacity="0.45"/>
<rect x="874.85" y="722.37" width="1" height="1" fill="#5f9c9c" opacity="0.45"/>
<rect x="935.01" y="732.87" width="1" height="1" fill="#5f9c9c" opacity="0.45"/>
<rect x="965.71" y="727.95" width="1" height="1" fill="#5f9c9c" opacity="0.45"/>
<rect x="898.97" y="692.82" width="1" height="1" fill="#5f9c9c" opacity="0.45"/>
<rect x="892.3" y="707.65" width="1" height="1" fill="#5f9c9c" opacity="0.45"/>
<rect x="915.83" y="711.53" width="1" height="1" fill="#5f9c9c" opacity="0.45"/>
<rect x="897.56" y="726.79" width="1" height="1" fill="#5f9c9c" opacity="0.45"/>
<rect x="889.36" y="707.65" width="1" height="1" fill="#5f9c9c" opacity="0.45"/>
<rect x="955.51" y="724.56" width="1" height="1" fill="#5f9c9c" opacity="0.45"/>
<rect x="890.71" y="696.82" width="1" height="1" fill="#5f9c9c" opacity="0.45"/>
<rect x="946.7" y="685.39" width="1" height="1" fill="#5f9c9c" opacity="0.45"/>
<rect x="872.46" y="710.98" width="1" height="1" fill="#5f9c9c" opacity="0.45"/>
<rect x="916.92" y="693.04" width="1" height="1" fill="#5f9c9c" opacity="0.45"/>
<rect x="863.53" y="694.92" width="1" height="1" fill="#5f9c9c" opacity="0.45"/>
<rect x="942.66" y="707.78" width="1" height="1" fill="#5f9c9c" opacity="0.45"/>
<rect x="965.67" y="723.49" width="1" height="1" fill="#5f9c9c" opacity="0.45"/>
<rect x="965.67" y="686.62" width="1" height="1" fill="#5f9c9c" opacity="0.45"/>
<rect x="878.35" y="685.55" width="1" height="1" fill="#5f9c9c" opacity="0.45"/>
<rect x="905.54" y="701.52" width="1" height="1" fill="#5f9c9c" opacity="0.45"/>
<rect x="863.64" y="711.73" width="1" height="1" fill="#5f9c9c" opacity="0.45"/>
<rect x="868.32" y="700.21" width="1" height="1" fill="#5f9c9c" opacity="0.45"/>
<rect x="885.19" y="724.31" width="1" height="1" fill="#5f9c9c" opacity="0.45"/>
<rect x="903.99" y="697.69" width="1" height="1" fill="#5f9c9c" opacity="0.45"/>
<rect x="862.85" y="706" width="1" height="1" fill="#5f9c9c" opacity="0.45"/>
<rect x="927" y="718.07" width="1" height="1" fill="#5f9c9c" opacity="0.45"/>
<rect x="958.34" y="724.63" width="1" height="1" fill="#5f9c9c" opacity="0.45"/>
<rect x="885.21" y="691.56" width="1" height="1" fill="#5f9c9c" opacity="0.45"/>
<rect x="941.38" y="723.69" width="1" height="1" fill="#5f9c9c" opacity="0.45"/>
<rect x="913.95" y="725.73" width="1" height="1" fill="#5f9c9c" opacity="0.45"/>
<rect x="918.68" y="698.63" width="1" height="1" fill="#5f9c9c" opacity="0.45"/>
<rect x="876.56" y="685.73" width="1" height="1" fill="#5f9c9c" opacity="0.45"/>
<rect x="928.71" y="728.97" width="1" height="1" fill="#5f9c9c" opacity="0.45"/>
<rect x="957.63" y="707.87" width="1" height="1" fill="#5f9c9c" opacity="0.45"/>
<rect x="931.17" y="730.52" width="1" height="1" fill="#5f9c9c" opacity="0.45"/>
<rect x="947.5" y="714.51" width="1" height="1" fill="#5f9c9c" opacity="0.45"/>
<rect x="903.57" y="710.37" width="1" height="1" fill="#5f9c9c" opacity="0.45"/>
<rect x="876.79" y="693.89" width="1" height="1" fill="#5f9c9c" opacity="0.45"/>
<rect x="933.19" y="733.64" width="1" height="1" fill="#5f9c9c" opacity="0.45"/>
<rect x="918.15" y="704.95" width="1" height="1" fill="#5f9c9c" opacity="0.45"/>
<rect x="896.7" y="707.25" width="1" height="1" fill="#5f9c9c" opacity="0.45"/>
<rect x="946.29" y="707.13" width="1" height="1" fill="#5f9c9c" opacity="0.45"/>
<rect x="963.47" y="692.53" width="1" height="1" fill="#5f9c9c" opacity="0.45"/>
<rect x="892.63" y="710.55" width="1" height="1" fill="#5f9c9c" opacity="0.45"/>
<rect x="903.29" y="726.71" width="1" height="1" fill="#5f9c9c" opacity="0.45"/>
<rect x="949" y="730.66" width="1" height="1" fill="#5f9c9c" opacity="0.45"/>
<rect x="925.34" y="686.4" width="1" height="1" fill="#5f9c9c" opacity="0.45"/>
<rect x="921.17" y="711.91" width="1" height="1" fill="#5f9c9c" opacity="0.45"/>
<rect x="911.61" y="698.65" width="1" height="1" fill="#5f9c9c" opacity="0.45"/>
<rect x="936" y="729.69" width="1" height="1" fill="#5f9c9c" opacity="0.45"/>
<rect x="869.27" y="717.75" width="1" height="1" fill="#5f9c9c" opacity="0.45"/>
<rect x="898.83" y="710.19" width="1" height="1" fill="#5f9c9c" opacity="0.45"/>
<rect x="956.48" y="732.08" width="1" height="1" fill="#5f9c9c" opacity="0.45"/>
<rect x="928.76" y="694.48" width="1" height="1" fill="#5f9c9c" opacity="0.45"/>
<rect x="959.23" y="693.8" width="1" height="1" fill="#5f9c9c" opacity="0.45"/>
<rect x="900.15" y="725.59" width="1" height="1" fill="#5f9c9c" opacity="0.45"/>
<rect x="892.77" y="698.21" width="1" height="1" fill="#5f9c9c" opacity="0.45"/>
<rect x="962.44" y="731.27" width="1" height="1" fill="#5f9c9c" opacity="0.45"/>
<rect x="892.9" y="704.18" width="1" height="1" fill="#5f9c9c" opacity="0.45"/>
<rect x="889.01" y="691.36" width="1" height="1" fill="#5f9c9c" opacity="0.45"/>
<rect x="885.52" y="733.06" width="1" height="1" fill="#5f9c9c" opacity="0.45"/>
<rect x="866.72" y="696.19" width="1" height="1" fill="#5f9c9c" opacity="0.45"/>
<rect x="880" y="688.81" width="1" height="1" fill="#5f9c9c" opacity="0.45"/>
<rect x="915.87" y="721.41" width="1" height="1" fill="#5f9c9c" opacity="0.45"/>
<rect x="950.17" y="715.91" width="1" height="1" fill="#5f9c9c" opacity="0.45"/>
<rect x="947.92" y="685.16" width="1" height="1" fill="#5f9c9c" opacity="0.45"/>
<rect x="889.03" y="732.12" width="1" height="1" fill="#5f9c9c" opacity="0.45"/>
<rect x="865.64" y="698.05" width="1" height="1" fill="#5f9c9c" opacity="0.45"/>
<rect x="911.09" y="698.06" width="1" height="1" fill="#5f9c9c" opacity="0.45"/>
<rect x="918.05" y="687.21" width="1" height="1" fill="#5f9c9c" opacity="0.45"/>
<rect x="883.95" y="731.95" width="1" height="1" fill="#5f9c9c" opacity="0.45"/>
<rect x="873.86" y="729.39" width="1" height="1" fill="#5f9c9c" opacity="0.45"/>
<rect x="877.57" y="733.68" width="1" height="1" fill="#5f9c9c" opacity="0.45"/>
<rect x="932.18" y="716.68" width="1" height="1" fill="#5f9c9c" opacity="0.45"/>
<rect x="873.64" y="687.58" width="1" height="1" fill="#5f9c9c" opacity="0.45"/>
<rect x="941.51" y="693.55" width="1" height="1" fill="#5f9c9c" opacity="0.45"/>
<rect x="878.85" y="725.32" width="1" height="1" fill="#5f9c9c" opacity="0.45"/>
<rect x="954.19" y="687.3" width="1" height="1" fill="#5f9c9c" opacity="0.45"/>
<rect x="963.64" y="711.17" width="1" height="1" fill="#5f9c9c" opacity="0.45"/>
<rect x="900.05" y="690.16" width="1" height="1" fill="#5f9c9c" opacity="0.45"/>
<rect x="900.87" y="733.42" width="1" height="1" fill="#5f9c9c" opacity="0.45"/>
<rect x="888.88" y="691.35" width="1" height="1" fill="#5f9c9c" opacity="0.45"/>
<rect x="873.98" y="691.13" width="1" height="1" fill="#5f9c9c" opacity="0.45"/>
<rect x="896.75" y="729.85" width="1" height="1" fill="#5f9c9c" opacity="0.45"/>
<rect x="866.47" y="694.33" width="1" height="1" fill="#5f9c9c" opacity="0.45"/>
<rect x="961.28" y="733.88" width="1" height="1" fill="#5f9c9c" opacity="0.45"/>
<rect x="965.74" y="696.98" width="1" height="1" fill="#5f9c9c" opacity="0.45"/>
<rect x="896.97" y="731.62" width="1" height="1" fill="#5f9c9c" opacity="0.45"/>
<rect x="911.34" y="719.46" width="1" height="1" fill="#5f9c9c" opacity="0.45"/>
<rect x="892.45" y="685.95" width="1" height="1" fill="#5f9c9c" opacity="0.45"/>
<rect x="895.98" y="721.66" width="1" height="1" fill="#5f9c9c" opacity="0.45"/>
<rect x="943.98" y="712.85" width="1" height="1" fill="#5f9c9c" opacity="0.45"/>
<rect x="909.03" y="711.34" width="1" height="1" fill="#5f9c9c" opacity="0.45"/>
<rect x="906.63" y="711.16" width="1" height="1" fill="#5f9c9c" opacity="0.45"/>
<rect x="949.59" y="694.75" width="1" height="1" fill="#5f9c9c" opacity="0.45"/>
<rect x="923.35" y="730.73" width="1" height="1" fill="#5f9c9c" opacity="0.45"/>
<rect x="951.28" y="693.71" width="1" height="1" fill="#5f9c9c" opacity="0.45"/>
<rect x="963.93" y="726.17" width="1" height="1" fill="#5f9c9c" opacity="0.45"/>
<rect x="876.47" y="697.96" width="1" height="1" fill="#5f9c9c" opacity="0.45"/>
<rect x="880.26" y="687.5" width="1" height="1" fill="#5f9c9c" opacity="0.45"/>
<rect x="965.57" y="705.01" width="1" height="1" fill="#5f9c9c" opacity="0.45"/>
<rect x="953.95" y="690.53" width="1" height="1" fill="#5f9c9c" opacity="0.45"/>
<rect x="859.54" y="727.63" width="1" height="1" fill="#5f9c9c" opacity="0.45"/>
<rect x="945.3" y="733.62" width="1" height="1" fill="#5f9c9c" opacity="0.45"/>
<rect x="933.37" y="710.7" width="1" height="1" fill="#5f9c9c" opacity="0.45"/>
<rect x="942.23" y="689.44" width="1" height="1" fill="#5f9c9c" opacity="0.45"/>
<rect x="917.42" y="706.57" width="1" height="1" fill="#5f9c9c" opacity="0.45"/>
<rect x="874.1" y="714.4" width="1" height="1" fill="#5f9c9c" opacity="0.45"/>
<rect x="893.54" y="709.78" width="1" height="1" fill="#5f9c9c" opacity="0.45"/>
<rect x="899.07" y="700.53" width="1" height="1" fill="#5f9c9c" opacity="0.45"/>
<rect x="897.42" y="714.43" width="1" height="1" fill="#5f9c9c" opacity="0.45"/>
<rect x="965.81" y="730.89" width="1" height="1" fill="#5f9c9c" opacity="0.45"/>
<rect x="952.8" y="725.94" width="1" height="1" fill="#5f9c9c" opacity="0.45"/>
<rect x="889.54" y="732.89" width="1" height="1" fill="#5f9c9c" opacity="0.45"/>
<rect x="887.67" y="690.95" width="1" height="1" fill="#5f9c9c" opacity="0.45"/>
<rect x="913.07" y="720.87" width="1" height="1" fill="#5f9c9c" opacity="0.45"/>
<rect x="895.5" y="716.6" width="1" height="1" fill="#5f9c9c" opacity="0.45"/>
<rect x="889.06" y="732.41" width="1" height="1" fill="#5f9c9c" opacity="0.45"/>
<rect x="907.8" y="708.38" width="1" height="1" fill="#5f9c9c" opacity="0.45"/>
<rect x="866.15" y="697.72" width="1.1" height="1.1" fill="#5f9c9c" opacity="0.5"/>
<rect x="879.33" y="698.58" width="1.1" height="1.1" fill="#5f9c9c" opacity="0.5"/>
<rect x="869.03" y="700.34" width="1.1" height="1.1" fill="#5f9c9c" opacity="0.5"/>
<rect x="878.24" y="700.18" width="1.1" height="1.1" fill="#5f9c9c" opacity="0.5"/>
<rect x="878.41" y="694.74" width="1.1" height="1.1" fill="#5f9c9c" opacity="0.5"/>
<rect x="881.82" y="700.98" width="1.1" height="1.1" fill="#5f9c9c" opacity="0.5"/>
<rect x="865.72" y="704.38" width="1.1" height="1.1" fill="#5f9c9c" opacity="0.5"/>
<rect x="872.43" y="700.4" width="1.1" height="1.1" fill="#5f9c9c" opacity="0.5"/>
<rect x="866.23" y="697.06" width="1.1" height="1.1" fill="#5f9c9c" opacity="0.5"/>
<rect x="866.86" y="701.35" width="1.1" height="1.1" fill="#5f9c9c" opacity="0.5"/>
<rect x="873.4" y="696.2" width="1.1" height="1.1" fill="#5f9c9c" opacity="0.5"/>
<rect x="872.81" y="702.18" width="1.1" height="1.1" fill="#5f9c9c" opacity="0.5"/>
<rect x="871.15" y="700.56" width="1.1" height="1.1" fill="#5f9c9c" opacity="0.5"/>
<rect x="869.5" y="694.02" width="1.1" height="1.1" fill="#5f9c9c" opacity="0.5"/>
<rect x="872.35" y="698.05" width="1.1" height="1.1" fill="#5f9c9c" opacity="0.5"/>
<rect x="875.07" y="701.65" width="1.1" height="1.1" fill="#5f9c9c" opacity="0.5"/>
<rect x="872.65" y="697.83" width="1.1" height="1.1" fill="#5f9c9c" opacity="0.5"/>
<rect x="877.47" y="700.15" width="1.1" height="1.1" fill="#5f9c9c" opacity="0.5"/>
<rect x="874.13" y="699.59" width="1.1" height="1.1" fill="#5f9c9c" opacity="0.5"/>
<rect x="865.38" y="697.29" width="1.1" height="1.1" fill="#5f9c9c" opacity="0.5"/>
<rect x="867.79" y="697.86" width="1.1" height="1.1" fill="#5f9c9c" opacity="0.5"/>
<rect x="878.03" y="693.97" width="1.1" height="1.1" fill="#5f9c9c" opacity="0.5"/>
<rect x="878.11" y="697.25" width="1.1" height="1.1" fill="#5f9c9c" opacity="0.5"/>
<rect x="873.48" y="697.53" width="1.1" height="1.1" fill="#5f9c9c" opacity="0.5"/>
<rect x="877.24" y="696.93" width="1.1" height="1.1" fill="#5f9c9c" opacity="0.5"/>
<rect x="865.83" y="699.83" width="1.1" height="1.1" fill="#5f9c9c" opacity="0.5"/>
<rect x="873.72" y="700.73" width="1.1" height="1.1" fill="#5f9c9c" opacity="0.5"/>
<rect x="876.8" y="695.35" width="1.1" height="1.1" fill="#5f9c9c" opacity="0.5"/>
<rect x="875.17" y="699.24" width="1.1" height="1.1" fill="#5f9c9c" opacity="0.5"/>
<rect x="874.03" y="699.17" width="1.1" height="1.1" fill="#5f9c9c" opacity="0.5"/>
<rect x="875.62" y="697.27" width="1.1" height="1.1" fill="#5f9c9c" opacity="0.5"/>
<rect x="873.72" y="701.75" width="1.1" height="1.1" fill="#5f9c9c" opacity="0.5"/>
<rect x="869.99" y="698.66" width="1.1" height="1.1" fill="#5f9c9c" opacity="0.5"/>
<rect x="870.18" y="695.78" width="1.1" height="1.1" fill="#5f9c9c" opacity="0.5"/>
<rect x="872.63" y="699.4" width="1.1" height="1.1" fill="#5f9c9c" opacity="0.5"/>
<rect x="880.55" y="698.3" width="1.1" height="1.1" fill="#5f9c9c" opacity="0.5"/>
<rect x="878.16" y="700.47" width="1.1" height="1.1" fill="#5f9c9c" opacity="0.5"/>
<rect x="874.62" y="689.83" width="1.1" height="1.1" fill="#5f9c9c" opacity="0.5"/>
<rect x="874.85" y="699.05" width="1.1" height="1.1" fill="#5f9c9c" opacity="0.5"/>
<rect x="870.08" y="699.27" width="1.1" height="1.1" fill="#5f9c9c" opacity="0.5"/>
<rect x="899.08" y="709.55" width="1.1" height="1.1" fill="#5f9c9c" opacity="0.5"/>
<rect x="890.96" y="715.58" width="1.1" height="1.1" fill="#5f9c9c" opacity="0.5"/>
<rect x="885.67" y="709.9" width="1.1" height="1.1" fill="#5f9c9c" opacity="0.5"/>
<rect x="894.26" y="715.71" width="1.1" height="1.1" fill="#5f9c9c" opacity="0.5"/>
<rect x="898.03" y="715.13" width="1.1" height="1.1" fill="#5f9c9c" opacity="0.5"/>
<rect x="902.49" y="714.06" width="1.1" height="1.1" fill="#5f9c9c" opacity="0.5"/>
<rect x="887.76" y="712.36" width="1.1" height="1.1" fill="#5f9c9c" opacity="0.5"/>
<rect x="895.61" y="714.01" width="1.1" height="1.1" fill="#5f9c9c" opacity="0.5"/>
<rect x="885.12" y="714.05" width="1.1" height="1.1" fill="#5f9c9c" opacity="0.5"/>
<rect x="889.8" y="712.34" width="1.1" height="1.1" fill="#5f9c9c" opacity="0.5"/>
<rect x="899.03" y="712.44" width="1.1" height="1.1" fill="#5f9c9c" opacity="0.5"/>
<rect x="890.34" y="712.58" width="1.1" height="1.1" fill="#5f9c9c" opacity="0.5"/>
<rect x="890.41" y="718.91" width="1.1" height="1.1" fill="#5f9c9c" opacity="0.5"/>
<rect x="896.43" y="715.59" width="1.1" height="1.1" fill="#5f9c9c" opacity="0.5"/>
<rect x="890.25" y="711.05" width="1.1" height="1.1" fill="#5f9c9c" opacity="0.5"/>
<rect x="894.1" y="706.55" width="1.1" height="1.1" fill="#5f9c9c" opacity="0.5"/>
<rect x="897.24" y="709.19" width="1.1" height="1.1" fill="#5f9c9c" opacity="0.5"/>
<rect x="893.46" y="713.91" width="1.1" height="1.1" fill="#5f9c9c" opacity="0.5"/>
<rect x="889.82" y="713.96" width="1.1" height="1.1" fill="#5f9c9c" opacity="0.5"/>
<rect x="895.91" y="718.48" width="1.1" height="1.1" fill="#5f9c9c" opacity="0.5"/>
<rect x="894.66" y="718.24" width="1.1" height="1.1" fill="#5f9c9c" opacity="0.5"/>
<rect x="894.96" y="712.36" width="1.1" height="1.1" fill="#5f9c9c" opacity="0.5"/>
<rect x="896.57" y="711.4" width="1.1" height="1.1" fill="#5f9c9c" opacity="0.5"/>
<rect x="893.67" y="714.75" width="1.1" height="1.1" fill="#5f9c9c" opacity="0.5"/>
<rect x="897.72" y="713.73" width="1.1" height="1.1" fill="#5f9c9c" opacity="0.5"/>
<rect x="897.6" y="720.23" width="1.1" height="1.1" fill="#5f9c9c" opacity="0.5"/>
<rect x="904.27" y="715.56" width="1.1" height="1.1" fill="#5f9c9c" opacity="0.5"/>
<rect x="900.26" y="718.12" width="1.1" height="1.1" fill="#5f9c9c" opacity="0.5"/>
<rect x="904.94" y="718.43" width="1.1" height="1.1" fill="#5f9c9c" opacity="0.5"/>
<rect x="903.04" y="720.92" width="1.1" height="1.1" fill="#5f9c9c" opacity="0.5"/>
<rect x="902.51" y="717.63" width="1.1" height="1.1" fill="#5f9c9c" opacity="0.5"/>
<rect x="904.39" y="719.54" width="1.1" height="1.1" fill="#5f9c9c" opacity="0.5"/>
<rect x="900.75" y="715.56" width="1.1" height="1.1" fill="#5f9c9c" opacity="0.5"/>
<rect x="902.69" y="714.5" width="1.1" height="1.1" fill="#5f9c9c" opacity="0.5"/>
<rect x="900.89" y="712.91" width="1.1" height="1.1" fill="#5f9c9c" opacity="0.5"/>
<rect x="906.64" y="720.79" width="1.1" height="1.1" fill="#5f9c9c" opacity="0.5"/>
<rect x="899.56" y="718.68" width="1.1" height="1.1" fill="#5f9c9c" opacity="0.5"/>
<rect x="898.87" y="714.06" width="1.1" height="1.1" fill="#5f9c9c" opacity="0.5"/>
<rect x="902.27" y="716.79" width="1.1" height="1.1" fill="#5f9c9c" opacity="0.5"/>
<rect x="905.43" y="710.79" width="1.1" height="1.1" fill="#5f9c9c" opacity="0.5"/>
<rect x="898.2" y="716.67" width="1.1" height="1.1" fill="#5f9c9c" opacity="0.5"/>
<rect x="902.56" y="722.65" width="1.1" height="1.1" fill="#5f9c9c" opacity="0.5"/>
<rect x="902.43" y="714.53" width="1.1" height="1.1" fill="#5f9c9c" opacity="0.5"/>
<rect x="908.5" y="708.64" width="1.1" height="1.1" fill="#5f9c9c" opacity="0.5"/>
<rect x="895.94" y="724.36" width="1.1" height="1.1" fill="#5f9c9c" opacity="0.5"/>
<rect x="901.02" y="716.63" width="1.1" height="1.1" fill="#5f9c9c" opacity="0.5"/>
<rect x="902.8" y="713.83" width="1.1" height="1.1" fill="#5f9c9c" opacity="0.5"/>
<rect x="902.97" y="712.59" width="1.1" height="1.1" fill="#5f9c9c" opacity="0.5"/>
<rect x="907.49" y="718.68" width="1.1" height="1.1" fill="#5f9c9c" opacity="0.5"/>
<rect x="906.34" y="713.75" width="1.1" height="1.1" fill="#5f9c9c" opacity="0.5"/>
<rect x="895.66" y="715.01" width="1.1" height="1.1" fill="#5f9c9c" opacity="0.5"/>
<rect x="899.07" y="717.55" width="1.1" height="1.1" fill="#5f9c9c" opacity="0.5"/>
<rect x="896.95" y="713.72" width="1.1" height="1.1" fill="#5f9c9c" opacity="0.5"/>
<rect x="904.1" y="717.67" width="1.1" height="1.1" fill="#5f9c9c" opacity="0.5"/>
<rect x="903.94" y="712.73" width="1.1" height="1.1" fill="#5f9c9c" opacity="0.5"/>
<rect x="939.36" y="719.93" width="1.1" height="1.1" fill="#5f9c9c" opacity="0.5"/>
<rect x="946" y="711.67" width="1.1" height="1.1" fill="#5f9c9c" opacity="0.5"/>
<rect x="949.93" y="713.69" width="1.1" height="1.1" fill="#5f9c9c" opacity="0.5"/>
<rect x="942.13" y="711.67" width="1.1" height="1.1" fill="#5f9c9c" opacity="0.5"/>
<rect x="948.32" y="714.39" width="1.1" height="1.1" fill="#5f9c9c" opacity="0.5"/>
<rect x="941.81" y="711.39" width="1.1" height="1.1" fill="#5f9c9c" opacity="0.5"/>
<rect x="936.92" y="714.6" width="1.1" height="1.1" fill="#5f9c9c" opacity="0.5"/>
<rect x="942.18" y="718.62" width="1.1" height="1.1" fill="#5f9c9c" opacity="0.5"/>
<rect x="938.44" y="712.99" width="1.1" height="1.1" fill="#5f9c9c" opacity="0.5"/>
<rect x="946.19" y="716.46" width="1.1" height="1.1" fill="#5f9c9c" opacity="0.5"/>
<rect x="939.38" y="718.35" width="1.1" height="1.1" fill="#5f9c9c" opacity="0.5"/>
<rect x="944.09" y="716.68" width="1.1" height="1.1" fill="#5f9c9c" opacity="0.5"/>
<rect x="943.56" y="716.92" width="1.1" height="1.1" fill="#5f9c9c" opacity="0.5"/>
<rect x="940.44" y="713.45" width="1.1" height="1.1" fill="#5f9c9c" opacity="0.5"/>
<rect x="946.59" y="715.23" width="1.1" height="1.1" fill="#5f9c9c" opacity="0.5"/>
<rect x="943.62" y="717.4" width="1.1" height="1.1" fill="#5f9c9c" opacity="0.5"/>
<rect x="943.11" y="715.26" width="1.1" height="1.1" fill="#5f9c9c" opacity="0.5"/>
<rect x="933.15" y="712.55" width="1.1" height="1.1" fill="#5f9c9c" opacity="0.5"/>
<rect x="945.51" y="711.51" width="1.1" height="1.1" fill="#5f9c9c" opacity="0.5"/>
<rect x="940.96" y="714.74" width="1.1" height="1.1" fill="#5f9c9c" opacity="0.5"/>
<rect x="941.58" y="716.6" width="1.1" height="1.1" fill="#5f9c9c" opacity="0.5"/>
<rect x="944.08" y="713.57" width="1.1" height="1.1" fill="#5f9c9c" opacity="0.5"/>
<rect x="946.58" y="713.02" width="1.1" height="1.1" fill="#5f9c9c" opacity="0.5"/>
<rect x="939.25" y="715.01" width="1.1" height="1.1" fill="#5f9c9c" opacity="0.5"/>
<rect x="944.72" y="713.66" width="1.1" height="1.1" fill="#5f9c9c" opacity="0.5"/>
<rect x="937.76" y="712.58" width="1.1" height="1.1" fill="#5f9c9c" opacity="0.5"/>
<rect x="943.08" y="716.07" width="1.1" height="1.1" fill="#5f9c9c" opacity="0.5"/>
<rect x="949.38" y="713.62" width="1.1" height="1.1" fill="#5f9c9c" opacity="0.5"/>
<rect x="941.25" y="707.81" width="1.1" height="1.1" fill="#5f9c9c" opacity="0.5"/>
<rect x="947.37" y="716.74" width="1.1" height="1.1" fill="#5f9c9c" opacity="0.5"/>
<rect x="924.63" y="720.19" width="1.1" height="1.1" fill="#5f9c9c" opacity="0.5"/>
<rect x="913.94" y="724.39" width="1.1" height="1.1" fill="#5f9c9c" opacity="0.5"/>
<rect x="921.41" y="726.68" width="1.1" height="1.1" fill="#5f9c9c" opacity="0.5"/>
<rect x="927.71" y="726.02" width="1.1" height="1.1" fill="#5f9c9c" opacity="0.5"/>
<rect x="924.03" y="725.74" width="1.1" height="1.1" fill="#5f9c9c" opacity="0.5"/>
<rect x="918.87" y="726.53" width="1.1" height="1.1" fill="#5f9c9c" opacity="0.5"/>
<rect x="924.47" y="718.82" width="1.1" height="1.1" fill="#5f9c9c" opacity="0.5"/>
<rect x="922.96" y="719.43" width="1.1" height="1.1" fill="#5f9c9c" opacity="0.5"/>
<rect x="925.68" y="720.16" width="1.1" height="1.1" fill="#5f9c9c" opacity="0.5"/>
<rect x="919.4" y="721.22" width="1.1" height="1.1" fill="#5f9c9c" opacity="0.5"/>
<rect x="923.66" y="722.87" width="1.1" height="1.1" fill="#5f9c9c" opacity="0.5"/>
<rect x="927.45" y="725.95" width="1.1" height="1.1" fill="#5f9c9c" opacity="0.5"/>
<rect x="926.28" y="727.07" width="1.1" height="1.1" fill="#5f9c9c" opacity="0.5"/>
<rect x="914.5" y="722.06" width="1.1" height="1.1" fill="#5f9c9c" opacity="0.5"/>
<rect x="928.43" y="718.43" width="1.1" height="1.1" fill="#5f9c9c" opacity="0.5"/>
<rect x="923.78" y="722.91" width="1.1" height="1.1" fill="#5f9c9c" opacity="0.5"/>
<rect x="918.28" y="720.6" width="1.1" height="1.1" fill="#5f9c9c" opacity="0.5"/>
<rect x="927.05" y="721.35" width="1.1" height="1.1" fill="#5f9c9c" opacity="0.5"/>
<rect x="930.87" y="729.17" width="1.1" height="1.1" fill="#5f9c9c" opacity="0.5"/>
<rect x="924.31" y="718.92" width="1.1" height="1.1" fill="#5f9c9c" opacity="0.5"/>
<rect x="924.46" y="720.62" width="1.1" height="1.1" fill="#5f9c9c" opacity="0.5"/>
<rect x="918.77" y="721.1" width="1.1" height="1.1" fill="#5f9c9c" opacity="0.5"/>
<rect x="922.7" y="721.23" width="1.1" height="1.1" fill="#5f9c9c" opacity="0.5"/>
<rect x="928.37" y="725.39" width="1.1" height="1.1" fill="#5f9c9c" opacity="0.5"/>
<rect x="926.29" y="721.22" width="1.1" height="1.1" fill="#5f9c9c" opacity="0.5"/>
<rect x="959.07" y="722.34" width="1.1" height="1.1" fill="#5f9c9c" opacity="0.5"/>
<rect x="958.27" y="719.44" width="1.1" height="1.1" fill="#5f9c9c" opacity="0.5"/>
<rect x="944.78" y="724.85" width="1.1" height="1.1" fill="#5f9c9c" opacity="0.5"/>
<rect x="954.92" y="720.81" width="1.1" height="1.1" fill="#5f9c9c" opacity="0.5"/>
<rect x="957.3" y="722.11" width="1.1" height="1.1" fill="#5f9c9c" opacity="0.5"/>
<rect x="956.13" y="726.72" width="1.1" height="1.1" fill="#5f9c9c" opacity="0.5"/>
<rect x="957.88" y="722.95" width="1.1" height="1.1" fill="#5f9c9c" opacity="0.5"/>
<rect x="953.75" y="721.98" width="1.1" height="1.1" fill="#5f9c9c" opacity="0.5"/>
<rect x="959.24" y="722.04" width="1.1" height="1.1" fill="#5f9c9c" opacity="0.5"/>
<rect x="958.68" y="719.54" width="1.1" height="1.1" fill="#5f9c9c" opacity="0.5"/>
<rect x="958.89" y="719.3" width="1.1" height="1.1" fill="#5f9c9c" opacity="0.5"/>
<rect x="955.57" y="720.02" width="1.1" height="1.1" fill="#5f9c9c" opacity="0.5"/>
<rect x="958.09" y="725.45" width="1.1" height="1.1" fill="#5f9c9c" opacity="0.5"/>
<rect x="958.54" y="719.72" width="1.1" height="1.1" fill="#5f9c9c" opacity="0.5"/>
<rect x="957.91" y="725.29" width="1.1" height="1.1" fill="#5f9c9c" opacity="0.5"/>
<rect x="960.31" y="723.73" width="1.1" height="1.1" fill="#5f9c9c" opacity="0.5"/>
<rect x="952.76" y="720.66" width="1.1" height="1.1" fill="#5f9c9c" opacity="0.5"/>
<rect x="954.6" y="720.89" width="1.1" height="1.1" fill="#5f9c9c" opacity="0.5"/>
<rect x="958.31" y="722.39" width="1.1" height="1.1" fill="#5f9c9c" opacity="0.5"/>
<rect x="955.94" y="723.92" width="1.1" height="1.1" fill="#5f9c9c" opacity="0.5"/>
<rect x="858.55" y="709.62" width="1.1" height="1.1" fill="#5f9c9c" opacity="0.5"/>
<rect x="861.88" y="706.63" width="1.1" height="1.1" fill="#5f9c9c" opacity="0.5"/>
<rect x="857.97" y="706.52" width="1.1" height="1.1" fill="#5f9c9c" opacity="0.5"/>
<rect x="857.19" y="710.17" width="1.1" height="1.1" fill="#5f9c9c" opacity="0.5"/>
<rect x="860.94" y="711.57" width="1.1" height="1.1" fill="#5f9c9c" opacity="0.5"/>
<rect x="862.8" y="707.27" width="1.1" height="1.1" fill="#5f9c9c" opacity="0.5"/>
<rect x="869.05" y="714.5" width="1.1" height="1.1" fill="#5f9c9c" opacity="0.5"/>
<rect x="856.49" y="708.57" width="1.1" height="1.1" fill="#5f9c9c" opacity="0.5"/>
<rect x="859.5" y="711.16" width="1.1" height="1.1" fill="#5f9c9c" opacity="0.5"/>
<rect x="863.95" y="710.58" width="1.1" height="1.1" fill="#5f9c9c" opacity="0.5"/>
<rect x="851.02" y="718.92" width="1.1" height="1.1" fill="#5f9c9c" opacity="0.5"/>
<rect x="864.93" y="712.97" width="1.1" height="1.1" fill="#5f9c9c" opacity="0.5"/>
<rect x="858.4" y="710.87" width="1.1" height="1.1" fill="#5f9c9c" opacity="0.5"/>
<rect x="865.23" y="709.2" width="1.1" height="1.1" fill="#5f9c9c" opacity="0.5"/>
<rect x="866.09" y="710.83" width="1.1" height="1.1" fill="#5f9c9c" opacity="0.5"/>
<rect x="867.89" y="710.72" width="1.1" height="1.1" fill="#5f9c9c" opacity="0.5"/>
<rect x="867.52" y="705.93" width="1.1" height="1.1" fill="#5f9c9c" opacity="0.5"/>
<rect x="867.33" y="711.89" width="1.1" height="1.1" fill="#5f9c9c" opacity="0.5"/>
<rect x="859.91" y="713.7" width="1.1" height="1.1" fill="#5f9c9c" opacity="0.5"/>
<rect x="860.38" y="712.95" width="1.1" height="1.1" fill="#5f9c9c" opacity="0.5"/>
</g>
<line x1="865.5" y1="666.6" x2="865.5" y2="772.7" stroke="#111" stroke-width="1.4" />
<line x1="858.3" y1="766.5" x2="969.3" y2="766.5" stroke="#111" stroke-width="1.4" />
<rect x="862.9" y="763.9" width="5.2" height="5.2" fill="#000" stroke="none" stroke-width="1" />
<clipPath id="cb20"><rect x="858.3" y="778.4" width="111" height="106.3"/></clipPath><g clip-path="url(#cb20)">
<path d="M857.34,869.51 C858.9,869.22 863.38,868.73 866.7,867.76 C870.01,866.78 873.32,864.74 877.22,863.66 C881.12,862.59 886.38,861.91 890.09,861.32 C893.79,860.74 897.59,861.42 899.44,860.15 C901.3,858.89 900.22,855.18 901.2,853.72 C902.17,852.26 904.32,850.21 905.29,851.38 C906.27,852.55 903.73,859.18 907.05,860.74 C910.36,862.3 919.23,860.93 925.18,860.74 C931.12,860.54 936.87,859.96 942.72,859.57 C948.57,859.18 955.58,858.79 960.26,858.4 C964.94,858.01 969.04,857.43 970.79,857.23 L970.79,885.31 L857.34,885.31 Z" fill="#eff6f6" />
<path d="M857.34,877.7 C860.85,877.22 870.98,875.66 878.39,874.78 C885.8,873.9 893.99,873.12 901.78,872.44 C909.58,871.76 918.35,871.31 925.18,870.68 C932,870.06 935.12,868.89 942.72,868.69 C950.32,868.5 966.11,869.38 970.79,869.51 L970.79,885.31 L857.34,885.31 Z" fill="#d9eaea" />
<path d="M883.07,885.31 C883.27,884.72 881.12,882.87 884.24,881.8 C887.36,880.73 895.74,878.68 901.78,878.87 C907.83,879.07 915.43,883.65 920.5,882.97 C925.57,882.28 927.51,876.34 932.19,874.78 C936.87,873.22 942.13,873.9 948.57,873.61 C955,873.32 967.09,873.12 970.79,873.02 L970.79,885.31 Z" fill="#b9d7d7" />
<linearGradient id="gb20" x1="0" x2="1" y1="0" y2="0"><stop offset="0" stop-color="#9fc8c8" stop-opacity="0"/><stop offset="0.5" stop-color="#9fc8c8" stop-opacity="1"/></linearGradient>
<path d="M920.5,878.87 L970.79,876.53 L970.79,885.31 L920.5,885.31 Z" fill="url(#gb20)" />
<path d="M857.34,869.51 C858.9,869.22 863.38,868.73 866.7,867.76 C870.01,866.78 873.32,864.74 877.22,863.66 C881.12,862.59 886.38,861.91 890.09,861.32 C893.79,860.74 897.59,861.42 899.44,860.15 C901.3,858.89 900.22,855.18 901.2,853.72 C902.17,852.26 904.32,850.21 905.29,851.38 C906.27,852.55 903.73,859.18 907.05,860.74 C910.36,862.3 919.23,860.93 925.18,860.74 C931.12,860.54 936.87,859.96 942.72,859.57 C948.57,859.18 955.58,858.79 960.26,858.4 C964.94,858.01 969.04,857.43 970.79,857.23" fill="none" stroke="#5f9c9c" stroke-width="1.3" />
<path d="M857.34,877.7 C860.85,877.22 870.98,875.66 878.39,874.78 C885.8,873.9 893.99,873.12 901.78,872.44 C909.58,871.76 918.35,871.31 925.18,870.68 C932,870.06 935.12,868.89 942.72,868.69 C950.32,868.5 966.11,869.38 970.79,869.51" fill="none" stroke="#5f9c9c" stroke-width="1.3" />
<path d="M883.07,885.31 C883.27,884.72 881.12,882.87 884.24,881.8 C887.36,880.73 895.74,878.68 901.78,878.87 C907.83,879.07 915.43,883.65 920.5,882.97 C925.57,882.28 927.51,876.34 932.19,874.78 C936.87,873.22 942.13,873.9 948.57,873.61 C955,873.32 967.09,873.12 970.79,873.02" fill="none" stroke="#5f9c9c" stroke-width="1.3" />
<path d="M961.43,823.3 C962.6,823.01 967.67,820.38 968.45,821.55 C969.23,822.72 967.28,829.06 966.11,830.32 C964.94,831.59 962.21,830.32 961.43,829.15 C960.65,827.98 961.43,824.28 961.43,823.3" fill="none" stroke="#5f9c9c" stroke-width="1.3" />
<rect x="948.38" y="810.97" width="1.1" height="1.1" fill="#5f9c9c" opacity="0.5"/>
<rect x="959.97" y="809.39" width="1.1" height="1.1" fill="#5f9c9c" opacity="0.5"/>
<rect x="952.62" y="811.26" width="1.1" height="1.1" fill="#5f9c9c" opacity="0.5"/>
<rect x="942.68" y="810.95" width="1.1" height="1.1" fill="#5f9c9c" opacity="0.5"/>
<rect x="960" y="809.86" width="1.1" height="1.1" fill="#5f9c9c" opacity="0.5"/>
<rect x="929.9" y="809.44" width="1.1" height="1.1" fill="#5f9c9c" opacity="0.5"/>
<rect x="942.8" y="811.08" width="1.1" height="1.1" fill="#5f9c9c" opacity="0.5"/>
<rect x="946.6" y="812.23" width="1.1" height="1.1" fill="#5f9c9c" opacity="0.5"/>
<rect x="926.27" y="811.21" width="1.1" height="1.1" fill="#5f9c9c" opacity="0.5"/>
<rect x="959.02" y="811.8" width="1.1" height="1.1" fill="#5f9c9c" opacity="0.5"/>
<rect x="953.56" y="811.95" width="1.1" height="1.1" fill="#5f9c9c" opacity="0.5"/>
<rect x="930.83" y="812.46" width="1.1" height="1.1" fill="#5f9c9c" opacity="0.5"/>
<rect x="948.18" y="811.09" width="1.1" height="1.1" fill="#5f9c9c" opacity="0.5"/>
<rect x="957.39" y="811.1" width="1.1" height="1.1" fill="#5f9c9c" opacity="0.5"/>
<rect x="933.39" y="811.63" width="1.1" height="1.1" fill="#5f9c9c" opacity="0.5"/>
<rect x="957.43" y="813.65" width="1.1" height="1.1" fill="#5f9c9c" opacity="0.5"/>
<rect x="936.28" y="812.19" width="1.1" height="1.1" fill="#5f9c9c" opacity="0.5"/>
<rect x="950.37" y="810.78" width="1.1" height="1.1" fill="#5f9c9c" opacity="0.5"/>
<rect x="933.22" y="812.39" width="1.1" height="1.1" fill="#5f9c9c" opacity="0.5"/>
<rect x="960.84" y="810.54" width="1.1" height="1.1" fill="#5f9c9c" opacity="0.5"/>
<rect x="958.2" y="810.79" width="1.1" height="1.1" fill="#5f9c9c" opacity="0.5"/>
<rect x="931.81" y="811.9" width="1.1" height="1.1" fill="#5f9c9c" opacity="0.5"/>
<rect x="931.08" y="811.78" width="1.1" height="1.1" fill="#5f9c9c" opacity="0.5"/>
<rect x="947.66" y="811.37" width="1.1" height="1.1" fill="#5f9c9c" opacity="0.5"/>
<rect x="925.92" y="810.68" width="1.1" height="1.1" fill="#5f9c9c" opacity="0.5"/>
<rect x="937.03" y="810.29" width="1.1" height="1.1" fill="#5f9c9c" opacity="0.5"/>
<rect x="955.47" y="810.25" width="1.1" height="1.1" fill="#5f9c9c" opacity="0.5"/>
<rect x="943.24" y="811.15" width="1.1" height="1.1" fill="#5f9c9c" opacity="0.5"/>
<rect x="951.34" y="813.44" width="1.1" height="1.1" fill="#5f9c9c" opacity="0.5"/>
<rect x="926.62" y="811.95" width="1.1" height="1.1" fill="#5f9c9c" opacity="0.5"/>
<rect x="952.98" y="811.16" width="1.1" height="1.1" fill="#5f9c9c" opacity="0.5"/>
<rect x="954.36" y="810.91" width="1.1" height="1.1" fill="#5f9c9c" opacity="0.5"/>
<rect x="939.07" y="810.94" width="1.1" height="1.1" fill="#5f9c9c" opacity="0.5"/>
<rect x="927.49" y="811" width="1.1" height="1.1" fill="#5f9c9c" opacity="0.5"/>
<rect x="932.35" y="811.65" width="1.1" height="1.1" fill="#5f9c9c" opacity="0.5"/>
<rect x="953.2" y="810.88" width="1.1" height="1.1" fill="#5f9c9c" opacity="0.5"/>
<rect x="959.5" y="811.86" width="1.1" height="1.1" fill="#5f9c9c" opacity="0.5"/>
<rect x="938.66" y="810.75" width="1.1" height="1.1" fill="#5f9c9c" opacity="0.5"/>
<rect x="944.82" y="811.13" width="1.1" height="1.1" fill="#5f9c9c" opacity="0.5"/>
<rect x="952.93" y="810.61" width="1.1" height="1.1" fill="#5f9c9c" opacity="0.5"/>
<rect x="954.7" y="811.22" width="1.1" height="1.1" fill="#5f9c9c" opacity="0.5"/>
<rect x="960.09" y="810.86" width="1.1" height="1.1" fill="#5f9c9c" opacity="0.5"/>
<rect x="929.1" y="810.36" width="1.1" height="1.1" fill="#5f9c9c" opacity="0.5"/>
<rect x="959.08" y="812.14" width="1.1" height="1.1" fill="#5f9c9c" opacity="0.5"/>
<rect x="938.12" y="812.1" width="1.1" height="1.1" fill="#5f9c9c" opacity="0.5"/>
<rect x="936.32" y="815.2" width="1.1" height="1.1" fill="#5f9c9c" opacity="0.5"/>
<rect x="936.48" y="815.9" width="1.1" height="1.1" fill="#5f9c9c" opacity="0.5"/>
<rect x="930.2" y="816.07" width="1.1" height="1.1" fill="#5f9c9c" opacity="0.5"/>
<rect x="950.42" y="816.29" width="1.1" height="1.1" fill="#5f9c9c" opacity="0.5"/>
<rect x="926.44" y="815.72" width="1.1" height="1.1" fill="#5f9c9c" opacity="0.5"/>
<rect x="961.55" y="814.8" width="1.1" height="1.1" fill="#5f9c9c" opacity="0.5"/>
<rect x="933.51" y="815.54" width="1.1" height="1.1" fill="#5f9c9c" opacity="0.5"/>
<rect x="946.86" y="816.21" width="1.1" height="1.1" fill="#5f9c9c" opacity="0.5"/>
<rect x="940.41" y="814.82" width="1.1" height="1.1" fill="#5f9c9c" opacity="0.5"/>
<rect x="926.71" y="815.94" width="1.1" height="1.1" fill="#5f9c9c" opacity="0.5"/>
<rect x="943.1" y="815.61" width="1.1" height="1.1" fill="#5f9c9c" opacity="0.5"/>
<rect x="956.01" y="816.77" width="1.1" height="1.1" fill="#5f9c9c" opacity="0.5"/>
<rect x="960.17" y="816.85" width="1.1" height="1.1" fill="#5f9c9c" opacity="0.5"/>
<rect x="948.22" y="815.84" width="1.1" height="1.1" fill="#5f9c9c" opacity="0.5"/>
<rect x="940.89" y="815.3" width="1.1" height="1.1" fill="#5f9c9c" opacity="0.5"/>
<rect x="930.21" y="816.17" width="1.1" height="1.1" fill="#5f9c9c" opacity="0.5"/>
<rect x="941.59" y="815.09" width="1.1" height="1.1" fill="#5f9c9c" opacity="0.5"/>
<rect x="962.03" y="817.27" width="1.1" height="1.1" fill="#5f9c9c" opacity="0.5"/>
<rect x="941.6" y="813.69" width="1.1" height="1.1" fill="#5f9c9c" opacity="0.5"/>
<rect x="942.9" y="815.6" width="1.1" height="1.1" fill="#5f9c9c" opacity="0.5"/>
<rect x="935.52" y="814.68" width="1.1" height="1.1" fill="#5f9c9c" opacity="0.5"/>
<rect x="939.74" y="816.29" width="1.1" height="1.1" fill="#5f9c9c" opacity="0.5"/>
<rect x="961.62" y="816.46" width="1.1" height="1.1" fill="#5f9c9c" opacity="0.5"/>
<rect x="960.55" y="814.97" width="1.1" height="1.1" fill="#5f9c9c" opacity="0.5"/>
<rect x="937.29" y="814.95" width="1.1" height="1.1" fill="#5f9c9c" opacity="0.5"/>
<rect x="927.96" y="815.51" width="1.1" height="1.1" fill="#5f9c9c" opacity="0.5"/>
<rect x="957.09" y="817.35" width="1.1" height="1.1" fill="#5f9c9c" opacity="0.5"/>
<rect x="938.15" y="816.1" width="1.1" height="1.1" fill="#5f9c9c" opacity="0.5"/>
<rect x="950.62" y="814.16" width="1.1" height="1.1" fill="#5f9c9c" opacity="0.5"/>
<rect x="949.48" y="815.79" width="1.1" height="1.1" fill="#5f9c9c" opacity="0.5"/>
<rect x="950.99" y="814.85" width="1.1" height="1.1" fill="#5f9c9c" opacity="0.5"/>
<rect x="935.14" y="814.14" width="1.1" height="1.1" fill="#5f9c9c" opacity="0.5"/>
<rect x="950.48" y="815.88" width="1.1" height="1.1" fill="#5f9c9c" opacity="0.5"/>
<rect x="935.62" y="817.01" width="1.1" height="1.1" fill="#5f9c9c" opacity="0.5"/>
<rect x="946.36" y="815.28" width="1.1" height="1.1" fill="#5f9c9c" opacity="0.5"/>
<rect x="925.06" y="815.05" width="1.1" height="1.1" fill="#5f9c9c" opacity="0.5"/>
<rect x="949.76" y="815.53" width="1.1" height="1.1" fill="#5f9c9c" opacity="0.5"/>
<rect x="941.95" y="816.28" width="1.1" height="1.1" fill="#5f9c9c" opacity="0.5"/>
<rect x="954.48" y="814.5" width="1.1" height="1.1" fill="#5f9c9c" opacity="0.5"/>
<rect x="937.65" y="814.79" width="1.1" height="1.1" fill="#5f9c9c" opacity="0.5"/>
<rect x="955.62" y="814.53" width="1.1" height="1.1" fill="#5f9c9c" opacity="0.5"/>
<rect x="937.73" y="816.78" width="1.1" height="1.1" fill="#5f9c9c" opacity="0.5"/>
<rect x="950.39" y="814.16" width="1.1" height="1.1" fill="#5f9c9c" opacity="0.5"/>
<rect x="961.16" y="816.82" width="1.1" height="1.1" fill="#5f9c9c" opacity="0.5"/>
<rect x="944.44" y="815.43" width="1.1" height="1.1" fill="#5f9c9c" opacity="0.5"/>
<rect x="930.84" y="816.88" width="1.1" height="1.1" fill="#5f9c9c" opacity="0.5"/>
<rect x="942.49" y="813.85" width="1.1" height="1.1" fill="#5f9c9c" opacity="0.5"/>
<rect x="950.5" y="815.45" width="1.1" height="1.1" fill="#5f9c9c" opacity="0.5"/>
<rect x="931.06" y="814.25" width="1.1" height="1.1" fill="#5f9c9c" opacity="0.5"/>
<rect x="953.83" y="814.52" width="1.1" height="1.1" fill="#5f9c9c" opacity="0.5"/>
<rect x="940.37" y="815.06" width="1.1" height="1.1" fill="#5f9c9c" opacity="0.5"/>
<rect x="947.97" y="815.94" width="1.1" height="1.1" fill="#5f9c9c" opacity="0.5"/>
<rect x="951.59" y="814.42" width="1.1" height="1.1" fill="#5f9c9c" opacity="0.5"/>
<rect x="925.66" y="816.28" width="1.1" height="1.1" fill="#5f9c9c" opacity="0.5"/>
<rect x="948.96" y="816.59" width="1.1" height="1.1" fill="#5f9c9c" opacity="0.5"/>
<rect x="918.97" y="825.75" width="1.1" height="1.1" fill="#5f9c9c" opacity="0.5"/>
<rect x="915.03" y="825.05" width="1.1" height="1.1" fill="#5f9c9c" opacity="0.5"/>
<rect x="924.58" y="826.31" width="1.1" height="1.1" fill="#5f9c9c" opacity="0.5"/>
<rect x="917.07" y="826.57" width="1.1" height="1.1" fill="#5f9c9c" opacity="0.5"/>
<rect x="921.15" y="826.52" width="1.1" height="1.1" fill="#5f9c9c" opacity="0.5"/>
<rect x="914.89" y="826.82" width="1.1" height="1.1" fill="#5f9c9c" opacity="0.5"/>
<rect x="924.44" y="825.32" width="1.1" height="1.1" fill="#5f9c9c" opacity="0.5"/>
<rect x="927.21" y="827.14" width="1.1" height="1.1" fill="#5f9c9c" opacity="0.5"/>
<rect x="919.38" y="826.29" width="1.1" height="1.1" fill="#5f9c9c" opacity="0.5"/>
<rect x="923.11" y="826.24" width="1.1" height="1.1" fill="#5f9c9c" opacity="0.5"/>
<rect x="920.29" y="825.87" width="1.1" height="1.1" fill="#5f9c9c" opacity="0.5"/>
<rect x="932.57" y="826.51" width="1.1" height="1.1" fill="#5f9c9c" opacity="0.5"/>
<rect x="922.41" y="827.52" width="1.1" height="1.1" fill="#5f9c9c" opacity="0.5"/>
<rect x="916.21" y="826.55" width="1.1" height="1.1" fill="#5f9c9c" opacity="0.5"/>
<rect x="926.22" y="825.61" width="1.1" height="1.1" fill="#5f9c9c" opacity="0.5"/>
<rect x="935.39" y="827.31" width="1.1" height="1.1" fill="#5f9c9c" opacity="0.5"/>
<rect x="932.29" y="824.77" width="1.1" height="1.1" fill="#5f9c9c" opacity="0.5"/>
<rect x="928.37" y="827.1" width="1.1" height="1.1" fill="#5f9c9c" opacity="0.5"/>
<rect x="922.31" y="827.05" width="1.1" height="1.1" fill="#5f9c9c" opacity="0.5"/>
<rect x="926.63" y="827.25" width="1.1" height="1.1" fill="#5f9c9c" opacity="0.5"/>
<rect x="935.37" y="827.52" width="1.1" height="1.1" fill="#5f9c9c" opacity="0.5"/>
<rect x="921.9" y="826.01" width="1.1" height="1.1" fill="#5f9c9c" opacity="0.5"/>
<rect x="933.95" y="826.71" width="1.1" height="1.1" fill="#5f9c9c" opacity="0.5"/>
<rect x="926.67" y="826.27" width="1.1" height="1.1" fill="#5f9c9c" opacity="0.5"/>
<rect x="927.77" y="827.1" width="1.1" height="1.1" fill="#5f9c9c" opacity="0.5"/>
<rect x="933.91" y="827.28" width="1.1" height="1.1" fill="#5f9c9c" opacity="0.5"/>
<rect x="922.45" y="825.65" width="1.1" height="1.1" fill="#5f9c9c" opacity="0.5"/>
<rect x="920.58" y="826.54" width="1.1" height="1.1" fill="#5f9c9c" opacity="0.5"/>
<rect x="935.71" y="824.53" width="1.1" height="1.1" fill="#5f9c9c" opacity="0.5"/>
<rect x="934.4" y="827.9" width="1.1" height="1.1" fill="#5f9c9c" opacity="0.5"/>
<rect x="942.85" y="833.12" width="1.1" height="1.1" fill="#5f9c9c" opacity="0.5"/>
<rect x="936.68" y="835.91" width="1.1" height="1.1" fill="#5f9c9c" opacity="0.5"/>
<rect x="931.67" y="832.15" width="1.1" height="1.1" fill="#5f9c9c" opacity="0.5"/>
<rect x="936.4" y="835.73" width="1.1" height="1.1" fill="#5f9c9c" opacity="0.5"/>
<rect x="923.67" y="832.81" width="1.1" height="1.1" fill="#5f9c9c" opacity="0.5"/>
<rect x="944.45" y="833.35" width="1.1" height="1.1" fill="#5f9c9c" opacity="0.5"/>
<rect x="933.4" y="832.85" width="1.1" height="1.1" fill="#5f9c9c" opacity="0.5"/>
<rect x="957.16" y="834.86" width="1.1" height="1.1" fill="#5f9c9c" opacity="0.5"/>
<rect x="906.73" y="832.55" width="1.1" height="1.1" fill="#5f9c9c" opacity="0.5"/>
<rect x="963.89" y="833.13" width="1.1" height="1.1" fill="#5f9c9c" opacity="0.5"/>
<rect x="954.38" y="833.3" width="1.1" height="1.1" fill="#5f9c9c" opacity="0.5"/>
<rect x="915.51" y="834.02" width="1.1" height="1.1" fill="#5f9c9c" opacity="0.5"/>
<rect x="967.21" y="832.94" width="1.1" height="1.1" fill="#5f9c9c" opacity="0.5"/>
<rect x="935.33" y="834.52" width="1.1" height="1.1" fill="#5f9c9c" opacity="0.5"/>
<rect x="945.89" y="832.06" width="1.1" height="1.1" fill="#5f9c9c" opacity="0.5"/>
<rect x="913.24" y="832.35" width="1.1" height="1.1" fill="#5f9c9c" opacity="0.5"/>
<rect x="953.05" y="832.92" width="1.1" height="1.1" fill="#5f9c9c" opacity="0.5"/>
<rect x="926.75" y="834.38" width="1.1" height="1.1" fill="#5f9c9c" opacity="0.5"/>
<rect x="924.31" y="832.26" width="1.1" height="1.1" fill="#5f9c9c" opacity="0.5"/>
<rect x="928.29" y="833.09" width="1.1" height="1.1" fill="#5f9c9c" opacity="0.5"/>
<rect x="952.09" y="833.07" width="1.1" height="1.1" fill="#5f9c9c" opacity="0.5"/>
<rect x="921.56" y="833.15" width="1.1" height="1.1" fill="#5f9c9c" opacity="0.5"/>
<rect x="934.15" y="834.98" width="1.1" height="1.1" fill="#5f9c9c" opacity="0.5"/>
<rect x="939.73" y="832.3" width="1.1" height="1.1" fill="#5f9c9c" opacity="0.5"/>
<rect x="906.81" y="833.46" width="1.1" height="1.1" fill="#5f9c9c" opacity="0.5"/>
<rect x="941.6" y="832.31" width="1.1" height="1.1" fill="#5f9c9c" opacity="0.5"/>
<rect x="949.81" y="832.56" width="1.1" height="1.1" fill="#5f9c9c" opacity="0.5"/>
<rect x="962.43" y="832.49" width="1.1" height="1.1" fill="#5f9c9c" opacity="0.5"/>
<rect x="929.81" y="831.86" width="1.1" height="1.1" fill="#5f9c9c" opacity="0.5"/>
<rect x="918.09" y="834.43" width="1.1" height="1.1" fill="#5f9c9c" opacity="0.5"/>
<rect x="924.29" y="833.45" width="1.1" height="1.1" fill="#5f9c9c" opacity="0.5"/>
<rect x="957.75" y="832.98" width="1.1" height="1.1" fill="#5f9c9c" opacity="0.5"/>
<rect x="948.97" y="832.58" width="1.1" height="1.1" fill="#5f9c9c" opacity="0.5"/>
<rect x="954.31" y="833.6" width="1.1" height="1.1" fill="#5f9c9c" opacity="0.5"/>
<rect x="962.36" y="833.95" width="1.1" height="1.1" fill="#5f9c9c" opacity="0.5"/>
<rect x="939.95" y="834.12" width="1.1" height="1.1" fill="#5f9c9c" opacity="0.5"/>
<rect x="936.76" y="833.02" width="1.1" height="1.1" fill="#5f9c9c" opacity="0.5"/>
<rect x="942.23" y="833.76" width="1.1" height="1.1" fill="#5f9c9c" opacity="0.5"/>
<rect x="956.24" y="833.9" width="1.1" height="1.1" fill="#5f9c9c" opacity="0.5"/>
<rect x="956.72" y="833.56" width="1.1" height="1.1" fill="#5f9c9c" opacity="0.5"/>
<rect x="954.99" y="833.17" width="1.1" height="1.1" fill="#5f9c9c" opacity="0.5"/>
<rect x="950.7" y="833.1" width="1.1" height="1.1" fill="#5f9c9c" opacity="0.5"/>
<rect x="966.58" y="834.74" width="1.1" height="1.1" fill="#5f9c9c" opacity="0.5"/>
<rect x="908.94" y="833.27" width="1.1" height="1.1" fill="#5f9c9c" opacity="0.5"/>
<rect x="958.11" y="833.54" width="1.1" height="1.1" fill="#5f9c9c" opacity="0.5"/>
<rect x="964.94" y="834.61" width="1.1" height="1.1" fill="#5f9c9c" opacity="0.5"/>
<rect x="950.08" y="833.8" width="1.1" height="1.1" fill="#5f9c9c" opacity="0.5"/>
<rect x="962.82" y="833.87" width="1.1" height="1.1" fill="#5f9c9c" opacity="0.5"/>
<rect x="915.19" y="832.54" width="1.1" height="1.1" fill="#5f9c9c" opacity="0.5"/>
<rect x="915.9" y="832.66" width="1.1" height="1.1" fill="#5f9c9c" opacity="0.5"/>
<rect x="945.37" y="800.96" width="1.1" height="1.1" fill="#5f9c9c" opacity="0.5"/>
<rect x="943.66" y="800.65" width="1.1" height="1.1" fill="#5f9c9c" opacity="0.5"/>
<rect x="941.5" y="801.67" width="1.1" height="1.1" fill="#5f9c9c" opacity="0.5"/>
<rect x="946.21" y="800.96" width="1.1" height="1.1" fill="#5f9c9c" opacity="0.5"/>
<rect x="947.16" y="801.19" width="1.1" height="1.1" fill="#5f9c9c" opacity="0.5"/>
<rect x="943.21" y="801.27" width="1.1" height="1.1" fill="#5f9c9c" opacity="0.5"/>
<rect x="957.38" y="784.28" width="1.1" height="1.1" fill="#5f9c9c" opacity="0.5"/>
<rect x="954.73" y="786.63" width="1.1" height="1.1" fill="#5f9c9c" opacity="0.5"/>
<rect x="951.01" y="786.31" width="1.1" height="1.1" fill="#5f9c9c" opacity="0.5"/>
<rect x="957.74" y="785.98" width="1.1" height="1.1" fill="#5f9c9c" opacity="0.5"/>
<rect x="956.27" y="787.5" width="1.1" height="1.1" fill="#5f9c9c" opacity="0.5"/>
<rect x="899.6" y="844.34" width="1.1" height="1.1" fill="#5f9c9c" opacity="0.5"/>
<rect x="900.43" y="843.5" width="1.1" height="1.1" fill="#5f9c9c" opacity="0.5"/>
<rect x="902.14" y="847.34" width="1.1" height="1.1" fill="#5f9c9c" opacity="0.5"/>
<rect x="896.52" y="849.89" width="1.1" height="1.1" fill="#5f9c9c" opacity="0.5"/>
<rect x="906.76" y="841.39" width="1.1" height="1.1" fill="#5f9c9c" opacity="0.5"/>
<rect x="910.49" y="850.9" width="1.1" height="1.1" fill="#5f9c9c" opacity="0.5"/>
<rect x="911.92" y="846.07" width="1.1" height="1.1" fill="#5f9c9c" opacity="0.5"/>
<rect x="901.53" y="846.19" width="1.1" height="1.1" fill="#5f9c9c" opacity="0.5"/>
<rect x="901.35" y="852.33" width="1.1" height="1.1" fill="#5f9c9c" opacity="0.5"/>
<rect x="909.12" y="848.09" width="1.1" height="1.1" fill="#5f9c9c" opacity="0.5"/>
<rect x="915.51" y="842.7" width="1.1" height="1.1" fill="#5f9c9c" opacity="0.5"/>
<rect x="904.21" y="847.69" width="1.1" height="1.1" fill="#5f9c9c" opacity="0.5"/>
<rect x="902.2" y="847.05" width="1.1" height="1.1" fill="#5f9c9c" opacity="0.5"/>
<rect x="901.65" y="854.9" width="1.1" height="1.1" fill="#5f9c9c" opacity="0.5"/>
<rect x="915.28" y="845.75" width="1.1" height="1.1" fill="#5f9c9c" opacity="0.5"/>
<rect x="899.8" y="857.85" width="1.1" height="1.1" fill="#5f9c9c" opacity="0.5"/>
<rect x="914.03" y="842.36" width="1.1" height="1.1" fill="#5f9c9c" opacity="0.5"/>
<rect x="894.24" y="852.03" width="1.1" height="1.1" fill="#5f9c9c" opacity="0.5"/>
<rect x="909.87" y="844.97" width="1.1" height="1.1" fill="#5f9c9c" opacity="0.5"/>
<rect x="906.97" y="843.69" width="1.1" height="1.1" fill="#5f9c9c" opacity="0.5"/>
<rect x="910.56" y="844.3" width="1.1" height="1.1" fill="#5f9c9c" opacity="0.5"/>
<rect x="908.27" y="853.82" width="1.1" height="1.1" fill="#5f9c9c" opacity="0.5"/>
<rect x="911.91" y="841.63" width="1.1" height="1.1" fill="#5f9c9c" opacity="0.5"/>
<rect x="895.11" y="837.93" width="1.1" height="1.1" fill="#5f9c9c" opacity="0.5"/>
<rect x="908.21" y="840.31" width="1.1" height="1.1" fill="#5f9c9c" opacity="0.5"/>
<rect x="902.71" y="839.58" width="1.1" height="1.1" fill="#5f9c9c" opacity="0.5"/>
<rect x="899.31" y="845.44" width="1.1" height="1.1" fill="#5f9c9c" opacity="0.5"/>
<rect x="905.19" y="850.79" width="1.1" height="1.1" fill="#5f9c9c" opacity="0.5"/>
<rect x="904.39" y="858.03" width="1.1" height="1.1" fill="#5f9c9c" opacity="0.5"/>
<rect x="906.58" y="838.49" width="1.1" height="1.1" fill="#5f9c9c" opacity="0.5"/>
<rect x="904.75" y="853.26" width="1.1" height="1.1" fill="#5f9c9c" opacity="0.5"/>
<rect x="903.59" y="852.95" width="1.1" height="1.1" fill="#5f9c9c" opacity="0.5"/>
<rect x="898.38" y="842.01" width="1.1" height="1.1" fill="#5f9c9c" opacity="0.5"/>
<rect x="906.41" y="849.79" width="1.1" height="1.1" fill="#5f9c9c" opacity="0.5"/>
<rect x="905.56" y="850.08" width="1.1" height="1.1" fill="#5f9c9c" opacity="0.5"/>
<rect x="908.34" y="839.15" width="1.1" height="1.1" fill="#5f9c9c" opacity="0.5"/>
<rect x="911.5" y="849.65" width="1.1" height="1.1" fill="#5f9c9c" opacity="0.5"/>
<rect x="907.23" y="846.79" width="1.1" height="1.1" fill="#5f9c9c" opacity="0.5"/>
<rect x="906.99" y="846.43" width="1.1" height="1.1" fill="#5f9c9c" opacity="0.5"/>
<rect x="907.74" y="845.99" width="1.1" height="1.1" fill="#5f9c9c" opacity="0.5"/>
<rect x="903.74" y="851.82" width="1.1" height="1.1" fill="#5f9c9c" opacity="0.5"/>
<rect x="901.01" y="854.75" width="1.1" height="1.1" fill="#5f9c9c" opacity="0.5"/>
<rect x="900.18" y="844.58" width="1.1" height="1.1" fill="#5f9c9c" opacity="0.5"/>
<rect x="897.71" y="849.8" width="1.1" height="1.1" fill="#5f9c9c" opacity="0.5"/>
<rect x="902.59" y="845.18" width="1.1" height="1.1" fill="#5f9c9c" opacity="0.5"/>
<rect x="899.34" y="843.43" width="1.1" height="1.1" fill="#5f9c9c" opacity="0.5"/>
<rect x="895.16" y="849.15" width="1.1" height="1.1" fill="#5f9c9c" opacity="0.5"/>
<rect x="906.92" y="851.09" width="1.1" height="1.1" fill="#5f9c9c" opacity="0.5"/>
<rect x="904.23" y="852.02" width="1.1" height="1.1" fill="#5f9c9c" opacity="0.5"/>
<rect x="906.37" y="852.26" width="1.1" height="1.1" fill="#5f9c9c" opacity="0.5"/>
<rect x="902.65" y="845.08" width="1.1" height="1.1" fill="#5f9c9c" opacity="0.5"/>
<rect x="909.65" y="845.55" width="1.1" height="1.1" fill="#5f9c9c" opacity="0.5"/>
<rect x="912.86" y="846.69" width="1.1" height="1.1" fill="#5f9c9c" opacity="0.5"/>
<rect x="900.15" y="847.79" width="1.1" height="1.1" fill="#5f9c9c" opacity="0.5"/>
<rect x="912.29" y="854.38" width="1.1" height="1.1" fill="#5f9c9c" opacity="0.5"/>
<rect x="900.49" y="834.33" width="1.1" height="1.1" fill="#5f9c9c" opacity="0.5"/>
<rect x="910.29" y="849.19" width="1.1" height="1.1" fill="#5f9c9c" opacity="0.5"/>
<rect x="903.65" y="848.31" width="1.1" height="1.1" fill="#5f9c9c" opacity="0.5"/>
<rect x="897.67" y="853.7" width="1.1" height="1.1" fill="#5f9c9c" opacity="0.5"/>
<rect x="905.63" y="853.68" width="1.1" height="1.1" fill="#5f9c9c" opacity="0.5"/>
<rect x="903.11" y="845.95" width="1.1" height="1.1" fill="#5f9c9c" opacity="0.5"/>
<rect x="905.67" y="857.48" width="1.1" height="1.1" fill="#5f9c9c" opacity="0.5"/>
<rect x="908.99" y="835.01" width="1.1" height="1.1" fill="#5f9c9c" opacity="0.5"/>
<rect x="904.33" y="851.03" width="1.1" height="1.1" fill="#5f9c9c" opacity="0.5"/>
<rect x="905.02" y="852.36" width="1.1" height="1.1" fill="#5f9c9c" opacity="0.5"/>
<rect x="905.41" y="851.08" width="1.1" height="1.1" fill="#5f9c9c" opacity="0.5"/>
<rect x="905.23" y="843.56" width="1.1" height="1.1" fill="#5f9c9c" opacity="0.5"/>
<rect x="906.32" y="848.7" width="1.1" height="1.1" fill="#5f9c9c" opacity="0.5"/>
<rect x="904.09" y="850.58" width="1.1" height="1.1" fill="#5f9c9c" opacity="0.5"/>
<rect x="902.92" y="841.99" width="1.1" height="1.1" fill="#5f9c9c" opacity="0.5"/>
<rect x="903.25" y="845.15" width="1.1" height="1.1" fill="#5f9c9c" opacity="0.5"/>
<rect x="903.09" y="846.34" width="1.1" height="1.1" fill="#5f9c9c" opacity="0.5"/>
<rect x="906.15" y="835.86" width="1.1" height="1.1" fill="#5f9c9c" opacity="0.5"/>
<rect x="900.14" y="838.86" width="1.1" height="1.1" fill="#5f9c9c" opacity="0.5"/>
<rect x="896.9" y="847.54" width="1.1" height="1.1" fill="#5f9c9c" opacity="0.5"/>
<rect x="904.64" y="841.43" width="1.1" height="1.1" fill="#5f9c9c" opacity="0.5"/>
<rect x="901.91" y="842.71" width="1.1" height="1.1" fill="#5f9c9c" opacity="0.5"/>
<rect x="901.11" y="841.34" width="1.1" height="1.1" fill="#5f9c9c" opacity="0.5"/>
<rect x="896.92" y="851.18" width="1.1" height="1.1" fill="#5f9c9c" opacity="0.5"/>
<rect x="900.97" y="837.97" width="1.1" height="1.1" fill="#5f9c9c" opacity="0.5"/>
<rect x="907.02" y="847.75" width="1.1" height="1.1" fill="#5f9c9c" opacity="0.5"/>
<rect x="906.43" y="846.47" width="1.1" height="1.1" fill="#5f9c9c" opacity="0.5"/>
<rect x="905.89" y="848.69" width="1.1" height="1.1" fill="#5f9c9c" opacity="0.5"/>
<rect x="892.86" y="846.25" width="1.1" height="1.1" fill="#5f9c9c" opacity="0.5"/>
<rect x="906.42" y="850.75" width="1.1" height="1.1" fill="#5f9c9c" opacity="0.5"/>
<rect x="905.73" y="852.13" width="1.1" height="1.1" fill="#5f9c9c" opacity="0.5"/>
<rect x="906.7" y="843.82" width="1.1" height="1.1" fill="#5f9c9c" opacity="0.5"/>
<rect x="901.53" y="854.9" width="1.1" height="1.1" fill="#5f9c9c" opacity="0.5"/>
<rect x="906.99" y="850.68" width="1.1" height="1.1" fill="#5f9c9c" opacity="0.5"/>
<rect x="904.73" y="846.18" width="1.1" height="1.1" fill="#5f9c9c" opacity="0.5"/>
<rect x="962.82" y="849.96" width="1.1" height="1.1" fill="#5f9c9c" opacity="0.5"/>
<rect x="960.46" y="841.16" width="1.1" height="1.1" fill="#5f9c9c" opacity="0.5"/>
<rect x="967" y="833.3" width="1.1" height="1.1" fill="#5f9c9c" opacity="0.5"/>
<rect x="951.05" y="839.38" width="1.1" height="1.1" fill="#5f9c9c" opacity="0.5"/>
<rect x="946.44" y="839.35" width="1.1" height="1.1" fill="#5f9c9c" opacity="0.5"/>
<rect x="952.77" y="848.46" width="1.1" height="1.1" fill="#5f9c9c" opacity="0.5"/>
<rect x="946.85" y="854.04" width="1.1" height="1.1" fill="#5f9c9c" opacity="0.5"/>
<rect x="953.03" y="843.59" width="1.1" height="1.1" fill="#5f9c9c" opacity="0.5"/>
<rect x="950.92" y="847.17" width="1.1" height="1.1" fill="#5f9c9c" opacity="0.5"/>
<rect x="949.83" y="846.46" width="1.1" height="1.1" fill="#5f9c9c" opacity="0.5"/>
<rect x="958.1" y="847.2" width="1.1" height="1.1" fill="#5f9c9c" opacity="0.5"/>
<rect x="960.99" y="842.83" width="1.1" height="1.1" fill="#5f9c9c" opacity="0.5"/>
<rect x="951.06" y="854.14" width="1.1" height="1.1" fill="#5f9c9c" opacity="0.5"/>
<rect x="960.84" y="843.69" width="1.1" height="1.1" fill="#5f9c9c" opacity="0.5"/>
<rect x="955.62" y="847.92" width="1.1" height="1.1" fill="#5f9c9c" opacity="0.5"/>
<rect x="957.36" y="837.75" width="1.1" height="1.1" fill="#5f9c9c" opacity="0.5"/>
<rect x="967.08" y="852.62" width="1.1" height="1.1" fill="#5f9c9c" opacity="0.5"/>
<rect x="953.18" y="845.72" width="1.1" height="1.1" fill="#5f9c9c" opacity="0.5"/>
<rect x="963.58" y="841.58" width="1.1" height="1.1" fill="#5f9c9c" opacity="0.5"/>
<rect x="960.99" y="852.71" width="1.1" height="1.1" fill="#5f9c9c" opacity="0.5"/>
<rect x="956.93" y="849.36" width="1.1" height="1.1" fill="#5f9c9c" opacity="0.5"/>
<rect x="946.19" y="850.92" width="1.1" height="1.1" fill="#5f9c9c" opacity="0.5"/>
<rect x="961.07" y="849.35" width="1.1" height="1.1" fill="#5f9c9c" opacity="0.5"/>
<rect x="965.91" y="831.95" width="1.1" height="1.1" fill="#5f9c9c" opacity="0.5"/>
<rect x="961.7" y="845.8" width="1.1" height="1.1" fill="#5f9c9c" opacity="0.5"/>
<rect x="952.82" y="839.67" width="1.1" height="1.1" fill="#5f9c9c" opacity="0.5"/>
<rect x="970.42" y="838.93" width="1.1" height="1.1" fill="#5f9c9c" opacity="0.5"/>
<rect x="958.02" y="835.66" width="1.1" height="1.1" fill="#5f9c9c" opacity="0.5"/>
<rect x="960.52" y="851.63" width="1.1" height="1.1" fill="#5f9c9c" opacity="0.5"/>
<rect x="952.83" y="852.71" width="1.1" height="1.1" fill="#5f9c9c" opacity="0.5"/>
<rect x="954.41" y="853.52" width="1.1" height="1.1" fill="#5f9c9c" opacity="0.5"/>
<rect x="964" y="843.3" width="1.1" height="1.1" fill="#5f9c9c" opacity="0.5"/>
<rect x="957.32" y="846.48" width="1.1" height="1.1" fill="#5f9c9c" opacity="0.5"/>
<rect x="955.95" y="839.04" width="1.1" height="1.1" fill="#5f9c9c" opacity="0.5"/>
<rect x="952.46" y="849.28" width="1.1" height="1.1" fill="#5f9c9c" opacity="0.5"/>
<rect x="951.46" y="845.99" width="1.1" height="1.1" fill="#5f9c9c" opacity="0.5"/>
<rect x="961.73" y="847.25" width="1.1" height="1.1" fill="#5f9c9c" opacity="0.5"/>
<rect x="964.81" y="838.91" width="1.1" height="1.1" fill="#5f9c9c" opacity="0.5"/>
<rect x="965.36" y="845.27" width="1.1" height="1.1" fill="#5f9c9c" opacity="0.5"/>
<rect x="962.73" y="845.17" width="1.1" height="1.1" fill="#5f9c9c" opacity="0.5"/>
<rect x="976.15" y="851.1" width="1.1" height="1.1" fill="#5f9c9c" opacity="0.5"/>
<rect x="944.68" y="840.62" width="1.1" height="1.1" fill="#5f9c9c" opacity="0.5"/>
<rect x="951.4" y="851.86" width="1.1" height="1.1" fill="#5f9c9c" opacity="0.5"/>
<rect x="966.57" y="843.36" width="1.1" height="1.1" fill="#5f9c9c" opacity="0.5"/>
<rect x="956.33" y="846.27" width="1.1" height="1.1" fill="#5f9c9c" opacity="0.5"/>
<rect x="959" y="842.45" width="1.1" height="1.1" fill="#5f9c9c" opacity="0.5"/>
<rect x="941.45" y="848.25" width="1.1" height="1.1" fill="#5f9c9c" opacity="0.5"/>
<rect x="968.11" y="841" width="1.1" height="1.1" fill="#5f9c9c" opacity="0.5"/>
<rect x="965.71" y="850.31" width="1.1" height="1.1" fill="#5f9c9c" opacity="0.5"/>
<rect x="948.77" y="846.75" width="1.1" height="1.1" fill="#5f9c9c" opacity="0.5"/>
<rect x="949.72" y="851.97" width="1.1" height="1.1" fill="#5f9c9c" opacity="0.5"/>
<rect x="956.74" y="841.78" width="1.1" height="1.1" fill="#5f9c9c" opacity="0.5"/>
<rect x="953.88" y="841.06" width="1.1" height="1.1" fill="#5f9c9c" opacity="0.5"/>
<rect x="960.14" y="849.97" width="1.1" height="1.1" fill="#5f9c9c" opacity="0.5"/>
<rect x="957.23" y="840.05" width="1.1" height="1.1" fill="#5f9c9c" opacity="0.5"/>
<rect x="961.56" y="843.28" width="1.1" height="1.1" fill="#5f9c9c" opacity="0.5"/>
<rect x="949.42" y="855.67" width="1.1" height="1.1" fill="#5f9c9c" opacity="0.5"/>
<rect x="954.78" y="852.96" width="1.1" height="1.1" fill="#5f9c9c" opacity="0.5"/>
<rect x="951.24" y="841.49" width="1.1" height="1.1" fill="#5f9c9c" opacity="0.5"/>
<rect x="948.57" y="846.65" width="1.1" height="1.1" fill="#5f9c9c" opacity="0.5"/>
<rect x="949.85" y="837.64" width="1.1" height="1.1" fill="#5f9c9c" opacity="0.5"/>
<rect x="950.33" y="840.25" width="1.1" height="1.1" fill="#5f9c9c" opacity="0.5"/>
<rect x="955.41" y="847.19" width="1.1" height="1.1" fill="#5f9c9c" opacity="0.5"/>
<rect x="957.61" y="840.22" width="1.1" height="1.1" fill="#5f9c9c" opacity="0.5"/>
<rect x="963.48" y="845.54" width="1.1" height="1.1" fill="#5f9c9c" opacity="0.5"/>
<rect x="945.11" y="840.28" width="1.1" height="1.1" fill="#5f9c9c" opacity="0.5"/>
<rect x="971.34" y="843.55" width="1.1" height="1.1" fill="#5f9c9c" opacity="0.5"/>
<rect x="967.21" y="853.78" width="1.1" height="1.1" fill="#5f9c9c" opacity="0.5"/>
<rect x="961.34" y="837.91" width="1.1" height="1.1" fill="#5f9c9c" opacity="0.5"/>
<rect x="940.79" y="852.11" width="1.1" height="1.1" fill="#5f9c9c" opacity="0.5"/>
<rect x="949.76" y="850.03" width="1.1" height="1.1" fill="#5f9c9c" opacity="0.5"/>
<rect x="946.43" y="841.91" width="1.1" height="1.1" fill="#5f9c9c" opacity="0.5"/>
<rect x="953.12" y="832.6" width="1.1" height="1.1" fill="#5f9c9c" opacity="0.5"/>
<rect x="954.64" y="846.07" width="1.1" height="1.1" fill="#5f9c9c" opacity="0.5"/>
<rect x="975.19" y="839.35" width="1.1" height="1.1" fill="#5f9c9c" opacity="0.5"/>
<rect x="954.29" y="850.8" width="1.1" height="1.1" fill="#5f9c9c" opacity="0.5"/>
<rect x="956.33" y="848.7" width="1.1" height="1.1" fill="#5f9c9c" opacity="0.5"/>
<rect x="965.39" y="855.35" width="1.1" height="1.1" fill="#5f9c9c" opacity="0.5"/>
<rect x="947.11" y="840.61" width="1.1" height="1.1" fill="#5f9c9c" opacity="0.5"/>
<rect x="951.66" y="851.91" width="1.1" height="1.1" fill="#5f9c9c" opacity="0.5"/>
<rect x="966.61" y="819.26" width="1.1" height="1.1" fill="#5f9c9c" opacity="0.5"/>
<rect x="961.39" y="819.4" width="1.1" height="1.1" fill="#5f9c9c" opacity="0.5"/>
<rect x="968.43" y="827.19" width="1.1" height="1.1" fill="#5f9c9c" opacity="0.5"/>
<rect x="966.14" y="825.54" width="1.1" height="1.1" fill="#5f9c9c" opacity="0.5"/>
<rect x="968.09" y="828.53" width="1.1" height="1.1" fill="#5f9c9c" opacity="0.5"/>
<rect x="961.94" y="820.9" width="1.1" height="1.1" fill="#5f9c9c" opacity="0.5"/>
<rect x="958.79" y="826.53" width="1.1" height="1.1" fill="#5f9c9c" opacity="0.5"/>
<rect x="964.47" y="818.2" width="1.1" height="1.1" fill="#5f9c9c" opacity="0.5"/>
<rect x="960.56" y="831.72" width="1.1" height="1.1" fill="#5f9c9c" opacity="0.5"/>
<rect x="959.31" y="821.99" width="1.1" height="1.1" fill="#5f9c9c" opacity="0.5"/>
<rect x="965.07" y="816.28" width="1.1" height="1.1" fill="#5f9c9c" opacity="0.5"/>
<rect x="961.85" y="825.04" width="1.1" height="1.1" fill="#5f9c9c" opacity="0.5"/>
<rect x="965.92" y="816.64" width="1.1" height="1.1" fill="#5f9c9c" opacity="0.5"/>
<rect x="957.6" y="826.71" width="1.1" height="1.1" fill="#5f9c9c" opacity="0.5"/>
<rect x="964.03" y="830.76" width="1.1" height="1.1" fill="#5f9c9c" opacity="0.5"/>
<rect x="966.22" y="823.89" width="1.1" height="1.1" fill="#5f9c9c" opacity="0.5"/>
<rect x="961.87" y="828.57" width="1.1" height="1.1" fill="#5f9c9c" opacity="0.5"/>
<rect x="967.61" y="821.92" width="1.1" height="1.1" fill="#5f9c9c" opacity="0.5"/>
<rect x="958.95" y="826.04" width="1.1" height="1.1" fill="#5f9c9c" opacity="0.5"/>
<rect x="961.98" y="817.43" width="1.1" height="1.1" fill="#5f9c9c" opacity="0.5"/>
<rect x="963.86" y="830.21" width="1.1" height="1.1" fill="#5f9c9c" opacity="0.5"/>
<rect x="962.41" y="830.23" width="1.1" height="1.1" fill="#5f9c9c" opacity="0.5"/>
<rect x="959.14" y="829.29" width="1.1" height="1.1" fill="#5f9c9c" opacity="0.5"/>
<rect x="962.1" y="823.32" width="1.1" height="1.1" fill="#5f9c9c" opacity="0.5"/>
<rect x="956.87" y="824.13" width="1.1" height="1.1" fill="#5f9c9c" opacity="0.5"/>
<rect x="963.46" y="827.21" width="1.1" height="1.1" fill="#5f9c9c" opacity="0.5"/>
<rect x="965.14" y="828.51" width="1.1" height="1.1" fill="#5f9c9c" opacity="0.5"/>
<rect x="964.33" y="824.62" width="1.1" height="1.1" fill="#5f9c9c" opacity="0.5"/>
<rect x="962.12" y="826.65" width="1.1" height="1.1" fill="#5f9c9c" opacity="0.5"/>
<rect x="957.5" y="829.68" width="1.1" height="1.1" fill="#5f9c9c" opacity="0.5"/>
<rect x="909.19" y="843.66" width="1.1" height="1.1" fill="#5f9c9c" opacity="0.5"/>
<rect x="903.95" y="856.8" width="1.1" height="1.1" fill="#5f9c9c" opacity="0.5"/>
<rect x="921.12" y="850.52" width="1.1" height="1.1" fill="#5f9c9c" opacity="0.5"/>
<rect x="923.67" y="849.37" width="1.1" height="1.1" fill="#5f9c9c" opacity="0.5"/>
<rect x="926.68" y="849.16" width="1.1" height="1.1" fill="#5f9c9c" opacity="0.5"/>
<rect x="933.35" y="837.07" width="1.1" height="1.1" fill="#5f9c9c" opacity="0.5"/>
<rect x="928.25" y="847.19" width="1.1" height="1.1" fill="#5f9c9c" opacity="0.5"/>
<rect x="920.72" y="840.11" width="1.1" height="1.1" fill="#5f9c9c" opacity="0.5"/>
<rect x="931.32" y="844.84" width="1.1" height="1.1" fill="#5f9c9c" opacity="0.5"/>
<rect x="927.93" y="841.75" width="1.1" height="1.1" fill="#5f9c9c" opacity="0.5"/>
<rect x="919.43" y="844" width="1.1" height="1.1" fill="#5f9c9c" opacity="0.5"/>
<rect x="919.39" y="857.98" width="1.1" height="1.1" fill="#5f9c9c" opacity="0.5"/>
<rect x="931.55" y="846.27" width="1.1" height="1.1" fill="#5f9c9c" opacity="0.5"/>
<rect x="916.91" y="853.27" width="1.1" height="1.1" fill="#5f9c9c" opacity="0.5"/>
<rect x="931.78" y="840.34" width="1.1" height="1.1" fill="#5f9c9c" opacity="0.5"/>
<rect x="936.76" y="853.32" width="1.1" height="1.1" fill="#5f9c9c" opacity="0.5"/>
<rect x="920.12" y="845.24" width="1.1" height="1.1" fill="#5f9c9c" opacity="0.5"/>
<rect x="935.27" y="843.26" width="1.1" height="1.1" fill="#5f9c9c" opacity="0.5"/>
<rect x="909.03" y="842.09" width="1.1" height="1.1" fill="#5f9c9c" opacity="0.5"/>
<rect x="921.04" y="840.24" width="1.1" height="1.1" fill="#5f9c9c" opacity="0.5"/>
<rect x="940.14" y="845.08" width="1.1" height="1.1" fill="#5f9c9c" opacity="0.5"/>
<rect x="924.26" y="842.78" width="1.1" height="1.1" fill="#5f9c9c" opacity="0.5"/>
<rect x="927.92" y="845.94" width="1.1" height="1.1" fill="#5f9c9c" opacity="0.5"/>
<rect x="921.47" y="846.91" width="1.1" height="1.1" fill="#5f9c9c" opacity="0.5"/>
<rect x="928.79" y="827.24" width="1.1" height="1.1" fill="#5f9c9c" opacity="0.5"/>
<rect x="928.43" y="840.62" width="1.1" height="1.1" fill="#5f9c9c" opacity="0.5"/>
<rect x="922.25" y="850.14" width="1.1" height="1.1" fill="#5f9c9c" opacity="0.5"/>
<rect x="922.97" y="839.42" width="1.1" height="1.1" fill="#5f9c9c" opacity="0.5"/>
<rect x="938.07" y="859.28" width="1.1" height="1.1" fill="#5f9c9c" opacity="0.5"/>
<rect x="925.14" y="846.5" width="1.1" height="1.1" fill="#5f9c9c" opacity="0.5"/>
<rect x="925.93" y="847.28" width="1.1" height="1.1" fill="#5f9c9c" opacity="0.5"/>
<rect x="934.98" y="841.05" width="1.1" height="1.1" fill="#5f9c9c" opacity="0.5"/>
<rect x="932.2" y="851.98" width="1.1" height="1.1" fill="#5f9c9c" opacity="0.5"/>
<rect x="926.78" y="854.81" width="1.1" height="1.1" fill="#5f9c9c" opacity="0.5"/>
<rect x="923" y="844.4" width="1.1" height="1.1" fill="#5f9c9c" opacity="0.5"/>
<rect x="925.32" y="844.14" width="1.1" height="1.1" fill="#5f9c9c" opacity="0.5"/>
<rect x="947.52" y="844.1" width="1.1" height="1.1" fill="#5f9c9c" opacity="0.5"/>
<rect x="914.34" y="853.95" width="1.1" height="1.1" fill="#5f9c9c" opacity="0.5"/>
<rect x="927.68" y="848.65" width="1.1" height="1.1" fill="#5f9c9c" opacity="0.5"/>
<rect x="921.57" y="846.87" width="1.1" height="1.1" fill="#5f9c9c" opacity="0.5"/>
<rect x="919.54" y="850.12" width="1.1" height="1.1" fill="#5f9c9c" opacity="0.5"/>
<rect x="920.55" y="853.92" width="1.1" height="1.1" fill="#5f9c9c" opacity="0.5"/>
<rect x="937.01" y="853.61" width="1.1" height="1.1" fill="#5f9c9c" opacity="0.5"/>
<rect x="921.94" y="857.79" width="1.1" height="1.1" fill="#5f9c9c" opacity="0.5"/>
<rect x="917.68" y="856.12" width="1.1" height="1.1" fill="#5f9c9c" opacity="0.5"/>
<rect x="929.38" y="859.07" width="1.1" height="1.1" fill="#5f9c9c" opacity="0.5"/>
<rect x="936.18" y="854.72" width="1.1" height="1.1" fill="#5f9c9c" opacity="0.5"/>
<rect x="931.32" y="853.88" width="1.1" height="1.1" fill="#5f9c9c" opacity="0.5"/>
<rect x="928.47" y="853.93" width="1.1" height="1.1" fill="#5f9c9c" opacity="0.5"/>
<rect x="950.68" y="852.65" width="1.1" height="1.1" fill="#5f9c9c" opacity="0.5"/>
<rect x="952" y="851.99" width="1.1" height="1.1" fill="#5f9c9c" opacity="0.5"/>
<rect x="956.58" y="854.7" width="1.1" height="1.1" fill="#5f9c9c" opacity="0.5"/>
<rect x="942.3" y="851.84" width="1.1" height="1.1" fill="#5f9c9c" opacity="0.5"/>
<rect x="937.77" y="847.67" width="1.1" height="1.1" fill="#5f9c9c" opacity="0.5"/>
<rect x="956.66" y="854.92" width="1.1" height="1.1" fill="#5f9c9c" opacity="0.5"/>
<rect x="939.37" y="857.77" width="1.1" height="1.1" fill="#5f9c9c" opacity="0.5"/>
<rect x="931.69" y="854.86" width="1.1" height="1.1" fill="#5f9c9c" opacity="0.5"/>
<rect x="920.43" y="855.37" width="1.1" height="1.1" fill="#5f9c9c" opacity="0.5"/>
<rect x="938.06" y="850.68" width="1.1" height="1.1" fill="#5f9c9c" opacity="0.5"/>
<rect x="941.09" y="853.25" width="1.1" height="1.1" fill="#5f9c9c" opacity="0.5"/>
<rect x="922.77" y="853.49" width="1.1" height="1.1" fill="#5f9c9c" opacity="0.5"/>
<rect x="928.36" y="843.7" width="1.1" height="1.1" fill="#5f9c9c" opacity="0.5"/>
<rect x="931.94" y="852.72" width="1.1" height="1.1" fill="#5f9c9c" opacity="0.5"/>
<rect x="930.5" y="857.03" width="1.1" height="1.1" fill="#5f9c9c" opacity="0.5"/>
<rect x="949.27" y="850.79" width="1.1" height="1.1" fill="#5f9c9c" opacity="0.5"/>
<rect x="945.84" y="848.58" width="1.1" height="1.1" fill="#5f9c9c" opacity="0.5"/>
<rect x="938.91" y="855.72" width="1.1" height="1.1" fill="#5f9c9c" opacity="0.5"/>
<rect x="934.1" y="850.68" width="1.1" height="1.1" fill="#5f9c9c" opacity="0.5"/>
<rect x="931.74" y="847.71" width="1.1" height="1.1" fill="#5f9c9c" opacity="0.5"/>
<rect x="929.92" y="855.86" width="1.1" height="1.1" fill="#5f9c9c" opacity="0.5"/>
<rect x="948.29" y="853.05" width="1.1" height="1.1" fill="#5f9c9c" opacity="0.5"/>
<rect x="934.6" y="853.65" width="1.1" height="1.1" fill="#5f9c9c" opacity="0.5"/>
<rect x="921.83" y="848.35" width="1.1" height="1.1" fill="#5f9c9c" opacity="0.5"/>
<rect x="935.82" y="853.49" width="1.1" height="1.1" fill="#5f9c9c" opacity="0.5"/>
<rect x="931.73" y="852.19" width="1.1" height="1.1" fill="#5f9c9c" opacity="0.5"/>
<rect x="936.31" y="850.74" width="1.1" height="1.1" fill="#5f9c9c" opacity="0.5"/>
</g>
<line x1="865.8" y1="778.4" x2="865.8" y2="884.7" stroke="#111" stroke-width="1.4" />
<line x1="858.3" y1="836.2" x2="969.3" y2="836.2" stroke="#111" stroke-width="1.4" />
<rect x="863.2" y="833.6" width="5.2" height="5.2" fill="#000" stroke="none" stroke-width="1" />
<clipPath id="cb21"><rect x="974.5" y="778.4" width="111.1" height="106.3"/></clipPath><g clip-path="url(#cb21)">
<path d="M972.68,866.59 C974.83,865.91 980.68,863.47 985.56,862.49 C990.43,861.52 998.04,860.64 1001.94,860.74 C1005.84,860.84 1006.43,861.42 1008.96,863.08 C1011.5,864.74 1013.26,869.03 1017.16,870.68 C1021.06,872.34 1026.91,873.51 1032.37,873.02 C1037.83,872.54 1044.66,869.61 1049.93,867.76 C1055.2,865.91 1060.46,865.22 1063.97,861.91 C1067.49,858.6 1068.46,852.16 1071,847.87 C1073.53,843.58 1077.04,839.88 1079.19,836.17 C1081.33,832.47 1082.7,827.98 1083.87,825.64 C1085.04,823.3 1085.82,822.72 1086.21,822.13 L1086.21,885.31 L972.68,885.31 Z" fill="#f1f7f7" />
<path d="M972.68,870.1 C974.83,869.32 980.48,866.39 985.56,865.42 C990.63,864.44 998.24,862.88 1003.11,864.25 C1007.99,865.61 1008.96,871.07 1014.82,873.61 C1020.67,876.14 1032.37,879.26 1038.22,879.46 C1044.08,879.65 1046.03,875.95 1049.93,874.78 C1053.83,873.61 1058.51,872.24 1061.63,872.44 C1064.75,872.63 1066.9,873.8 1068.66,875.95 C1070.41,878.09 1071.58,883.75 1072.17,885.31 L972.68,885.31 Z" fill="#e0eded" />
<path d="M972.68,876.53 C974.83,875.75 980.87,872.73 985.56,871.85 C990.24,870.98 996.87,870.59 1000.77,871.27 C1004.67,871.95 1006.82,873.61 1008.96,875.95 C1011.11,878.29 1012.87,883.75 1013.65,885.31 L972.68,885.31 Z" fill="#c0dada" />
<path d="M982.04,885.31 C983.02,884.14 985.17,879.26 987.9,878.29 C990.63,877.31 996.09,878.29 998.43,879.46 C1000.77,880.63 1001.36,884.33 1001.94,885.31 Z" fill="#92c0c0" />
<path d="M972.68,866.59 C974.83,865.91 980.68,863.47 985.56,862.49 C990.43,861.52 998.04,860.64 1001.94,860.74 C1005.84,860.84 1006.43,861.42 1008.96,863.08 C1011.5,864.74 1013.26,869.03 1017.16,870.68 C1021.06,872.34 1026.91,873.51 1032.37,873.02 C1037.83,872.54 1044.66,869.61 1049.93,867.76 C1055.2,865.91 1060.46,865.22 1063.97,861.91 C1067.49,858.6 1068.46,852.16 1071,847.87 C1073.53,843.58 1077.04,839.88 1079.19,836.17 C1081.33,832.47 1082.7,827.98 1083.87,825.64 C1085.04,823.3 1085.82,822.72 1086.21,822.13" fill="none" stroke="#5f9c9c" stroke-width="1.3" />
<path d="M972.68,870.1 C974.83,869.32 980.48,866.39 985.56,865.42 C990.63,864.44 998.24,862.88 1003.11,864.25 C1007.99,865.61 1008.96,871.07 1014.82,873.61 C1020.67,876.14 1032.37,879.26 1038.22,879.46 C1044.08,879.65 1046.03,875.95 1049.93,874.78 C1053.83,873.61 1058.51,872.24 1061.63,872.44 C1064.75,872.63 1066.9,873.8 1068.66,875.95 C1070.41,878.09 1071.58,883.75 1072.17,885.31" fill="none" stroke="#5f9c9c" stroke-width="1.3" />
<path d="M972.68,876.53 C974.83,875.75 980.87,872.73 985.56,871.85 C990.24,870.98 996.87,870.59 1000.77,871.27 C1004.67,871.95 1006.82,873.61 1008.96,875.95 C1011.11,878.29 1012.87,883.75 1013.65,885.31" fill="none" stroke="#5f9c9c" stroke-width="1.3" />
<path d="M1083.87,840.85 C1083.29,842.22 1080.75,844.75 1080.36,849.04 C1079.97,853.33 1080.65,863.08 1081.53,866.59 C1082.41,870.1 1084.85,874.39 1085.63,870.1 C1086.41,865.81 1086.11,845.73 1086.21,840.85" fill="none" stroke="#5f9c9c" stroke-width="1.3" />
<path d="M1080.36,815.12 C1081.14,814.73 1084.26,811.8 1085.04,812.78 C1085.82,813.75 1085.82,819.79 1085.04,820.96 C1084.26,822.13 1081.14,820.77 1080.36,819.79 C1079.58,818.82 1080.36,815.9 1080.36,815.12" fill="none" stroke="#5f9c9c" stroke-width="1.3" />
<rect x="1073.78" y="812.94" width="1.1" height="1.1" fill="#5f9c9c" opacity="0.55"/>
<rect x="1073.94" y="811.78" width="1.1" height="1.1" fill="#5f9c9c" opacity="0.55"/>
<rect x="1070.23" y="811.93" width="1.1" height="1.1" fill="#5f9c9c" opacity="0.55"/>
<rect x="1080.98" y="812.82" width="1.1" height="1.1" fill="#5f9c9c" opacity="0.55"/>
<rect x="1080.59" y="812.57" width="1.1" height="1.1" fill="#5f9c9c" opacity="0.55"/>
<rect x="1077.21" y="812.49" width="1.1" height="1.1" fill="#5f9c9c" opacity="0.55"/>
<rect x="1066.35" y="813.43" width="1.1" height="1.1" fill="#5f9c9c" opacity="0.55"/>
<rect x="1077.79" y="812.93" width="1.1" height="1.1" fill="#5f9c9c" opacity="0.55"/>
<rect x="1066.22" y="809.78" width="1.1" height="1.1" fill="#5f9c9c" opacity="0.55"/>
<rect x="1070.44" y="811.57" width="1.1" height="1.1" fill="#5f9c9c" opacity="0.55"/>
<rect x="1076.74" y="812.16" width="1.1" height="1.1" fill="#5f9c9c" opacity="0.55"/>
<rect x="1077.87" y="811.32" width="1.1" height="1.1" fill="#5f9c9c" opacity="0.55"/>
<rect x="1076.75" y="812.78" width="1.1" height="1.1" fill="#5f9c9c" opacity="0.55"/>
<rect x="1071.65" y="814.64" width="1.1" height="1.1" fill="#5f9c9c" opacity="0.55"/>
<rect x="1078.06" y="813.91" width="1.1" height="1.1" fill="#5f9c9c" opacity="0.55"/>
<rect x="1071.86" y="811.19" width="1.1" height="1.1" fill="#5f9c9c" opacity="0.55"/>
<rect x="1073.32" y="812.08" width="1.1" height="1.1" fill="#5f9c9c" opacity="0.55"/>
<rect x="1078.46" y="812.57" width="1.1" height="1.1" fill="#5f9c9c" opacity="0.55"/>
<rect x="1072.77" y="810.88" width="1.1" height="1.1" fill="#5f9c9c" opacity="0.55"/>
<rect x="1072.39" y="813.94" width="1.1" height="1.1" fill="#5f9c9c" opacity="0.55"/>
<rect x="1070.87" y="812.57" width="1.1" height="1.1" fill="#5f9c9c" opacity="0.55"/>
<rect x="1077.37" y="810.13" width="1.1" height="1.1" fill="#5f9c9c" opacity="0.55"/>
<rect x="1075.38" y="814.06" width="1.1" height="1.1" fill="#5f9c9c" opacity="0.55"/>
<rect x="1064.52" y="811.77" width="1.1" height="1.1" fill="#5f9c9c" opacity="0.55"/>
<rect x="1074.57" y="811.08" width="1.1" height="1.1" fill="#5f9c9c" opacity="0.55"/>
<rect x="1077.75" y="812.14" width="1.1" height="1.1" fill="#5f9c9c" opacity="0.55"/>
<rect x="1067.41" y="813.39" width="1.1" height="1.1" fill="#5f9c9c" opacity="0.55"/>
<rect x="1078.65" y="813.55" width="1.1" height="1.1" fill="#5f9c9c" opacity="0.55"/>
<rect x="1082.72" y="812.73" width="1.1" height="1.1" fill="#5f9c9c" opacity="0.55"/>
<rect x="1075.76" y="810.4" width="1.1" height="1.1" fill="#5f9c9c" opacity="0.55"/>
<rect x="1078.37" y="811.37" width="1.1" height="1.1" fill="#5f9c9c" opacity="0.55"/>
<rect x="1072.74" y="810.45" width="1.1" height="1.1" fill="#5f9c9c" opacity="0.55"/>
<rect x="1070.03" y="811.48" width="1.1" height="1.1" fill="#5f9c9c" opacity="0.55"/>
<rect x="1081.92" y="809.37" width="1.1" height="1.1" fill="#5f9c9c" opacity="0.55"/>
<rect x="1067.45" y="812.56" width="1.1" height="1.1" fill="#5f9c9c" opacity="0.55"/>
<rect x="1082.73" y="813.04" width="1.1" height="1.1" fill="#5f9c9c" opacity="0.55"/>
<rect x="1065.12" y="808.69" width="1.1" height="1.1" fill="#5f9c9c" opacity="0.55"/>
<rect x="1077.01" y="811.19" width="1.1" height="1.1" fill="#5f9c9c" opacity="0.55"/>
<rect x="1069.23" y="813.6" width="1.1" height="1.1" fill="#5f9c9c" opacity="0.55"/>
<rect x="1080.93" y="812.45" width="1.1" height="1.1" fill="#5f9c9c" opacity="0.55"/>
<rect x="1076.42" y="812.84" width="1.1" height="1.1" fill="#5f9c9c" opacity="0.55"/>
<rect x="1083.52" y="813.09" width="1.1" height="1.1" fill="#5f9c9c" opacity="0.55"/>
<rect x="1077.86" y="812.99" width="1.1" height="1.1" fill="#5f9c9c" opacity="0.55"/>
<rect x="1066.87" y="814.02" width="1.1" height="1.1" fill="#5f9c9c" opacity="0.55"/>
<rect x="1080.16" y="812.97" width="1.1" height="1.1" fill="#5f9c9c" opacity="0.55"/>
<rect x="1064.73" y="816.16" width="1.1" height="1.1" fill="#5f9c9c" opacity="0.55"/>
<rect x="1079.56" y="814.79" width="1.1" height="1.1" fill="#5f9c9c" opacity="0.55"/>
<rect x="1074.16" y="818.1" width="1.1" height="1.1" fill="#5f9c9c" opacity="0.55"/>
<rect x="1068.22" y="818.79" width="1.1" height="1.1" fill="#5f9c9c" opacity="0.55"/>
<rect x="1078.04" y="816.73" width="1.1" height="1.1" fill="#5f9c9c" opacity="0.55"/>
<rect x="1076.84" y="817.67" width="1.1" height="1.1" fill="#5f9c9c" opacity="0.55"/>
<rect x="1075.76" y="818.25" width="1.1" height="1.1" fill="#5f9c9c" opacity="0.55"/>
<rect x="1071.64" y="816.42" width="1.1" height="1.1" fill="#5f9c9c" opacity="0.55"/>
<rect x="1080.61" y="816.94" width="1.1" height="1.1" fill="#5f9c9c" opacity="0.55"/>
<rect x="1070.49" y="818.01" width="1.1" height="1.1" fill="#5f9c9c" opacity="0.55"/>
<rect x="1082.85" y="816.38" width="1.1" height="1.1" fill="#5f9c9c" opacity="0.55"/>
<rect x="1067.86" y="816.75" width="1.1" height="1.1" fill="#5f9c9c" opacity="0.55"/>
<rect x="1074.34" y="816.56" width="1.1" height="1.1" fill="#5f9c9c" opacity="0.55"/>
<rect x="1082.53" y="815.7" width="1.1" height="1.1" fill="#5f9c9c" opacity="0.55"/>
<rect x="1081.77" y="815.42" width="1.1" height="1.1" fill="#5f9c9c" opacity="0.55"/>
<rect x="1070.98" y="817.64" width="1.1" height="1.1" fill="#5f9c9c" opacity="0.55"/>
<rect x="1081.07" y="817.91" width="1.1" height="1.1" fill="#5f9c9c" opacity="0.55"/>
<rect x="1076.95" y="817.07" width="1.1" height="1.1" fill="#5f9c9c" opacity="0.55"/>
<rect x="1075.93" y="817.58" width="1.1" height="1.1" fill="#5f9c9c" opacity="0.55"/>
<rect x="1074.2" y="817.23" width="1.1" height="1.1" fill="#5f9c9c" opacity="0.55"/>
<rect x="1078.14" y="816.91" width="1.1" height="1.1" fill="#5f9c9c" opacity="0.55"/>
<rect x="1079.15" y="817.57" width="1.1" height="1.1" fill="#5f9c9c" opacity="0.55"/>
<rect x="1085.72" y="817.28" width="1.1" height="1.1" fill="#5f9c9c" opacity="0.55"/>
<rect x="1072.88" y="816.47" width="1.1" height="1.1" fill="#5f9c9c" opacity="0.55"/>
<rect x="1075.06" y="817.99" width="1.1" height="1.1" fill="#5f9c9c" opacity="0.55"/>
<rect x="1073.36" y="817.36" width="1.1" height="1.1" fill="#5f9c9c" opacity="0.55"/>
<rect x="1084.8" y="813.9" width="1.1" height="1.1" fill="#5f9c9c" opacity="0.55"/>
<rect x="1069.21" y="817.19" width="1.1" height="1.1" fill="#5f9c9c" opacity="0.55"/>
<rect x="1077.23" y="817.18" width="1.1" height="1.1" fill="#5f9c9c" opacity="0.55"/>
<rect x="1072.86" y="817.67" width="1.1" height="1.1" fill="#5f9c9c" opacity="0.55"/>
<rect x="1076.61" y="816.29" width="1.1" height="1.1" fill="#5f9c9c" opacity="0.55"/>
<rect x="1087.93" y="817.32" width="1.1" height="1.1" fill="#5f9c9c" opacity="0.55"/>
<rect x="1072.21" y="816.79" width="1.1" height="1.1" fill="#5f9c9c" opacity="0.55"/>
<rect x="1073.94" y="816.83" width="1.1" height="1.1" fill="#5f9c9c" opacity="0.55"/>
<rect x="1060.76" y="816.34" width="1.1" height="1.1" fill="#5f9c9c" opacity="0.55"/>
<rect x="1078.1" y="822.28" width="1.1" height="1.1" fill="#5f9c9c" opacity="0.55"/>
<rect x="1072.44" y="825.26" width="1.1" height="1.1" fill="#5f9c9c" opacity="0.55"/>
<rect x="1077.3" y="826.02" width="1.1" height="1.1" fill="#5f9c9c" opacity="0.55"/>
<rect x="1063.83" y="823.43" width="1.1" height="1.1" fill="#5f9c9c" opacity="0.55"/>
<rect x="1070.99" y="824.8" width="1.1" height="1.1" fill="#5f9c9c" opacity="0.55"/>
<rect x="1078.54" y="820.16" width="1.1" height="1.1" fill="#5f9c9c" opacity="0.55"/>
<rect x="1078.52" y="821.89" width="1.1" height="1.1" fill="#5f9c9c" opacity="0.55"/>
<rect x="1076.39" y="821.83" width="1.1" height="1.1" fill="#5f9c9c" opacity="0.55"/>
<rect x="1073.71" y="825.6" width="1.1" height="1.1" fill="#5f9c9c" opacity="0.55"/>
<rect x="1072" y="824.19" width="1.1" height="1.1" fill="#5f9c9c" opacity="0.55"/>
<rect x="1076.99" y="824.12" width="1.1" height="1.1" fill="#5f9c9c" opacity="0.55"/>
<rect x="1072.32" y="826.08" width="1.1" height="1.1" fill="#5f9c9c" opacity="0.55"/>
<rect x="1078.31" y="823.51" width="1.1" height="1.1" fill="#5f9c9c" opacity="0.55"/>
<rect x="1087.25" y="822.31" width="1.1" height="1.1" fill="#5f9c9c" opacity="0.55"/>
<rect x="1077.6" y="823.55" width="1.1" height="1.1" fill="#5f9c9c" opacity="0.55"/>
<rect x="1073.48" y="824.91" width="1.1" height="1.1" fill="#5f9c9c" opacity="0.55"/>
<rect x="1073.96" y="824.82" width="1.1" height="1.1" fill="#5f9c9c" opacity="0.55"/>
<rect x="1064.74" y="821.8" width="1.1" height="1.1" fill="#5f9c9c" opacity="0.55"/>
<rect x="1076.03" y="822.57" width="1.1" height="1.1" fill="#5f9c9c" opacity="0.55"/>
<rect x="1067.38" y="821.86" width="1.1" height="1.1" fill="#5f9c9c" opacity="0.55"/>
<rect x="1079.46" y="824.97" width="1.1" height="1.1" fill="#5f9c9c" opacity="0.55"/>
<rect x="1080.55" y="822.61" width="1.1" height="1.1" fill="#5f9c9c" opacity="0.55"/>
<rect x="1072.79" y="822.32" width="1.1" height="1.1" fill="#5f9c9c" opacity="0.55"/>
<rect x="1076.82" y="826.16" width="1.1" height="1.1" fill="#5f9c9c" opacity="0.55"/>
<rect x="1068.1" y="826.11" width="1.1" height="1.1" fill="#5f9c9c" opacity="0.55"/>
<rect x="1077.99" y="823.67" width="1.1" height="1.1" fill="#5f9c9c" opacity="0.55"/>
<rect x="1062.4" y="825.9" width="1.1" height="1.1" fill="#5f9c9c" opacity="0.55"/>
<rect x="1072.28" y="823.08" width="1.1" height="1.1" fill="#5f9c9c" opacity="0.55"/>
<rect x="1074.89" y="824.5" width="1.1" height="1.1" fill="#5f9c9c" opacity="0.55"/>
<rect x="1080.68" y="822.49" width="1.1" height="1.1" fill="#5f9c9c" opacity="0.55"/>
<rect x="1078.77" y="826.01" width="1.1" height="1.1" fill="#5f9c9c" opacity="0.55"/>
<rect x="1080.44" y="823.67" width="1.1" height="1.1" fill="#5f9c9c" opacity="0.55"/>
<rect x="1068.87" y="825.35" width="1.1" height="1.1" fill="#5f9c9c" opacity="0.55"/>
<rect x="1073.39" y="824.1" width="1.1" height="1.1" fill="#5f9c9c" opacity="0.55"/>
<rect x="1080.29" y="823.55" width="1.1" height="1.1" fill="#5f9c9c" opacity="0.55"/>
<rect x="1060.69" y="823.38" width="1.1" height="1.1" fill="#5f9c9c" opacity="0.55"/>
<rect x="1063.02" y="825.07" width="1.1" height="1.1" fill="#5f9c9c" opacity="0.55"/>
<rect x="1074.46" y="823.07" width="1.1" height="1.1" fill="#5f9c9c" opacity="0.55"/>
<rect x="1072.74" y="825.09" width="1.1" height="1.1" fill="#5f9c9c" opacity="0.55"/>
<rect x="1073.2" y="825.79" width="1.1" height="1.1" fill="#5f9c9c" opacity="0.55"/>
<rect x="1072.46" y="825.38" width="1.1" height="1.1" fill="#5f9c9c" opacity="0.55"/>
<rect x="1080.64" y="826.18" width="1.1" height="1.1" fill="#5f9c9c" opacity="0.55"/>
<rect x="1069.25" y="825.16" width="1.1" height="1.1" fill="#5f9c9c" opacity="0.55"/>
<rect x="1062.91" y="822.4" width="1.1" height="1.1" fill="#5f9c9c" opacity="0.55"/>
<rect x="1062.45" y="825.42" width="1.1" height="1.1" fill="#5f9c9c" opacity="0.55"/>
<rect x="1065.58" y="827.42" width="1.1" height="1.1" fill="#5f9c9c" opacity="0.55"/>
<rect x="1071.66" y="827.4" width="1.1" height="1.1" fill="#5f9c9c" opacity="0.55"/>
<rect x="1069.33" y="827.71" width="1.1" height="1.1" fill="#5f9c9c" opacity="0.55"/>
<rect x="1083.27" y="827.49" width="1.1" height="1.1" fill="#5f9c9c" opacity="0.55"/>
<rect x="1075.89" y="828.6" width="1.1" height="1.1" fill="#5f9c9c" opacity="0.55"/>
<rect x="1071.63" y="825.96" width="1.1" height="1.1" fill="#5f9c9c" opacity="0.55"/>
<rect x="1069.54" y="828.69" width="1.1" height="1.1" fill="#5f9c9c" opacity="0.55"/>
<rect x="1063.15" y="826.73" width="1.1" height="1.1" fill="#5f9c9c" opacity="0.55"/>
<rect x="1078.68" y="828.36" width="1.1" height="1.1" fill="#5f9c9c" opacity="0.55"/>
<rect x="1072.83" y="828.38" width="1.1" height="1.1" fill="#5f9c9c" opacity="0.55"/>
<rect x="1073.76" y="826.05" width="1.1" height="1.1" fill="#5f9c9c" opacity="0.55"/>
<rect x="1063.63" y="826.69" width="1.1" height="1.1" fill="#5f9c9c" opacity="0.55"/>
<rect x="1078.19" y="826.77" width="1.1" height="1.1" fill="#5f9c9c" opacity="0.55"/>
<rect x="1067.51" y="826.53" width="1.1" height="1.1" fill="#5f9c9c" opacity="0.55"/>
<rect x="1063.82" y="827.3" width="1.1" height="1.1" fill="#5f9c9c" opacity="0.55"/>
<rect x="1065.88" y="827.86" width="1.1" height="1.1" fill="#5f9c9c" opacity="0.55"/>
<rect x="1058.98" y="827.82" width="1.1" height="1.1" fill="#5f9c9c" opacity="0.55"/>
<rect x="1069.03" y="825.16" width="1.1" height="1.1" fill="#5f9c9c" opacity="0.55"/>
<rect x="1077.03" y="827.11" width="1.1" height="1.1" fill="#5f9c9c" opacity="0.55"/>
<rect x="1059.74" y="826.41" width="1.1" height="1.1" fill="#5f9c9c" opacity="0.55"/>
<rect x="1074.49" y="826.9" width="1.1" height="1.1" fill="#5f9c9c" opacity="0.55"/>
<rect x="1077.35" y="828.31" width="1.1" height="1.1" fill="#5f9c9c" opacity="0.55"/>
<rect x="1076.69" y="827.82" width="1.1" height="1.1" fill="#5f9c9c" opacity="0.55"/>
<rect x="1080.59" y="828.21" width="1.1" height="1.1" fill="#5f9c9c" opacity="0.55"/>
<rect x="1075.43" y="825" width="1.1" height="1.1" fill="#5f9c9c" opacity="0.55"/>
<rect x="1078.03" y="828.97" width="1.1" height="1.1" fill="#5f9c9c" opacity="0.55"/>
<rect x="1071.05" y="826.88" width="1.1" height="1.1" fill="#5f9c9c" opacity="0.55"/>
<rect x="1084.14" y="825.38" width="1.1" height="1.1" fill="#5f9c9c" opacity="0.55"/>
<rect x="1075.53" y="830.27" width="1.1" height="1.1" fill="#5f9c9c" opacity="0.55"/>
<rect x="1067.36" y="828.24" width="1.1" height="1.1" fill="#5f9c9c" opacity="0.55"/>
<rect x="1083.83" y="827.29" width="1.1" height="1.1" fill="#5f9c9c" opacity="0.55"/>
<rect x="1076.07" y="828.49" width="1.1" height="1.1" fill="#5f9c9c" opacity="0.55"/>
<rect x="1067.49" y="827.33" width="1.1" height="1.1" fill="#5f9c9c" opacity="0.55"/>
<rect x="1074.5" y="828.4" width="1.1" height="1.1" fill="#5f9c9c" opacity="0.55"/>
<rect x="1072.58" y="827.21" width="1.1" height="1.1" fill="#5f9c9c" opacity="0.55"/>
<rect x="1065.69" y="833.4" width="1.1" height="1.1" fill="#5f9c9c" opacity="0.55"/>
<rect x="1074.62" y="834.75" width="1.1" height="1.1" fill="#5f9c9c" opacity="0.55"/>
<rect x="1066.45" y="831.99" width="1.1" height="1.1" fill="#5f9c9c" opacity="0.55"/>
<rect x="1082.93" y="837.79" width="1.1" height="1.1" fill="#5f9c9c" opacity="0.55"/>
<rect x="1073.43" y="826.87" width="1.1" height="1.1" fill="#5f9c9c" opacity="0.55"/>
<rect x="1073.36" y="835.86" width="1.1" height="1.1" fill="#5f9c9c" opacity="0.55"/>
<rect x="1078.33" y="835.7" width="1.1" height="1.1" fill="#5f9c9c" opacity="0.55"/>
<rect x="1070.13" y="835.98" width="1.1" height="1.1" fill="#5f9c9c" opacity="0.55"/>
<rect x="1061.34" y="837.47" width="1.1" height="1.1" fill="#5f9c9c" opacity="0.55"/>
<rect x="1071.97" y="832.4" width="1.1" height="1.1" fill="#5f9c9c" opacity="0.55"/>
<rect x="1076.65" y="839.74" width="1.1" height="1.1" fill="#5f9c9c" opacity="0.55"/>
<rect x="1063.88" y="832.5" width="1.1" height="1.1" fill="#5f9c9c" opacity="0.55"/>
<rect x="1071.81" y="834.99" width="1.1" height="1.1" fill="#5f9c9c" opacity="0.55"/>
<rect x="1068.58" y="831.6" width="1.1" height="1.1" fill="#5f9c9c" opacity="0.55"/>
<rect x="1080.37" y="837.49" width="1.1" height="1.1" fill="#5f9c9c" opacity="0.55"/>
<rect x="1064.86" y="830.52" width="1.1" height="1.1" fill="#5f9c9c" opacity="0.55"/>
<rect x="1078.42" y="837.35" width="1.1" height="1.1" fill="#5f9c9c" opacity="0.55"/>
<rect x="1078.97" y="836.82" width="1.1" height="1.1" fill="#5f9c9c" opacity="0.55"/>
<rect x="1066.36" y="835.22" width="1.1" height="1.1" fill="#5f9c9c" opacity="0.55"/>
<rect x="1060.33" y="832.26" width="1.1" height="1.1" fill="#5f9c9c" opacity="0.55"/>
<rect x="1070.17" y="835.98" width="1.1" height="1.1" fill="#5f9c9c" opacity="0.55"/>
<rect x="1067.04" y="834.09" width="1.1" height="1.1" fill="#5f9c9c" opacity="0.55"/>
<rect x="1072.59" y="835.55" width="1.1" height="1.1" fill="#5f9c9c" opacity="0.55"/>
<rect x="1073.43" y="835.06" width="1.1" height="1.1" fill="#5f9c9c" opacity="0.55"/>
<rect x="1068.93" y="836.76" width="1.1" height="1.1" fill="#5f9c9c" opacity="0.55"/>
<rect x="1070.68" y="832.04" width="1.1" height="1.1" fill="#5f9c9c" opacity="0.55"/>
<rect x="1067.52" y="834.45" width="1.1" height="1.1" fill="#5f9c9c" opacity="0.55"/>
<rect x="1069.93" y="834.91" width="1.1" height="1.1" fill="#5f9c9c" opacity="0.55"/>
<rect x="1070.44" y="834.97" width="1.1" height="1.1" fill="#5f9c9c" opacity="0.55"/>
<rect x="1069.82" y="830.77" width="1.1" height="1.1" fill="#5f9c9c" opacity="0.55"/>
<rect x="1072.42" y="837.53" width="1.1" height="1.1" fill="#5f9c9c" opacity="0.55"/>
<rect x="1072.48" y="833.9" width="1.1" height="1.1" fill="#5f9c9c" opacity="0.55"/>
<rect x="1072.54" y="831.63" width="1.1" height="1.1" fill="#5f9c9c" opacity="0.55"/>
<rect x="1061.57" y="834.63" width="1.1" height="1.1" fill="#5f9c9c" opacity="0.55"/>
<rect x="1066.09" y="836.62" width="1.1" height="1.1" fill="#5f9c9c" opacity="0.55"/>
<rect x="1065.37" y="826.77" width="1.1" height="1.1" fill="#5f9c9c" opacity="0.55"/>
<rect x="1065.58" y="839.07" width="1.1" height="1.1" fill="#5f9c9c" opacity="0.55"/>
<rect x="1068.66" y="830.45" width="1.1" height="1.1" fill="#5f9c9c" opacity="0.55"/>
<rect x="1066.87" y="835.98" width="1.1" height="1.1" fill="#5f9c9c" opacity="0.55"/>
<rect x="1072.77" y="834.97" width="1.1" height="1.1" fill="#5f9c9c" opacity="0.55"/>
<rect x="1073.62" y="847.53" width="1.1" height="1.1" fill="#5f9c9c" opacity="0.55"/>
<rect x="1069.21" y="846.95" width="1.1" height="1.1" fill="#5f9c9c" opacity="0.55"/>
<rect x="1074.12" y="848.93" width="1.1" height="1.1" fill="#5f9c9c" opacity="0.55"/>
<rect x="1072.27" y="838.11" width="1.1" height="1.1" fill="#5f9c9c" opacity="0.55"/>
<rect x="1068.84" y="847.65" width="1.1" height="1.1" fill="#5f9c9c" opacity="0.55"/>
<rect x="1068.41" y="849.44" width="1.1" height="1.1" fill="#5f9c9c" opacity="0.55"/>
<rect x="1071.02" y="848.59" width="1.1" height="1.1" fill="#5f9c9c" opacity="0.55"/>
<rect x="1068.65" y="857.22" width="1.1" height="1.1" fill="#5f9c9c" opacity="0.55"/>
<rect x="1072.9" y="842.68" width="1.1" height="1.1" fill="#5f9c9c" opacity="0.55"/>
<rect x="1069.54" y="857.47" width="1.1" height="1.1" fill="#5f9c9c" opacity="0.55"/>
<rect x="1068.27" y="848.41" width="1.1" height="1.1" fill="#5f9c9c" opacity="0.55"/>
<rect x="1072.14" y="843.85" width="1.1" height="1.1" fill="#5f9c9c" opacity="0.55"/>
<rect x="1065.86" y="844.8" width="1.1" height="1.1" fill="#5f9c9c" opacity="0.55"/>
<rect x="1070.33" y="849.76" width="1.1" height="1.1" fill="#5f9c9c" opacity="0.55"/>
<rect x="1071.57" y="843.94" width="1.1" height="1.1" fill="#5f9c9c" opacity="0.55"/>
<rect x="1071.77" y="846.65" width="1.1" height="1.1" fill="#5f9c9c" opacity="0.55"/>
<rect x="1069.88" y="844.1" width="1.1" height="1.1" fill="#5f9c9c" opacity="0.55"/>
<rect x="1068.56" y="847.42" width="1.1" height="1.1" fill="#5f9c9c" opacity="0.55"/>
<rect x="1066.19" y="840.5" width="1.1" height="1.1" fill="#5f9c9c" opacity="0.55"/>
<rect x="1069.29" y="836.1" width="1.1" height="1.1" fill="#5f9c9c" opacity="0.55"/>
<rect x="1068" y="833.24" width="1.1" height="1.1" fill="#5f9c9c" opacity="0.55"/>
<rect x="1067.28" y="846.8" width="1.1" height="1.1" fill="#5f9c9c" opacity="0.55"/>
<rect x="1070.93" y="843.52" width="1.1" height="1.1" fill="#5f9c9c" opacity="0.55"/>
<rect x="1068.6" y="836.35" width="1.1" height="1.1" fill="#5f9c9c" opacity="0.55"/>
<rect x="1074.62" y="846.53" width="1.1" height="1.1" fill="#5f9c9c" opacity="0.55"/>
<rect x="1072.48" y="839.17" width="1.1" height="1.1" fill="#5f9c9c" opacity="0.55"/>
<rect x="1068.73" y="834.23" width="1.1" height="1.1" fill="#5f9c9c" opacity="0.55"/>
<rect x="1071.56" y="848.73" width="1.1" height="1.1" fill="#5f9c9c" opacity="0.55"/>
<rect x="1063.72" y="843.54" width="1.1" height="1.1" fill="#5f9c9c" opacity="0.55"/>
<rect x="1071.12" y="834.54" width="1.1" height="1.1" fill="#5f9c9c" opacity="0.55"/>
<rect x="1063.93" y="838.2" width="1.1" height="1.1" fill="#5f9c9c" opacity="0.55"/>
<rect x="1067.43" y="836.43" width="1.1" height="1.1" fill="#5f9c9c" opacity="0.55"/>
<rect x="1069.37" y="845.13" width="1.1" height="1.1" fill="#5f9c9c" opacity="0.55"/>
<rect x="1071.13" y="847.51" width="1.1" height="1.1" fill="#5f9c9c" opacity="0.55"/>
<rect x="1073.67" y="849.94" width="1.1" height="1.1" fill="#5f9c9c" opacity="0.55"/>
<rect x="1065.44" y="841.15" width="1.1" height="1.1" fill="#5f9c9c" opacity="0.55"/>
<rect x="1066.17" y="838.14" width="1.1" height="1.1" fill="#5f9c9c" opacity="0.55"/>
<rect x="1069.04" y="843.84" width="1.1" height="1.1" fill="#5f9c9c" opacity="0.55"/>
<rect x="1070.71" y="835.46" width="1.1" height="1.1" fill="#5f9c9c" opacity="0.55"/>
<rect x="1065.65" y="843.69" width="1.1" height="1.1" fill="#5f9c9c" opacity="0.55"/>
<rect x="1064.71" y="852.88" width="1.1" height="1.1" fill="#5f9c9c" opacity="0.55"/>
<rect x="1065.03" y="850.79" width="1.1" height="1.1" fill="#5f9c9c" opacity="0.55"/>
<rect x="1066.82" y="856" width="1.1" height="1.1" fill="#5f9c9c" opacity="0.55"/>
<rect x="1064.97" y="851.2" width="1.1" height="1.1" fill="#5f9c9c" opacity="0.55"/>
<rect x="1064.77" y="841.6" width="1.1" height="1.1" fill="#5f9c9c" opacity="0.55"/>
<rect x="1062.88" y="854.52" width="1.1" height="1.1" fill="#5f9c9c" opacity="0.55"/>
<rect x="1061.66" y="855.27" width="1.1" height="1.1" fill="#5f9c9c" opacity="0.55"/>
<rect x="1065.52" y="847.89" width="1.1" height="1.1" fill="#5f9c9c" opacity="0.55"/>
<rect x="1064.59" y="852.87" width="1.1" height="1.1" fill="#5f9c9c" opacity="0.55"/>
<rect x="1066.26" y="857.2" width="1.1" height="1.1" fill="#5f9c9c" opacity="0.55"/>
<rect x="1065.09" y="850.36" width="1.1" height="1.1" fill="#5f9c9c" opacity="0.55"/>
<rect x="1064.84" y="854.03" width="1.1" height="1.1" fill="#5f9c9c" opacity="0.55"/>
<rect x="1066.9" y="855.72" width="1.1" height="1.1" fill="#5f9c9c" opacity="0.55"/>
<rect x="1063.49" y="848" width="1.1" height="1.1" fill="#5f9c9c" opacity="0.55"/>
<rect x="1064.31" y="850.88" width="1.1" height="1.1" fill="#5f9c9c" opacity="0.55"/>
<rect x="1062.58" y="853.8" width="1.1" height="1.1" fill="#5f9c9c" opacity="0.55"/>
<rect x="1064.03" y="854.83" width="1.1" height="1.1" fill="#5f9c9c" opacity="0.55"/>
<rect x="1066.4" y="852.41" width="1.1" height="1.1" fill="#5f9c9c" opacity="0.55"/>
<rect x="1070.62" y="852.84" width="1.1" height="1.1" fill="#5f9c9c" opacity="0.55"/>
<rect x="1067.76" y="854.91" width="1.1" height="1.1" fill="#5f9c9c" opacity="0.55"/>
<rect x="1067.79" y="843.22" width="1.1" height="1.1" fill="#5f9c9c" opacity="0.55"/>
<rect x="1063.42" y="855.5" width="1.1" height="1.1" fill="#5f9c9c" opacity="0.55"/>
<rect x="1066.59" y="865.27" width="1.1" height="1.1" fill="#5f9c9c" opacity="0.55"/>
<rect x="1065.93" y="860.33" width="1.1" height="1.1" fill="#5f9c9c" opacity="0.55"/>
<rect x="1066.97" y="858.77" width="1.1" height="1.1" fill="#5f9c9c" opacity="0.55"/>
<rect x="1077.49" y="798.99" width="1.1" height="1.1" fill="#5f9c9c" opacity="0.55"/>
<rect x="1077.49" y="796.83" width="1.1" height="1.1" fill="#5f9c9c" opacity="0.55"/>
<rect x="1079.06" y="796.98" width="1.1" height="1.1" fill="#5f9c9c" opacity="0.55"/>
<rect x="1076.88" y="804.32" width="1.1" height="1.1" fill="#5f9c9c" opacity="0.55"/>
<rect x="1075.78" y="799.4" width="1.1" height="1.1" fill="#5f9c9c" opacity="0.55"/>
<rect x="1079.02" y="799.42" width="1.1" height="1.1" fill="#5f9c9c" opacity="0.55"/>
<rect x="1074.41" y="799.96" width="1.1" height="1.1" fill="#5f9c9c" opacity="0.55"/>
<rect x="1077.66" y="801.02" width="1.1" height="1.1" fill="#5f9c9c" opacity="0.55"/>
<rect x="1063.69" y="790.73" width="1.1" height="1.1" fill="#5f9c9c" opacity="0.55"/>
<rect x="1066.55" y="787.69" width="1.1" height="1.1" fill="#5f9c9c" opacity="0.55"/>
<rect x="1064.91" y="786.91" width="1.1" height="1.1" fill="#5f9c9c" opacity="0.55"/>
<rect x="1066.25" y="786.42" width="1.1" height="1.1" fill="#5f9c9c" opacity="0.55"/>
</g>
<line x1="981.5" y1="778.4" x2="981.5" y2="884.7" stroke="#111" stroke-width="1.4" />
<line x1="974.5" y1="836.2" x2="1085.6" y2="836.2" stroke="#111" stroke-width="1.4" />
<rect x="978.9" y="833.6" width="5.2" height="5.2" fill="#000" stroke="none" stroke-width="1" />
<rect x="858.3" y="554.4" width="111" height="106.4" fill="none" stroke="#3b3b3b" stroke-width="1.5" />
<rect x="858.3" y="666.6" width="111" height="106.1" fill="none" stroke="#3b3b3b" stroke-width="1.5" />
<rect x="974.5" y="666.6" width="111.1" height="106.1" fill="none" stroke="#3b3b3b" stroke-width="1.5" />
<rect x="858.3" y="778.4" width="111" height="106.3" fill="none" stroke="#3b3b3b" stroke-width="1.5" />
<rect x="974.5" y="778.4" width="111.1" height="106.3" fill="none" stroke="#3b3b3b" stroke-width="1.5" />
<rect x="1091.2" y="778.4" width="111.4" height="106.3" fill="none" stroke="#3b3b3b" stroke-width="1.5" />
<line x1="880.4" y1="660.8" x2="880.4" y2="665.6" stroke="#3b3b3b" stroke-width="1.1" />
<line x1="902.7" y1="660.8" x2="902.7" y2="665.6" stroke="#3b3b3b" stroke-width="1.1" />
<line x1="925.3" y1="660.8" x2="925.3" y2="665.6" stroke="#3b3b3b" stroke-width="1.1" />
<line x1="947.7" y1="660.8" x2="947.7" y2="665.6" stroke="#3b3b3b" stroke-width="1.1" />
<line x1="880.4" y1="772.7" x2="880.4" y2="777.5" stroke="#3b3b3b" stroke-width="1.1" />
<line x1="902.7" y1="772.7" x2="902.7" y2="777.5" stroke="#3b3b3b" stroke-width="1.1" />
<line x1="925.3" y1="772.7" x2="925.3" y2="777.5" stroke="#3b3b3b" stroke-width="1.1" />
<line x1="947.7" y1="772.7" x2="947.7" y2="777.5" stroke="#3b3b3b" stroke-width="1.1" />
<line x1="993.2" y1="772.7" x2="993.2" y2="777.5" stroke="#3b3b3b" stroke-width="1.1" />
<line x1="1016.1" y1="772.7" x2="1016.1" y2="777.5" stroke="#3b3b3b" stroke-width="1.1" />
<line x1="1039.4" y1="772.7" x2="1039.4" y2="777.5" stroke="#3b3b3b" stroke-width="1.1" />
<line x1="1062.6" y1="772.7" x2="1062.6" y2="777.5" stroke="#3b3b3b" stroke-width="1.1" />
<line x1="880.4" y1="884.7" x2="880.4" y2="889.5" stroke="#3b3b3b" stroke-width="1.1" />
<line x1="902.7" y1="884.7" x2="902.7" y2="889.5" stroke="#3b3b3b" stroke-width="1.1" />
<line x1="925.3" y1="884.7" x2="925.3" y2="889.5" stroke="#3b3b3b" stroke-width="1.1" />
<line x1="947.7" y1="884.7" x2="947.7" y2="889.5" stroke="#3b3b3b" stroke-width="1.1" />
<line x1="993.2" y1="884.7" x2="993.2" y2="889.5" stroke="#3b3b3b" stroke-width="1.1" />
<line x1="1016.1" y1="884.7" x2="1016.1" y2="889.5" stroke="#3b3b3b" stroke-width="1.1" />
<line x1="1039.4" y1="884.7" x2="1039.4" y2="889.5" stroke="#3b3b3b" stroke-width="1.1" />
<line x1="1062.6" y1="884.7" x2="1062.6" y2="889.5" stroke="#3b3b3b" stroke-width="1.1" />
<line x1="1119.8" y1="884.7" x2="1119.8" y2="889.5" stroke="#3b3b3b" stroke-width="1.1" />
<line x1="1147.9" y1="884.7" x2="1147.9" y2="889.5" stroke="#3b3b3b" stroke-width="1.1" />
<line x1="1176" y1="884.7" x2="1176" y2="889.5" stroke="#3b3b3b" stroke-width="1.1" />
<line x1="853.5" y1="688.7" x2="858.3" y2="688.7" stroke="#3b3b3b" stroke-width="1.1" />
<line x1="853.5" y1="710.9" x2="858.3" y2="710.9" stroke="#3b3b3b" stroke-width="1.1" />
<line x1="853.5" y1="732.8" x2="858.3" y2="732.8" stroke="#3b3b3b" stroke-width="1.1" />
<line x1="853.5" y1="755.4" x2="858.3" y2="755.4" stroke="#3b3b3b" stroke-width="1.1" />
<line x1="853.5" y1="803.7" x2="858.3" y2="803.7" stroke="#3b3b3b" stroke-width="1.1" />
<line x1="969.7" y1="803.7" x2="974.5" y2="803.7" stroke="#3b3b3b" stroke-width="1.1" />
<line x1="853.5" y1="830.6" x2="858.3" y2="830.6" stroke="#3b3b3b" stroke-width="1.1" />
<line x1="969.7" y1="830.6" x2="974.5" y2="830.6" stroke="#3b3b3b" stroke-width="1.1" />
<line x1="853.5" y1="857.5" x2="858.3" y2="857.5" stroke="#3b3b3b" stroke-width="1.1" />
<line x1="969.7" y1="857.5" x2="974.5" y2="857.5" stroke="#3b3b3b" stroke-width="1.1" />
<text x="879.9" y="904.5" font-size="15.5" font-family='"Liberation Sans", sans-serif' text-anchor="middle" dominant-baseline="central" transform="rotate(-45 879.9 904.5)" textLength="19.5" lengthAdjust="spacingAndGlyphs">0.8</text>
<text x="902.2" y="904.5" font-size="15.5" font-family='"Liberation Sans", sans-serif' text-anchor="middle" dominant-baseline="central" transform="rotate(-45 902.2 904.5)" textLength="19.5" lengthAdjust="spacingAndGlyphs">1.6</text>
<text x="924.8" y="904.5" font-size="15.5" font-family='"Liberation Sans", sans-serif' text-anchor="middle" dominant-baseline="central" transform="rotate(-45 924.8 904.5)" textLength="19.5" lengthAdjust="spacingAndGlyphs">2.4</text>
<text x="947.2" y="904.5" font-size="15.5" font-family='"Liberation Sans", sans-serif' text-anchor="middle" dominant-baseline="central" transform="rotate(-45 947.2 904.5)" textLength="19.5" lengthAdjust="spacingAndGlyphs">3.2</text>
<text x="992.7" y="902.8" font-size="15.5" font-family='"Liberation Sans", sans-serif' text-anchor="middle" dominant-baseline="central" transform="rotate(-45 992.7 902.8)" textLength="17" lengthAdjust="spacingAndGlyphs">40</text>
<text x="1015.6" y="902.8" font-size="15.5" font-family='"Liberation Sans", sans-serif' text-anchor="middle" dominant-baseline="central" transform="rotate(-45 1015.6 902.8)" textLength="17" lengthAdjust="spacingAndGlyphs">80</text>
<text x="1038.9" y="906.6" font-size="15.5" font-family='"Liberation Sans", sans-serif' text-anchor="middle" dominant-baseline="central" transform="rotate(-45 1038.9 906.6)" textLength="25" lengthAdjust="spacingAndGlyphs">120</text>
<text x="1062.1" y="906.6" font-size="15.5" font-family='"Liberation Sans", sans-serif' text-anchor="middle" dominant-baseline="central" transform="rotate(-45 1062.1 906.6)" textLength="25" lengthAdjust="spacingAndGlyphs">160</text>
<text x="1119.3" y="902.3" font-size="15.5" font-family='"Liberation Sans", sans-serif' text-anchor="middle" dominant-baseline="central" transform="rotate(-45 1119.3 902.3)" textLength="19" lengthAdjust="spacingAndGlyphs">−2</text>
<text x="1147.4" y="899.2" font-size="15.5" font-family='"Liberation Sans", sans-serif' text-anchor="middle" dominant-baseline="central" transform="rotate(-45 1147.4 899.2)">0</text>
<text x="1175.5" y="899.2" font-size="15.5" font-family='"Liberation Sans", sans-serif' text-anchor="middle" dominant-baseline="central" transform="rotate(-45 1175.5 899.2)">2</text>
<text x="835.2" y="696.5" font-size="15.5" font-family='"Liberation Sans", sans-serif' text-anchor="middle" dominant-baseline="central" transform="rotate(-45 835.2 696.5)" textLength="25" lengthAdjust="spacingAndGlyphs">160</text>
<text x="835.2" y="718.7" font-size="15.5" font-family='"Liberation Sans", sans-serif' text-anchor="middle" dominant-baseline="central" transform="rotate(-45 835.2 718.7)" textLength="25" lengthAdjust="spacingAndGlyphs">120</text>
<text x="838.4" y="738" font-size="15.5" font-family='"Liberation Sans", sans-serif' text-anchor="middle" dominant-baseline="central" transform="rotate(-45 838.4 738)" textLength="17" lengthAdjust="spacingAndGlyphs">80</text>
<text x="838.4" y="760.6" font-size="15.5" font-family='"Liberation Sans", sans-serif' text-anchor="middle" dominant-baseline="central" transform="rotate(-45 838.4 760.6)" textLength="17" lengthAdjust="spacingAndGlyphs">40</text>
<text x="840.7" y="806.3" font-size="15.5" font-family='"Liberation Sans", sans-serif' text-anchor="middle" dominant-baseline="central" transform="rotate(-45 840.7 806.3)">2</text>
<text x="842" y="833.2" font-size="15.5" font-family='"Liberation Sans", sans-serif' text-anchor="middle" dominant-baseline="central" transform="rotate(-45 842 833.2)">0</text>
<text x="837.5" y="863.8" font-size="15.5" font-family='"Liberation Sans", sans-serif' text-anchor="middle" dominant-baseline="central" transform="rotate(-45 837.5 863.8)" textLength="19" lengthAdjust="spacingAndGlyphs">−2</text>
<text x="913.9" y="935.8" font-size="16.5" font-family='"Liberation Sans", sans-serif' fill="#000" text-anchor="middle" ><tspan font-style="italic">σ</tspan></text>
<text x="1030.5" y="935.5" font-size="16.5" font-family='"Liberation Sans", sans-serif' fill="#000" text-anchor="middle" ><tspan font-style="italic">δt</tspan></text>
<text x="1146.5" y="935.8" font-size="16.5" font-family='"Liberation Sans", sans-serif' fill="#000" text-anchor="middle" ><tspan font-style="italic">α</tspan></text>
<text x="813.5" y="720.2" font-size="16.5" font-family='"Liberation Sans", sans-serif' fill="#000" text-anchor="middle" transform="rotate(-90 813.5 720.2)" ><tspan font-style="italic">δt</tspan></text>
<text x="814" y="832.3" font-size="16.5" font-family='"Liberation Sans", sans-serif' fill="#000" text-anchor="middle" transform="rotate(-90 814 832.3)" ><tspan font-style="italic">α</tspan></text>
<text x="863.2" y="548.9" font-size="15.6" font-family='"Liberation Sans", sans-serif' fill="#000" textLength="66.1" lengthAdjust="spacingAndGlyphs" ><tspan font-style="italic">σ</tspan> = 2.54</text>
<text x="930.8" y="543" font-size="11.2" font-family='"Liberation Sans", sans-serif' fill="#000" textLength="31.6" lengthAdjust="spacingAndGlyphs" >+1.04</text>
<text x="930.8" y="552.9" font-size="11.2" font-family='"Liberation Sans", sans-serif' fill="#000" textLength="31.6" lengthAdjust="spacingAndGlyphs" >−1.44</text>
<text x="966" y="661.1" font-size="15.6" font-family='"Liberation Sans", sans-serif' fill="#000" textLength="79.9" lengthAdjust="spacingAndGlyphs" ><tspan font-style="italic">δt</tspan> = 64.25</text>
<text x="1047.4" y="654.9" font-size="11.2" font-family='"Liberation Sans", sans-serif' fill="#000" textLength="46.4" lengthAdjust="spacingAndGlyphs" >+111.19</text>
<text x="1047.4" y="664.9" font-size="11.2" font-family='"Liberation Sans", sans-serif' fill="#000" textLength="38.9" lengthAdjust="spacingAndGlyphs" >−34.37</text>
<text x="1089.9" y="772.7" font-size="15.6" font-family='"Liberation Sans", sans-serif' fill="#000" textLength="78.3" lengthAdjust="spacingAndGlyphs" ><tspan font-style="italic">α</tspan> = −3.47</text>
<text x="1169.7" y="766.5" font-size="11.2" font-family='"Liberation Sans", sans-serif' fill="#000" textLength="32.3" lengthAdjust="spacingAndGlyphs" >+0.82</text>
<text x="1169.7" y="776.9" font-size="11.2" font-family='"Liberation Sans", sans-serif' fill="#000" textLength="32.3" lengthAdjust="spacingAndGlyphs" >−0.39</text>
<clipPath id="sedclip0"><rect x="62.5" y="68" width="326.8" height="311.6"/></clipPath><g clip-path="url(#sedclip0)">
<polyline points="78.6,259.9 79.4,263 81.9,265.3 84.4,265.7 86.9,263.6 88.5,264.9 91,269.9 93.5,277.3 96,273.2 98.5,270.7 101.8,271.5 105.2,272.8 108.5,272.8 111,274 113.5,272.3 120.1,274 123.4,272.3 125.9,269.9 129.2,273.2 132.6,274 135.9,276.1 139.2,275.7 141.7,274.4 145,274.8 148.3,277.3 153.3,278.2 157.4,280.2 162,282.7 165,281.1 175.7,280.7 186.5,283.5 191.5,281.2 204.8,280.2 213.1,279 219.7,277.8 221.4,279 223,286 224.7,269.9 226.4,252 228,264.9 229.7,265.5 232.2,240 233.8,254 237.2,255.4 238.8,263.6 240.5,257 243,266.6 246.3,267.4 248.8,243 251.3,262 252.9,266 257.7,267.8 263.5,267 265.5,212 267.4,231 270.3,99.5 272.3,188 274.2,271.5 279,271.5 284.8,268.4 288.7,271.5 293.5,269.5 294.9,249 296.4,268.5 302.3,271.5 305.7,262 307.1,270.5 309.3,270 310.3,172 311.3,108 312.4,172 313.4,270 314.4,251 315.4,246 316.4,270 320.5,270 323.5,246 324.6,270 330.7,269 335,269 337.4,267.7 339.9,271.4 342.3,267.1 344.8,262.9 346.3,269 347.8,273.9 349.7,275.7 351.5,267.7 353.3,271.4 355.8,269 357.6,267.1 358.8,261.6 360.1,215 360.6,267.7 362.5,259.8 364.3,269 366.1,267.7 367.9,175 368.6,260.4 369.8,269 371.6,264.1 374.1,261.6 375.3,267.7 377.7,266.5 379,273.9 380.2,264.1 382.6,265.3 383.9,261.6 385.7,261" fill="none" stroke="#000" stroke-width="6" opacity="0.1" stroke-linejoin="round"/>
<polyline points="78.6,259.9 79.4,263 81.9,265.3 84.4,265.7 86.9,263.6 88.5,264.9 91,269.9 93.5,277.3 96,273.2 98.5,270.7 101.8,271.5 105.2,272.8 108.5,272.8 111,274 113.5,272.3 120.1,274 123.4,272.3 125.9,269.9 129.2,273.2 132.6,274 135.9,276.1 139.2,275.7 141.7,274.4 145,274.8 148.3,277.3 153.3,278.2 157.4,280.2 162,282.7 165,281.1 175.7,280.7 186.5,283.5 191.5,281.2 204.8,280.2 213.1,279 219.7,277.8 221.4,279 223,286 224.7,269.9 226.4,252 228,264.9 229.7,265.5 232.2,240 233.8,254 237.2,255.4 238.8,263.6 240.5,257 243,266.6 246.3,267.4 248.8,243 251.3,262 252.9,266 257.7,267.8 263.5,267 265.5,212 267.4,231 270.3,99.5 272.3,188 274.2,271.5 279,271.5 284.8,268.4 288.7,271.5 293.5,269.5 294.9,249 296.4,268.5 302.3,271.5 305.7,262 307.1,270.5 309.3,270 310.3,172 311.3,108 312.4,172 313.4,270 314.4,251 315.4,246 316.4,270 320.5,270 323.5,246 324.6,270 330.7,269 335,269 337.4,267.7 339.9,271.4 342.3,267.1 344.8,262.9 346.3,269 347.8,273.9 349.7,275.7 351.5,267.7 353.3,271.4 355.8,269 357.6,267.1 358.8,261.6 360.1,215 360.6,267.7 362.5,259.8 364.3,269 366.1,267.7 367.9,175 368.6,260.4 369.8,269 371.6,264.1 374.1,261.6 375.3,267.7 377.7,266.5 379,273.9 380.2,264.1 382.6,265.3 383.9,261.6 385.7,261" fill="none" stroke="#141414" stroke-width="1.5" stroke-linejoin="round"/>
<polyline points="78.6,265.7 81.9,266.5 86.9,266.5 90.2,270.7 93.5,279.4 96.9,273.2 100.2,269.9 103.5,268.6 106.8,269.9 110.1,272.3 115.1,272.3 120.1,274.4 125.1,264.5 128.4,275.7 133.4,277.3 139.2,277.3 145,278.2 153.3,280.2 162,282.7 165,281.1 175.7,280.7 186.5,282.7 191.5,280.7 204.8,279.8 213.1,279 219.7,277.8 221.4,279 223,287.3 224.7,269.9 226.4,249.1 228,264.9 229.7,264.9 232.2,237 233.8,251.6 237.2,253.3 238.8,261.6 240.5,254.9 243,264.9 246.3,266.6 248.8,240.8 251.3,260.7 252.9,264.9 257.7,266.8 263.5,265.9 265.5,209.8 267.4,229.2 270.3,101.6 272.3,186.6 274.2,270.7 279,270.7 284.8,267.4 288.7,270.7 293.5,268.8 294.9,250.4 296.4,267.8 302.3,270.7 305.7,261 307.1,269.7 309.3,269 310.3,175 311.3,113 312.4,175 313.4,269 314.4,250.7 315.4,244.6 316.4,269 320.5,269 323.5,244.6 324.6,269 330.7,268 335,266.5 336.8,260.4 337.6,267.1 341.1,269 343.5,270.8 347.2,272.6 350.9,273.9 355.2,271.4 358.5,267.7 360.1,199.2 361.6,269 363.7,261 365.5,268 366.6,243.9 367.9,144.6 369,243.9 369.6,269.6 371.6,267.7 374.5,263 375.6,243.3 376.8,267.7 380.8,266.5 385.7,265.3" fill="none" stroke="#c07fb6" stroke-width="1.5" stroke-linejoin="round"/>
<circle cx="78.6" cy="265.3" r="2.5" fill="#c27cb8" stroke="#2a1f28" stroke-width="0.8"/>
<circle cx="98.5" cy="270.7" r="2.5" fill="#c27cb8" stroke="#2a1f28" stroke-width="0.8"/>
<circle cx="115.9" cy="271.5" r="2.5" fill="#c27cb8" stroke="#2a1f28" stroke-width="0.8"/>
<circle cx="139.2" cy="276.1" r="2.5" fill="#c27cb8" stroke="#2a1f28" stroke-width="0.8"/>
<circle cx="153.3" cy="279" r="2.5" fill="#c27cb8" stroke="#2a1f28" stroke-width="0.8"/>
<circle cx="165" cy="280.7" r="2.5" fill="#c27cb8" stroke="#2a1f28" stroke-width="0.8"/>
<circle cx="181.6" cy="280.7" r="2.5" fill="#c27cb8" stroke="#2a1f28" stroke-width="0.8"/>
<circle cx="194" cy="280.2" r="2.5" fill="#c27cb8" stroke="#2a1f28" stroke-width="0.8"/>
<circle cx="205.2" cy="279.8" r="2.5" fill="#c27cb8" stroke="#2a1f28" stroke-width="0.8"/>
<circle cx="224.3" cy="265.7" r="2.5" fill="#c27cb8" stroke="#2a1f28" stroke-width="0.8"/>
<circle cx="235.1" cy="261.2" r="2.5" fill="#c27cb8" stroke="#2a1f28" stroke-width="0.8"/>
<circle cx="243.4" cy="259.5" r="2.5" fill="#c27cb8" stroke="#2a1f28" stroke-width="0.8"/>
<circle cx="270.3" cy="184.7" r="2.5" fill="#c27cb8" stroke="#2a1f28" stroke-width="0.8"/>
<circle cx="284.8" cy="236.9" r="2.5" fill="#c27cb8" stroke="#2a1f28" stroke-width="0.8"/>
<circle cx="297.4" cy="268.8" r="2.5" fill="#c27cb8" stroke="#2a1f28" stroke-width="0.8"/>
<circle cx="314.4" cy="233.4" r="2.5" fill="#c27cb8" stroke="#2a1f28" stroke-width="0.8"/>
<circle cx="323.5" cy="250.7" r="2.5" fill="#c27cb8" stroke="#2a1f28" stroke-width="0.8"/>
<circle cx="325.6" cy="265" r="2.5" fill="#c27cb8" stroke="#2a1f28" stroke-width="0.8"/>
<circle cx="343.8" cy="271.6" r="2.5" fill="#c27cb8" stroke="#2a1f28" stroke-width="0.8"/>
<circle cx="351.1" cy="274" r="2.5" fill="#c27cb8" stroke="#2a1f28" stroke-width="0.8"/>
<circle cx="354.7" cy="263.5" r="2.5" fill="#c27cb8" stroke="#2a1f28" stroke-width="0.8"/>
<circle cx="363.3" cy="253.7" r="2.5" fill="#c27cb8" stroke="#2a1f28" stroke-width="0.8"/>
<circle cx="369" cy="248.8" r="2.5" fill="#c27cb8" stroke="#2a1f28" stroke-width="0.8"/>
<line x1="78.6" y1="255.7" x2="78.6" y2="262.5" stroke="#111" stroke-width="1.0" opacity="0.6"/>
<circle cx="78.6" cy="259.1" r="2.7" fill="#2a2a2a" opacity="0.45"/>
<line x1="98.5" y1="261.9" x2="98.5" y2="268.7" stroke="#111" stroke-width="1.0" opacity="0.6"/>
<circle cx="98.5" cy="265.3" r="2.7" fill="#2a2a2a" opacity="0.45"/>
<line x1="115.9" y1="273.1" x2="115.9" y2="279.9" stroke="#111" stroke-width="1.0" opacity="0.6"/>
<circle cx="115.9" cy="276.5" r="2.7" fill="#2a2a2a" opacity="0.45"/>
<line x1="139.2" y1="269.8" x2="139.2" y2="276.6" stroke="#111" stroke-width="1.0" opacity="0.6"/>
<circle cx="139.2" cy="273.2" r="2.7" fill="#2a2a2a" opacity="0.45"/>
<line x1="153.3" y1="271" x2="153.3" y2="277.8" stroke="#111" stroke-width="1.0" opacity="0.6"/>
<circle cx="153.3" cy="274.4" r="2.7" fill="#2a2a2a" opacity="0.45"/>
<line x1="165" y1="278.1" x2="165" y2="284.9" stroke="#111" stroke-width="1.0" opacity="0.6"/>
<circle cx="165" cy="281.5" r="2.7" fill="#2a2a2a" opacity="0.45"/>
<line x1="181.6" y1="280.6" x2="181.6" y2="287.4" stroke="#111" stroke-width="1.0" opacity="0.6"/>
<circle cx="181.6" cy="284" r="2.7" fill="#2a2a2a" opacity="0.45"/>
<line x1="192.8" y1="282.6" x2="192.8" y2="289.4" stroke="#111" stroke-width="1.0" opacity="0.6"/>
<circle cx="192.8" cy="286" r="2.7" fill="#2a2a2a" opacity="0.45"/>
<line x1="205.7" y1="271.9" x2="205.7" y2="278.7" stroke="#111" stroke-width="1.0" opacity="0.6"/>
<circle cx="205.7" cy="275.3" r="2.7" fill="#2a2a2a" opacity="0.45"/>
<line x1="224.3" y1="263.6" x2="224.3" y2="270.4" stroke="#111" stroke-width="1.0" opacity="0.6"/>
<circle cx="224.3" cy="267" r="2.7" fill="#2a2a2a" opacity="0.45"/>
<line x1="235.1" y1="258.6" x2="235.1" y2="265.4" stroke="#111" stroke-width="1.0" opacity="0.6"/>
<circle cx="235.1" cy="262" r="2.7" fill="#2a2a2a" opacity="0.45"/>
<line x1="244.2" y1="258.2" x2="244.2" y2="265" stroke="#111" stroke-width="1.0" opacity="0.6"/>
<circle cx="244.2" cy="261.6" r="2.7" fill="#2a2a2a" opacity="0.45"/>
<line x1="270.3" y1="181.3" x2="270.3" y2="188.1" stroke="#111" stroke-width="1.0" opacity="0.6"/>
<circle cx="270.3" cy="184.7" r="2.7" fill="#2a2a2a" opacity="0.45"/>
<line x1="284.8" y1="235.6" x2="284.8" y2="242.4" stroke="#111" stroke-width="1.0" opacity="0.6"/>
<circle cx="284.8" cy="239" r="2.7" fill="#2a2a2a" opacity="0.45"/>
<line x1="297.4" y1="267.1" x2="297.4" y2="273.9" stroke="#111" stroke-width="1.0" opacity="0.6"/>
<circle cx="297.4" cy="270.5" r="2.7" fill="#2a2a2a" opacity="0.45"/>
<line x1="314.4" y1="235.1" x2="314.4" y2="241.9" stroke="#111" stroke-width="1.0" opacity="0.6"/>
<circle cx="314.4" cy="238.5" r="2.7" fill="#2a2a2a" opacity="0.45"/>
<line x1="323.5" y1="247.6" x2="323.5" y2="254.4" stroke="#111" stroke-width="1.0" opacity="0.6"/>
<circle cx="323.5" cy="251" r="2.7" fill="#2a2a2a" opacity="0.45"/>
<line x1="325.6" y1="262.6" x2="325.6" y2="269.4" stroke="#111" stroke-width="1.0" opacity="0.6"/>
<circle cx="325.6" cy="266" r="2.7" fill="#2a2a2a" opacity="0.45"/>
<line x1="351.1" y1="271.6" x2="351.1" y2="278.4" stroke="#111" stroke-width="1.0" opacity="0.6"/>
<circle cx="351.1" cy="275" r="2.7" fill="#2a2a2a" opacity="0.45"/>
<line x1="354.7" y1="251.9" x2="354.7" y2="258.7" stroke="#111" stroke-width="1.0" opacity="0.6"/>
<circle cx="354.7" cy="255.3" r="2.7" fill="#2a2a2a" opacity="0.45"/>
<line x1="363.3" y1="240.5" x2="363.3" y2="247.3" stroke="#111" stroke-width="1.0" opacity="0.6"/>
<circle cx="363.3" cy="243.9" r="2.7" fill="#2a2a2a" opacity="0.45"/>
<line x1="369" y1="240.5" x2="369" y2="247.3" stroke="#111" stroke-width="1.0" opacity="0.6"/>
<circle cx="369" cy="243.9" r="2.7" fill="#2a2a2a" opacity="0.45"/>
</g>
<rect x="69.5" y="75" width="196.8" height="46.2" fill="#fff" stroke="#d9d9d9" stroke-width="1" rx="3" ry="3" opacity="0.9"/>
<line x1="74.2" y1="86.9" x2="104.2" y2="86.9" stroke="#1a1a1a" stroke-width="1.5" />
<line x1="74.2" y1="107.9" x2="104.2" y2="107.9" stroke="#c586bb" stroke-width="1.5" />
<text x="115.3" y="92.4" font-size="15.4" font-family='"Liberation Sans", sans-serif' fill="#000" textLength="144.6" lengthAdjust="spacingAndGlyphs" >Simulated phot/spec</text>
<text x="115.3" y="112.9" font-size="15.4" font-family='"Liberation Sans", sans-serif' fill="#000" textLength="124.5" lengthAdjust="spacingAndGlyphs" >Best-fit phot/spec</text>
<clipPath id="sedclip514"><rect x="62.5" y="582" width="326.8" height="311.6"/></clipPath><g clip-path="url(#sedclip514)">
<polyline points="78.6,773.9 79.4,777 81.9,779.3 84.4,779.7 86.9,777.6 88.5,778.9 91,783.9 93.5,791.3 96,787.2 98.5,784.7 101.8,785.5 105.2,786.8 108.5,786.8 111,788 113.5,786.3 120.1,788 123.4,786.3 125.9,783.9 129.2,787.2 132.6,788 135.9,790.1 139.2,789.7 141.7,788.4 145,788.8 148.3,791.3 153.3,792.2 157.4,794.2 162,796.7 165,795.1 175.7,794.7 186.5,797.5 191.5,795.2 204.8,794.2 213.1,793 219.7,791.8 221.4,793 223,800 224.7,783.9 226.4,766 228,778.9 229.7,779.5 232.2,754 233.8,768 237.2,769.4 238.8,777.6 240.5,771 243,780.6 246.3,781.4 248.8,757 251.3,776 252.9,780 257.7,781.8 263.5,781 265.5,726 267.4,745 270.3,613.5 272.3,702 274.2,785.5 279,785.5 284.8,782.4 288.7,785.5 293.5,783.5 294.9,763 296.4,782.5 302.3,785.5 305.7,776 307.1,784.5 309.3,784 310.3,686 311.3,622 312.4,686 313.4,784 314.4,765 315.4,760 316.4,784 320.5,784 323.5,760 324.6,784 330.7,783 335,783 337.4,781.7 339.9,785.4 342.3,781.1 344.8,776.9 346.3,783 347.8,787.9 349.7,789.7 351.5,781.7 353.3,785.4 355.8,783 357.6,781.1 358.8,775.6 360.1,729 360.6,781.7 362.5,773.8 364.3,783 366.1,781.7 367.9,689 368.6,774.4 369.8,783 371.6,778.1 374.1,775.6 375.3,781.7 377.7,780.5 379,787.9 380.2,778.1 382.6,779.3 383.9,775.6 385.7,775" fill="none" stroke="#000" stroke-width="6" opacity="0.1" stroke-linejoin="round"/>
<polyline points="78.6,773.9 79.4,777 81.9,779.3 84.4,779.7 86.9,777.6 88.5,778.9 91,783.9 93.5,791.3 96,787.2 98.5,784.7 101.8,785.5 105.2,786.8 108.5,786.8 111,788 113.5,786.3 120.1,788 123.4,786.3 125.9,783.9 129.2,787.2 132.6,788 135.9,790.1 139.2,789.7 141.7,788.4 145,788.8 148.3,791.3 153.3,792.2 157.4,794.2 162,796.7 165,795.1 175.7,794.7 186.5,797.5 191.5,795.2 204.8,794.2 213.1,793 219.7,791.8 221.4,793 223,800 224.7,783.9 226.4,766 228,778.9 229.7,779.5 232.2,754 233.8,768 237.2,769.4 238.8,777.6 240.5,771 243,780.6 246.3,781.4 248.8,757 251.3,776 252.9,780 257.7,781.8 263.5,781 265.5,726 267.4,745 270.3,613.5 272.3,702 274.2,785.5 279,785.5 284.8,782.4 288.7,785.5 293.5,783.5 294.9,763 296.4,782.5 302.3,785.5 305.7,776 307.1,784.5 309.3,784 310.3,686 311.3,622 312.4,686 313.4,784 314.4,765 315.4,760 316.4,784 320.5,784 323.5,760 324.6,784 330.7,783 335,783 337.4,781.7 339.9,785.4 342.3,781.1 344.8,776.9 346.3,783 347.8,787.9 349.7,789.7 351.5,781.7 353.3,785.4 355.8,783 357.6,781.1 358.8,775.6 360.1,729 360.6,781.7 362.5,773.8 364.3,783 366.1,781.7 367.9,689 368.6,774.4 369.8,783 371.6,778.1 374.1,775.6 375.3,781.7 377.7,780.5 379,787.9 380.2,778.1 382.6,779.3 383.9,775.6 385.7,775" fill="none" stroke="#141414" stroke-width="1.5" stroke-linejoin="round"/>
<polyline points="78.6,784.7 81.9,780.5 86.9,780.5 90.2,788.7 93.5,797.4 96.9,787.2 100.2,783.9 103.5,782.6 106.8,783.9 110.1,786.3 115.1,786.3 120.1,788.4 125.1,778.5 128.4,789.7 133.4,791.3 139.2,791.3 145,792.2 153.3,794.2 162,796.7 165,795.1 175.7,794.7 186.5,796.7 191.5,794.7 204.8,793.8 213.1,793 219.7,791.8 221.4,793 223,801.3 224.7,783.9 226.4,763.1 228,778.9 229.7,778.9 232.2,751 233.8,765.6 237.2,767.3 238.8,775.6 240.5,768.9 243,778.9 246.3,780.6 248.8,754.8 251.3,774.7 252.9,778.9 257.7,780.8 263.5,779.9 265.5,723.8 267.4,743.2 270.3,615.6 272.3,700.6 274.2,784.7 279,784.7 284.8,781.4 288.7,784.7 293.5,782.8 294.9,764.4 296.4,781.8 302.3,784.7 305.7,775 307.1,783.7 309.3,783 310.3,689 311.3,627 312.4,689 313.4,783 314.4,764.7 315.4,758.6 316.4,783 320.5,783 323.5,758.6 324.6,783 330.7,782 335,780.5 336.8,774.4 337.6,781.1 341.1,783 343.5,784.8 347.2,786.6 350.9,787.9 355.2,785.4 358.5,781.7 360.1,713.2 361.6,783 363.7,775 365.5,782 366.6,757.9 367.9,658.6 369,757.9 369.6,783.6 371.6,781.7 374.5,777 375.6,757.3 376.8,781.7 380.8,780.5 385.7,779.3" fill="none" stroke="#c07fb6" stroke-width="1.5" stroke-linejoin="round"/>
<circle cx="78.6" cy="784.3" r="2.5" fill="#c27cb8" stroke="#2a1f28" stroke-width="0.8"/>
<circle cx="98.5" cy="786.5" r="2.5" fill="#c27cb8" stroke="#2a1f28" stroke-width="0.8"/>
<circle cx="139.2" cy="789" r="2.5" fill="#c27cb8" stroke="#2a1f28" stroke-width="0.8"/>
<circle cx="152.5" cy="791" r="2.5" fill="#c27cb8" stroke="#2a1f28" stroke-width="0.8"/>
<circle cx="181.5" cy="792.3" r="2.5" fill="#c27cb8" stroke="#2a1f28" stroke-width="0.8"/>
<circle cx="193.1" cy="792.3" r="2.5" fill="#c27cb8" stroke="#2a1f28" stroke-width="0.8"/>
<circle cx="204.5" cy="792.3" r="2.5" fill="#c27cb8" stroke="#2a1f28" stroke-width="0.8"/>
<circle cx="223.8" cy="778.2" r="2.5" fill="#c27cb8" stroke="#2a1f28" stroke-width="0.8"/>
<circle cx="235.4" cy="774" r="2.5" fill="#c27cb8" stroke="#2a1f28" stroke-width="0.8"/>
<circle cx="243.7" cy="773.2" r="2.5" fill="#c27cb8" stroke="#2a1f28" stroke-width="0.8"/>
<circle cx="270.3" cy="700.4" r="2.5" fill="#c27cb8" stroke="#2a1f28" stroke-width="0.8"/>
<circle cx="285.3" cy="750.6" r="2.5" fill="#c27cb8" stroke="#2a1f28" stroke-width="0.8"/>
<circle cx="297" cy="782.7" r="2.5" fill="#c27cb8" stroke="#2a1f28" stroke-width="0.8"/>
<circle cx="315.2" cy="747.4" r="2.5" fill="#c27cb8" stroke="#2a1f28" stroke-width="0.8"/>
<circle cx="323.7" cy="764.5" r="2.5" fill="#c27cb8" stroke="#2a1f28" stroke-width="0.8"/>
<circle cx="325.9" cy="777.3" r="2.5" fill="#c27cb8" stroke="#2a1f28" stroke-width="0.8"/>
<circle cx="344" cy="782.7" r="2.5" fill="#c27cb8" stroke="#2a1f28" stroke-width="0.8"/>
<circle cx="350.4" cy="784.8" r="2.5" fill="#c27cb8" stroke="#2a1f28" stroke-width="0.8"/>
<circle cx="354.7" cy="770.9" r="2.5" fill="#c27cb8" stroke="#2a1f28" stroke-width="0.8"/>
<circle cx="363.3" cy="758.1" r="2.5" fill="#c27cb8" stroke="#2a1f28" stroke-width="0.8"/>
<circle cx="369.7" cy="753.8" r="2.5" fill="#c27cb8" stroke="#2a1f28" stroke-width="0.8"/>
<line x1="78.6" y1="772.3" x2="78.6" y2="779.1" stroke="#111" stroke-width="1.0" opacity="0.6"/>
<circle cx="78.6" cy="775.7" r="2.7" fill="#2a2a2a" opacity="0.45"/>
<line x1="98.5" y1="787.1" x2="98.5" y2="793.9" stroke="#111" stroke-width="1.0" opacity="0.6"/>
<circle cx="98.5" cy="790.5" r="2.7" fill="#2a2a2a" opacity="0.45"/>
<line x1="116" y1="781.4" x2="116" y2="788.2" stroke="#111" stroke-width="1.0" opacity="0.6"/>
<circle cx="116" cy="784.8" r="2.7" fill="#2a2a2a" opacity="0.45"/>
<line x1="139.2" y1="791.4" x2="139.2" y2="798.2" stroke="#111" stroke-width="1.0" opacity="0.6"/>
<circle cx="139.2" cy="794.8" r="2.7" fill="#2a2a2a" opacity="0.45"/>
<line x1="152.5" y1="789.6" x2="152.5" y2="796.4" stroke="#111" stroke-width="1.0" opacity="0.6"/>
<circle cx="152.5" cy="793" r="2.7" fill="#2a2a2a" opacity="0.45"/>
<line x1="164.9" y1="788" x2="164.9" y2="794.8" stroke="#111" stroke-width="1.0" opacity="0.6"/>
<circle cx="164.9" cy="791.4" r="2.7" fill="#2a2a2a" opacity="0.45"/>
<line x1="183.2" y1="794.7" x2="183.2" y2="801.5" stroke="#111" stroke-width="1.0" opacity="0.6"/>
<circle cx="183.2" cy="798.1" r="2.7" fill="#2a2a2a" opacity="0.45"/>
<line x1="193.1" y1="793.6" x2="193.1" y2="800.4" stroke="#111" stroke-width="1.0" opacity="0.6"/>
<circle cx="193.1" cy="797" r="2.7" fill="#2a2a2a" opacity="0.45"/>
<line x1="196.5" y1="788.9" x2="196.5" y2="795.7" stroke="#111" stroke-width="1.0" opacity="0.6"/>
<circle cx="196.5" cy="792.3" r="2.7" fill="#2a2a2a" opacity="0.45"/>
<line x1="205" y1="790.4" x2="205" y2="797.2" stroke="#111" stroke-width="1.0" opacity="0.6"/>
<circle cx="205" cy="793.8" r="2.7" fill="#2a2a2a" opacity="0.45"/>
<line x1="224.6" y1="776.6" x2="224.6" y2="783.4" stroke="#111" stroke-width="1.0" opacity="0.6"/>
<circle cx="224.6" cy="780" r="2.7" fill="#2a2a2a" opacity="0.45"/>
<line x1="235.4" y1="771.6" x2="235.4" y2="778.4" stroke="#111" stroke-width="1.0" opacity="0.6"/>
<circle cx="235.4" cy="775" r="2.7" fill="#2a2a2a" opacity="0.45"/>
<line x1="243.7" y1="767.6" x2="243.7" y2="774.4" stroke="#111" stroke-width="1.0" opacity="0.6"/>
<circle cx="243.7" cy="771" r="2.7" fill="#2a2a2a" opacity="0.45"/>
<line x1="270.3" y1="697" x2="270.3" y2="703.8" stroke="#111" stroke-width="1.0" opacity="0.6"/>
<circle cx="270.3" cy="700.4" r="2.7" fill="#2a2a2a" opacity="0.45"/>
<line x1="285.3" y1="739.7" x2="285.3" y2="746.5" stroke="#111" stroke-width="1.0" opacity="0.6"/>
<circle cx="285.3" cy="743.1" r="2.7" fill="#2a2a2a" opacity="0.45"/>
<line x1="297" y1="780.6" x2="297" y2="787.4" stroke="#111" stroke-width="1.0" opacity="0.6"/>
<circle cx="297" cy="784" r="2.7" fill="#2a2a2a" opacity="0.45"/>
<line x1="315.2" y1="744" x2="315.2" y2="750.8" stroke="#111" stroke-width="1.0" opacity="0.6"/>
<circle cx="315.2" cy="747.4" r="2.7" fill="#2a2a2a" opacity="0.45"/>
<line x1="323.7" y1="761.1" x2="323.7" y2="767.9" stroke="#111" stroke-width="1.0" opacity="0.6"/>
<circle cx="323.7" cy="764.5" r="2.7" fill="#2a2a2a" opacity="0.45"/>
<line x1="325.9" y1="775.6" x2="325.9" y2="782.4" stroke="#111" stroke-width="1.0" opacity="0.6"/>
<circle cx="325.9" cy="779" r="2.7" fill="#2a2a2a" opacity="0.45"/>
<line x1="350.4" y1="782.6" x2="350.4" y2="789.4" stroke="#111" stroke-width="1.0" opacity="0.6"/>
<circle cx="350.4" cy="786" r="2.7" fill="#2a2a2a" opacity="0.45"/>
<line x1="354.7" y1="762.6" x2="354.7" y2="769.4" stroke="#111" stroke-width="1.0" opacity="0.6"/>
<circle cx="354.7" cy="766" r="2.7" fill="#2a2a2a" opacity="0.45"/>
<line x1="363.3" y1="747.6" x2="363.3" y2="754.4" stroke="#111" stroke-width="1.0" opacity="0.6"/>
<circle cx="363.3" cy="751" r="2.7" fill="#2a2a2a" opacity="0.45"/>
<line x1="369.7" y1="747.6" x2="369.7" y2="754.4" stroke="#111" stroke-width="1.0" opacity="0.6"/>
<circle cx="369.7" cy="751" r="2.7" fill="#2a2a2a" opacity="0.45"/>
</g>
<rect x="69.5" y="589" width="196.8" height="46.2" fill="#fff" stroke="#d9d9d9" stroke-width="1" rx="3" ry="3" opacity="0.9"/>
<line x1="74.2" y1="600.9" x2="104.2" y2="600.9" stroke="#1a1a1a" stroke-width="1.5" />
<line x1="74.2" y1="621.9" x2="104.2" y2="621.9" stroke="#c586bb" stroke-width="1.5" />
<text x="115.3" y="606.4" font-size="15.4" font-family='"Liberation Sans", sans-serif' fill="#000" textLength="144.6" lengthAdjust="spacingAndGlyphs" >Simulated phot/spec</text>
<text x="115.3" y="626.9" font-size="15.4" font-family='"Liberation Sans", sans-serif' fill="#000" textLength="124.5" lengthAdjust="spacingAndGlyphs" >Best-fit phot/spec</text>
<text x="602.7" y="463.9" font-size="23.3" font-family='"Liberation Serif", serif' fill="#000" text-anchor="middle" textLength="25.5" lengthAdjust="spacingAndGlyphs" style="stroke:none">(a)</text>
<text x="602.7" y="978.1" font-size="23.3" font-family='"Liberation Serif", serif' fill="#000" text-anchor="middle" textLength="26" lengthAdjust="spacingAndGlyphs" style="stroke:none">(b)</text>
</svg></body></html>
